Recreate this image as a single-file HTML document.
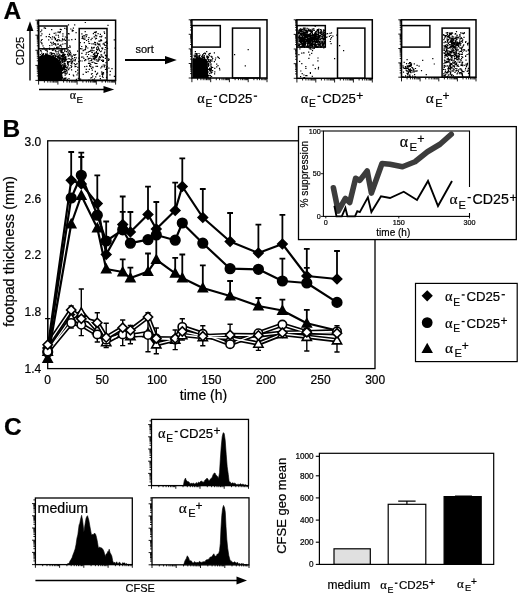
<!DOCTYPE html>
<html><head><meta charset="utf-8"><style>
html,body{margin:0;padding:0;background:#fff;width:520px;height:595px;overflow:hidden}
svg{display:block;filter:blur(0.35px);font-family:"Liberation Sans",sans-serif}
text{stroke:#000;stroke-width:0.2px}
</style></head><body>
<svg width="520" height="595" viewBox="0 0 520 595" font-family="Liberation Sans">
<rect width="520" height="595" fill="#fff"/>
<text x="3.6" y="18.7" font-size="24.5" text-anchor="start" font-weight="bold" >A</text>
<path d="M39 80.4 L39 56.5 C42 55 47 54.6 52 55.4 C56.5 56.5 59.6 60 61 65 C62 69 62.5 75 62.5 80.4 Z" fill="#000"/>
<path d="M52.2 70.3h1.2v1.2h-1.2zM52.4 65.0h1.2v1.2h-1.2zM47.5 65.6h1.2v1.2h-1.2zM61.8 69.8h1.2v1.2h-1.2zM61.3 68.6h1.2v1.2h-1.2zM56.8 68.2h1.2v1.2h-1.2zM42.3 72.6h1.2v1.2h-1.2zM57.5 70.2h1.2v1.2h-1.2zM42.2 55.7h1.2v1.2h-1.2zM47.8 64.0h1.2v1.2h-1.2zM56.1 66.7h1.2v1.2h-1.2zM57.6 62.8h1.2v1.2h-1.2zM56.2 69.6h1.2v1.2h-1.2zM49.4 78.2h1.2v1.2h-1.2zM57.9 74.8h1.2v1.2h-1.2zM49.7 62.2h1.2v1.2h-1.2zM51.6 66.3h1.2v1.2h-1.2zM58.4 68.6h1.2v1.2h-1.2zM50.9 60.8h1.2v1.2h-1.2zM50.4 74.9h1.2v1.2h-1.2zM48.3 68.6h1.2v1.2h-1.2zM57.0 57.3h1.2v1.2h-1.2zM54.3 75.5h1.2v1.2h-1.2zM39.9 64.9h1.2v1.2h-1.2zM53.3 61.7h1.2v1.2h-1.2zM57.5 66.6h1.2v1.2h-1.2zM43.7 72.4h1.2v1.2h-1.2zM58.7 73.1h1.2v1.2h-1.2zM64.1 69.4h1.2v1.2h-1.2zM54.8 58.6h1.2v1.2h-1.2zM58.3 63.0h1.2v1.2h-1.2zM50.8 58.8h1.2v1.2h-1.2zM47.2 63.5h1.2v1.2h-1.2zM63.0 53.8h1.2v1.2h-1.2zM43.8 68.6h1.2v1.2h-1.2zM64.1 70.8h1.2v1.2h-1.2zM40.7 50.6h1.2v1.2h-1.2zM56.5 62.2h1.2v1.2h-1.2zM46.2 73.4h1.2v1.2h-1.2zM61.7 68.0h1.2v1.2h-1.2zM55.7 69.8h1.2v1.2h-1.2zM65.2 71.0h1.2v1.2h-1.2zM57.6 70.6h1.2v1.2h-1.2zM43.0 75.3h1.2v1.2h-1.2zM60.7 70.4h1.2v1.2h-1.2zM40.2 62.9h1.2v1.2h-1.2zM59.9 55.2h1.2v1.2h-1.2zM52.7 73.6h1.2v1.2h-1.2zM44.8 77.5h1.2v1.2h-1.2zM57.9 66.0h1.2v1.2h-1.2zM56.3 71.2h1.2v1.2h-1.2zM54.8 74.4h1.2v1.2h-1.2zM49.4 64.3h1.2v1.2h-1.2zM61.3 67.2h1.2v1.2h-1.2zM47.8 73.2h1.2v1.2h-1.2zM64.3 64.1h1.2v1.2h-1.2zM44.3 66.1h1.2v1.2h-1.2zM53.0 65.1h1.2v1.2h-1.2zM63.8 60.3h1.2v1.2h-1.2zM62.8 58.8h1.2v1.2h-1.2zM48.5 71.1h1.2v1.2h-1.2zM61.9 72.6h1.2v1.2h-1.2zM56.4 67.9h1.2v1.2h-1.2zM55.1 70.7h1.2v1.2h-1.2zM52.8 68.8h1.2v1.2h-1.2zM58.0 67.0h1.2v1.2h-1.2zM59.3 70.7h1.2v1.2h-1.2zM68.1 69.1h1.2v1.2h-1.2zM51.0 64.6h1.2v1.2h-1.2zM53.9 73.0h1.2v1.2h-1.2zM51.6 69.5h1.2v1.2h-1.2zM66.9 50.3h1.2v1.2h-1.2zM46.1 68.6h1.2v1.2h-1.2zM56.8 68.6h1.2v1.2h-1.2zM51.0 71.3h1.2v1.2h-1.2zM56.0 63.6h1.2v1.2h-1.2zM71.0 69.3h1.2v1.2h-1.2zM50.1 66.4h1.2v1.2h-1.2zM52.4 66.6h1.2v1.2h-1.2zM61.1 59.4h1.2v1.2h-1.2zM53.5 73.2h1.2v1.2h-1.2zM60.0 76.7h1.2v1.2h-1.2zM42.1 64.7h1.2v1.2h-1.2zM51.6 71.1h1.2v1.2h-1.2zM61.6 49.6h1.2v1.2h-1.2zM61.6 57.6h1.2v1.2h-1.2zM58.8 57.3h1.2v1.2h-1.2zM55.2 74.8h1.2v1.2h-1.2zM53.0 68.2h1.2v1.2h-1.2zM59.6 67.9h1.2v1.2h-1.2zM53.4 77.0h1.2v1.2h-1.2zM61.3 65.1h1.2v1.2h-1.2zM73.2 59.5h1.2v1.2h-1.2zM60.4 65.3h1.2v1.2h-1.2zM54.9 71.6h1.2v1.2h-1.2zM55.6 71.2h1.2v1.2h-1.2zM43.3 57.2h1.2v1.2h-1.2zM58.3 60.7h1.2v1.2h-1.2zM46.8 57.4h1.2v1.2h-1.2zM62.9 71.9h1.2v1.2h-1.2zM64.3 60.9h1.2v1.2h-1.2zM54.0 59.6h1.2v1.2h-1.2zM59.4 77.3h1.2v1.2h-1.2zM47.8 77.1h1.2v1.2h-1.2zM60.9 65.8h1.2v1.2h-1.2zM40.2 76.1h1.2v1.2h-1.2zM53.3 63.1h1.2v1.2h-1.2zM56.8 69.7h1.2v1.2h-1.2zM64.5 60.4h1.2v1.2h-1.2zM62.0 76.7h1.2v1.2h-1.2zM64.2 65.8h1.2v1.2h-1.2zM48.8 73.6h1.2v1.2h-1.2zM54.8 67.8h1.2v1.2h-1.2zM64.0 65.3h1.2v1.2h-1.2zM41.0 72.3h1.2v1.2h-1.2zM56.2 63.0h1.2v1.2h-1.2zM53.9 72.4h1.2v1.2h-1.2zM54.6 75.6h1.2v1.2h-1.2zM53.6 73.8h1.2v1.2h-1.2zM64.4 77.5h1.2v1.2h-1.2zM49.3 72.7h1.2v1.2h-1.2zM40.9 60.0h1.2v1.2h-1.2zM40.3 73.9h1.2v1.2h-1.2zM45.4 66.9h1.2v1.2h-1.2zM52.7 66.8h1.2v1.2h-1.2zM49.9 68.5h1.2v1.2h-1.2zM66.5 67.3h1.2v1.2h-1.2zM57.7 73.5h1.2v1.2h-1.2zM52.6 58.8h1.2v1.2h-1.2zM50.1 74.0h1.2v1.2h-1.2zM42.5 63.1h1.2v1.2h-1.2zM61.1 72.2h1.2v1.2h-1.2zM54.1 72.2h1.2v1.2h-1.2zM55.2 59.3h1.2v1.2h-1.2zM43.1 62.8h1.2v1.2h-1.2zM60.5 63.3h1.2v1.2h-1.2zM47.7 62.0h1.2v1.2h-1.2zM43.3 66.2h1.2v1.2h-1.2zM45.7 69.4h1.2v1.2h-1.2zM49.5 54.4h1.2v1.2h-1.2zM59.1 65.2h1.2v1.2h-1.2zM56.0 64.0h1.2v1.2h-1.2zM59.5 71.9h1.2v1.2h-1.2zM58.7 69.1h1.2v1.2h-1.2zM63.3 71.3h1.2v1.2h-1.2zM57.2 53.5h1.2v1.2h-1.2zM60.3 75.5h1.2v1.2h-1.2zM51.9 63.9h1.2v1.2h-1.2zM67.6 55.6h1.2v1.2h-1.2zM47.5 71.5h1.2v1.2h-1.2zM67.2 66.2h1.2v1.2h-1.2zM57.9 72.9h1.2v1.2h-1.2zM47.7 66.4h1.2v1.2h-1.2zM56.0 72.4h1.2v1.2h-1.2zM53.8 65.7h1.2v1.2h-1.2zM46.9 64.7h1.2v1.2h-1.2zM60.2 67.7h1.2v1.2h-1.2zM48.0 61.5h1.2v1.2h-1.2zM72.7 74.4h1.2v1.2h-1.2zM58.5 50.1h1.2v1.2h-1.2zM58.4 70.1h1.2v1.2h-1.2zM65.8 69.8h1.2v1.2h-1.2zM53.5 70.4h1.2v1.2h-1.2zM40.4 73.7h1.2v1.2h-1.2zM56.3 62.4h1.2v1.2h-1.2zM63.3 78.8h1.2v1.2h-1.2zM44.2 62.7h1.2v1.2h-1.2zM56.0 68.2h1.2v1.2h-1.2zM51.2 60.7h1.2v1.2h-1.2zM68.8 73.7h1.2v1.2h-1.2zM45.6 58.3h1.2v1.2h-1.2zM65.9 73.4h1.2v1.2h-1.2zM66.7 72.3h1.2v1.2h-1.2zM47.9 68.7h1.2v1.2h-1.2zM53.6 70.4h1.2v1.2h-1.2zM48.9 66.2h1.2v1.2h-1.2zM57.2 69.4h1.2v1.2h-1.2zM58.5 68.4h1.2v1.2h-1.2zM51.7 72.1h1.2v1.2h-1.2zM54.3 61.6h1.2v1.2h-1.2zM49.6 67.0h1.2v1.2h-1.2zM53.2 68.0h1.2v1.2h-1.2zM54.0 68.1h1.2v1.2h-1.2zM53.1 58.8h1.2v1.2h-1.2zM56.9 73.8h1.2v1.2h-1.2zM57.0 65.8h1.2v1.2h-1.2zM57.1 60.7h1.2v1.2h-1.2zM40.7 67.4h1.2v1.2h-1.2zM47.5 71.8h1.2v1.2h-1.2zM46.4 49.9h1.2v1.2h-1.2zM46.7 77.3h1.2v1.2h-1.2zM51.3 58.1h1.2v1.2h-1.2zM48.7 70.4h1.2v1.2h-1.2zM57.5 68.1h1.2v1.2h-1.2zM64.4 71.6h1.2v1.2h-1.2zM53.9 70.9h1.2v1.2h-1.2zM65.6 73.3h1.2v1.2h-1.2zM61.2 60.0h1.2v1.2h-1.2zM53.0 71.7h1.2v1.2h-1.2zM51.9 73.9h1.2v1.2h-1.2zM58.2 72.9h1.2v1.2h-1.2zM62.7 65.6h1.2v1.2h-1.2zM51.6 72.7h1.2v1.2h-1.2zM60.9 67.0h1.2v1.2h-1.2zM45.8 68.2h1.2v1.2h-1.2zM56.5 74.3h1.2v1.2h-1.2zM59.5 67.2h1.2v1.2h-1.2zM60.0 70.5h1.2v1.2h-1.2zM55.4 67.4h1.2v1.2h-1.2zM52.3 71.5h1.2v1.2h-1.2zM46.6 62.9h1.2v1.2h-1.2zM54.0 57.5h1.2v1.2h-1.2zM50.9 53.9h1.2v1.2h-1.2zM49.2 70.7h1.2v1.2h-1.2zM58.0 66.6h1.2v1.2h-1.2zM52.4 57.8h1.2v1.2h-1.2zM66.8 70.4h1.2v1.2h-1.2zM61.7 61.3h1.2v1.2h-1.2zM52.7 55.2h1.2v1.2h-1.2zM59.5 73.1h1.2v1.2h-1.2zM40.7 66.7h1.2v1.2h-1.2zM58.4 55.5h1.2v1.2h-1.2zM41.2 60.1h1.2v1.2h-1.2zM49.6 57.9h1.2v1.2h-1.2zM54.2 68.6h1.2v1.2h-1.2zM58.4 71.6h1.2v1.2h-1.2zM64.5 74.6h1.2v1.2h-1.2zM44.8 63.7h1.2v1.2h-1.2zM46.6 60.0h1.2v1.2h-1.2zM53.4 67.0h1.2v1.2h-1.2zM57.4 56.7h1.2v1.2h-1.2zM45.3 66.8h1.2v1.2h-1.2zM52.6 65.0h1.2v1.2h-1.2zM53.6 62.1h1.2v1.2h-1.2zM58.9 69.3h1.2v1.2h-1.2zM53.4 62.6h1.2v1.2h-1.2zM52.8 49.3h1.2v1.2h-1.2zM47.1 67.2h1.2v1.2h-1.2zM43.5 68.3h1.2v1.2h-1.2zM55.0 58.0h1.2v1.2h-1.2zM52.2 65.0h1.2v1.2h-1.2zM57.2 71.0h1.2v1.2h-1.2zM53.7 61.5h1.2v1.2h-1.2zM53.0 66.6h1.2v1.2h-1.2zM59.1 68.9h1.2v1.2h-1.2zM48.9 58.2h1.2v1.2h-1.2zM51.4 62.2h1.2v1.2h-1.2zM46.2 66.2h1.2v1.2h-1.2zM50.6 67.7h1.2v1.2h-1.2zM57.7 64.3h1.2v1.2h-1.2zM70.3 64.9h1.2v1.2h-1.2zM61.7 67.8h1.2v1.2h-1.2zM61.8 51.6h1.2v1.2h-1.2zM48.7 68.6h1.2v1.2h-1.2zM56.3 75.3h1.2v1.2h-1.2zM59.4 73.2h1.2v1.2h-1.2zM57.6 66.0h1.2v1.2h-1.2zM57.6 60.0h1.2v1.2h-1.2zM62.3 60.4h1.2v1.2h-1.2zM52.4 67.1h1.2v1.2h-1.2zM62.1 67.2h1.2v1.2h-1.2zM48.3 68.7h1.2v1.2h-1.2zM58.1 71.6h1.2v1.2h-1.2zM48.6 78.4h1.2v1.2h-1.2zM65.7 67.1h1.2v1.2h-1.2zM55.9 64.2h1.2v1.2h-1.2zM63.9 62.4h1.2v1.2h-1.2zM58.7 63.9h1.2v1.2h-1.2zM49.1 71.7h1.2v1.2h-1.2zM63.3 66.9h1.2v1.2h-1.2zM49.3 72.3h1.2v1.2h-1.2zM53.7 69.0h1.2v1.2h-1.2zM64.7 74.4h1.2v1.2h-1.2zM54.0 72.1h1.2v1.2h-1.2zM49.5 66.7h1.2v1.2h-1.2zM41.8 78.6h1.2v1.2h-1.2zM63.6 59.1h1.2v1.2h-1.2zM43.5 56.5h1.2v1.2h-1.2zM62.2 64.0h1.2v1.2h-1.2zM53.6 65.0h1.2v1.2h-1.2zM53.2 59.9h1.2v1.2h-1.2zM54.2 57.7h1.2v1.2h-1.2zM53.5 69.0h1.2v1.2h-1.2zM57.3 65.5h1.2v1.2h-1.2zM47.7 68.0h1.2v1.2h-1.2zM50.6 77.2h1.2v1.2h-1.2zM59.4 66.3h1.2v1.2h-1.2zM50.7 62.4h1.2v1.2h-1.2zM47.4 64.7h1.2v1.2h-1.2zM56.1 70.4h1.2v1.2h-1.2zM49.1 67.1h1.2v1.2h-1.2zM73.6 54.9h1.2v1.2h-1.2zM50.3 68.1h1.2v1.2h-1.2zM55.1 69.7h1.2v1.2h-1.2zM52.3 69.4h1.2v1.2h-1.2zM54.4 72.0h1.2v1.2h-1.2zM40.8 61.2h1.2v1.2h-1.2zM54.0 60.3h1.2v1.2h-1.2zM46.7 71.1h1.2v1.2h-1.2zM49.5 71.1h1.2v1.2h-1.2zM59.2 69.0h1.2v1.2h-1.2zM57.6 66.3h1.2v1.2h-1.2zM44.1 66.8h1.2v1.2h-1.2zM57.2 63.6h1.2v1.2h-1.2zM53.3 71.9h1.2v1.2h-1.2zM47.9 71.2h1.2v1.2h-1.2zM67.0 63.4h1.2v1.2h-1.2zM55.0 66.0h1.2v1.2h-1.2zM64.8 69.1h1.2v1.2h-1.2zM60.3 62.5h1.2v1.2h-1.2zM53.9 66.9h1.2v1.2h-1.2zM41.6 76.4h1.2v1.2h-1.2zM60.3 55.6h1.2v1.2h-1.2zM59.2 66.1h1.2v1.2h-1.2zM57.1 69.4h1.2v1.2h-1.2zM43.5 65.6h1.2v1.2h-1.2zM64.4 63.3h1.2v1.2h-1.2zM46.8 58.2h1.2v1.2h-1.2zM45.5 69.2h1.2v1.2h-1.2zM65.8 69.8h1.2v1.2h-1.2zM50.4 62.6h1.2v1.2h-1.2zM57.7 70.6h1.2v1.2h-1.2zM46.9 59.4h1.2v1.2h-1.2zM56.0 68.6h1.2v1.2h-1.2zM44.9 65.7h1.2v1.2h-1.2zM50.2 70.0h1.2v1.2h-1.2zM53.2 66.4h1.2v1.2h-1.2zM51.5 73.8h1.2v1.2h-1.2zM63.7 64.6h1.2v1.2h-1.2zM59.9 62.1h1.2v1.2h-1.2zM54.5 71.9h1.2v1.2h-1.2zM64.6 64.5h1.2v1.2h-1.2zM53.5 68.3h1.2v1.2h-1.2zM43.5 67.1h1.2v1.2h-1.2zM49.3 69.4h1.2v1.2h-1.2zM46.1 54.2h1.2v1.2h-1.2zM54.3 68.7h1.2v1.2h-1.2zM50.2 72.8h1.2v1.2h-1.2zM52.1 63.1h1.2v1.2h-1.2zM57.3 56.8h1.2v1.2h-1.2zM49.3 66.9h1.2v1.2h-1.2zM59.9 65.9h1.2v1.2h-1.2zM56.2 62.7h1.2v1.2h-1.2zM56.1 77.8h1.2v1.2h-1.2zM49.5 67.1h1.2v1.2h-1.2zM55.2 73.7h1.2v1.2h-1.2zM45.3 53.3h1.2v1.2h-1.2zM58.2 72.2h1.2v1.2h-1.2zM55.4 68.7h1.2v1.2h-1.2zM60.5 69.4h1.2v1.2h-1.2zM65.6 59.0h1.2v1.2h-1.2zM51.4 44.6h1.2v1.2h-1.2zM59.7 64.6h1.2v1.2h-1.2zM54.0 65.3h1.2v1.2h-1.2zM50.5 61.6h1.2v1.2h-1.2zM49.6 71.2h1.2v1.2h-1.2zM54.3 67.4h1.2v1.2h-1.2zM52.8 72.9h1.2v1.2h-1.2zM57.5 66.1h1.2v1.2h-1.2zM58.7 66.0h1.2v1.2h-1.2zM45.9 76.5h1.2v1.2h-1.2zM57.3 60.8h1.2v1.2h-1.2zM61.6 69.2h1.2v1.2h-1.2zM43.0 77.5h1.2v1.2h-1.2zM56.3 72.8h1.2v1.2h-1.2zM55.4 66.0h1.2v1.2h-1.2zM43.2 73.3h1.2v1.2h-1.2zM54.2 65.1h1.2v1.2h-1.2zM56.5 67.5h1.2v1.2h-1.2zM58.7 64.6h1.2v1.2h-1.2zM53.7 53.1h1.2v1.2h-1.2zM51.0 71.4h1.2v1.2h-1.2zM63.4 64.6h1.2v1.2h-1.2zM53.2 77.3h1.2v1.2h-1.2zM51.7 71.8h1.2v1.2h-1.2zM65.7 67.3h1.2v1.2h-1.2zM62.6 62.4h1.2v1.2h-1.2zM55.5 66.5h1.2v1.2h-1.2zM54.8 74.3h1.2v1.2h-1.2zM70.7 62.7h1.2v1.2h-1.2zM50.0 70.2h1.2v1.2h-1.2zM46.6 70.2h1.2v1.2h-1.2zM58.0 65.2h1.2v1.2h-1.2zM57.7 56.9h1.2v1.2h-1.2zM59.3 57.0h1.2v1.2h-1.2zM49.1 63.4h1.2v1.2h-1.2zM51.2 72.6h1.2v1.2h-1.2zM54.6 64.4h1.2v1.2h-1.2zM57.8 77.3h1.2v1.2h-1.2zM54.0 69.4h1.2v1.2h-1.2zM62.7 68.7h1.2v1.2h-1.2zM69.5 54.1h1.2v1.2h-1.2zM53.7 69.7h1.2v1.2h-1.2zM60.8 71.3h1.2v1.2h-1.2zM52.1 60.2h1.2v1.2h-1.2zM54.7 73.7h1.2v1.2h-1.2zM46.4 60.3h1.2v1.2h-1.2zM53.8 54.4h1.2v1.2h-1.2zM52.2 64.2h1.2v1.2h-1.2zM57.2 62.4h1.2v1.2h-1.2zM47.8 64.4h1.2v1.2h-1.2zM53.7 62.7h1.2v1.2h-1.2zM54.1 71.9h1.2v1.2h-1.2zM62.3 78.1h1.2v1.2h-1.2zM48.5 64.3h1.2v1.2h-1.2zM48.9 66.8h1.2v1.2h-1.2zM57.7 58.2h1.2v1.2h-1.2zM57.2 66.8h1.2v1.2h-1.2zM41.2 68.9h1.2v1.2h-1.2zM62.4 54.9h1.2v1.2h-1.2zM59.7 68.4h1.2v1.2h-1.2zM57.3 69.9h1.2v1.2h-1.2zM63.1 65.5h1.2v1.2h-1.2zM60.1 64.3h1.2v1.2h-1.2zM59.1 61.7h1.2v1.2h-1.2zM53.2 78.3h1.2v1.2h-1.2zM57.1 66.0h1.2v1.2h-1.2zM46.0 61.9h1.2v1.2h-1.2zM55.4 73.1h1.2v1.2h-1.2zM57.0 70.4h1.2v1.2h-1.2zM53.7 75.8h1.2v1.2h-1.2zM51.3 63.4h1.2v1.2h-1.2zM60.2 67.4h1.2v1.2h-1.2zM52.1 63.3h1.2v1.2h-1.2zM52.2 71.1h1.2v1.2h-1.2zM56.5 59.1h1.2v1.2h-1.2zM57.0 68.2h1.2v1.2h-1.2zM47.0 72.0h1.2v1.2h-1.2zM52.0 64.8h1.2v1.2h-1.2zM59.6 75.6h1.2v1.2h-1.2zM49.2 69.8h1.2v1.2h-1.2zM50.5 74.8h1.2v1.2h-1.2zM49.5 72.3h1.2v1.2h-1.2zM69.5 50.5h1.2v1.2h-1.2zM51.0 70.3h1.2v1.2h-1.2zM53.3 62.7h1.2v1.2h-1.2zM69.1 67.5h1.2v1.2h-1.2zM42.5 72.6h1.2v1.2h-1.2zM41.9 74.5h1.2v1.2h-1.2zM50.0 67.9h1.2v1.2h-1.2zM62.8 67.8h1.2v1.2h-1.2zM44.3 56.0h1.2v1.2h-1.2zM62.3 71.8h1.2v1.2h-1.2zM48.3 72.6h1.2v1.2h-1.2zM57.5 71.2h1.2v1.2h-1.2zM60.3 71.8h1.2v1.2h-1.2zM60.2 51.0h1.2v1.2h-1.2zM55.2 70.2h1.2v1.2h-1.2zM71.9 60.8h1.2v1.2h-1.2zM51.7 67.2h1.2v1.2h-1.2zM60.2 64.1h1.2v1.2h-1.2zM62.0 61.9h1.2v1.2h-1.2zM55.9 63.6h1.2v1.2h-1.2zM55.1 62.5h1.2v1.2h-1.2zM42.8 74.1h1.2v1.2h-1.2zM56.1 63.4h1.2v1.2h-1.2zM55.4 73.4h1.2v1.2h-1.2zM47.2 66.3h1.2v1.2h-1.2zM57.8 70.4h1.2v1.2h-1.2zM51.7 53.3h1.2v1.2h-1.2zM62.7 69.1h1.2v1.2h-1.2zM54.1 65.2h1.2v1.2h-1.2zM55.8 64.2h1.2v1.2h-1.2zM46.8 62.2h1.2v1.2h-1.2zM49.8 63.0h1.2v1.2h-1.2zM45.9 71.1h1.2v1.2h-1.2zM44.8 71.3h1.2v1.2h-1.2zM46.9 69.3h1.2v1.2h-1.2zM63.6 68.3h1.2v1.2h-1.2zM48.9 67.3h1.2v1.2h-1.2zM55.0 55.7h1.2v1.2h-1.2zM49.7 68.1h1.2v1.2h-1.2zM50.7 67.5h1.2v1.2h-1.2zM59.1 72.0h1.2v1.2h-1.2zM60.3 70.8h1.2v1.2h-1.2zM52.0 66.9h1.2v1.2h-1.2zM52.1 65.0h1.2v1.2h-1.2zM52.7 55.8h1.2v1.2h-1.2zM51.7 66.8h1.2v1.2h-1.2zM47.2 66.8h1.2v1.2h-1.2zM57.6 65.9h1.2v1.2h-1.2zM68.5 50.1h1.2v1.2h-1.2zM52.6 55.1h1.2v1.2h-1.2zM57.6 65.0h1.2v1.2h-1.2zM57.9 52.4h1.2v1.2h-1.2zM60.0 69.4h1.2v1.2h-1.2zM54.2 63.2h1.2v1.2h-1.2zM58.5 63.8h1.2v1.2h-1.2zM55.6 63.7h1.2v1.2h-1.2zM55.4 71.9h1.2v1.2h-1.2zM47.9 66.8h1.2v1.2h-1.2zM58.3 67.9h1.2v1.2h-1.2zM47.6 54.5h1.2v1.2h-1.2zM60.0 76.9h1.2v1.2h-1.2zM60.5 72.3h1.2v1.2h-1.2zM49.7 62.4h1.2v1.2h-1.2zM60.2 61.1h1.2v1.2h-1.2zM41.3 60.5h1.2v1.2h-1.2zM49.2 62.3h1.2v1.2h-1.2zM55.6 62.1h1.2v1.2h-1.2zM63.2 66.5h1.2v1.2h-1.2zM46.4 75.5h1.2v1.2h-1.2zM49.9 68.4h1.2v1.2h-1.2zM53.9 65.0h1.2v1.2h-1.2zM56.3 62.5h1.2v1.2h-1.2zM41.1 52.6h1.2v1.2h-1.2zM45.1 62.1h1.2v1.2h-1.2zM53.8 67.4h1.2v1.2h-1.2zM57.9 67.8h1.2v1.2h-1.2zM48.4 62.4h1.2v1.2h-1.2zM57.4 70.4h1.2v1.2h-1.2zM53.2 65.9h1.2v1.2h-1.2zM60.6 67.1h1.2v1.2h-1.2zM59.2 70.8h1.2v1.2h-1.2zM55.5 75.5h1.2v1.2h-1.2zM50.0 64.7h1.2v1.2h-1.2zM48.3 61.8h1.2v1.2h-1.2zM64.9 78.4h1.2v1.2h-1.2zM54.2 70.7h1.2v1.2h-1.2zM62.2 72.2h1.2v1.2h-1.2zM62.4 58.8h1.2v1.2h-1.2zM49.5 69.9h1.2v1.2h-1.2zM64.0 67.7h1.2v1.2h-1.2zM48.0 64.7h1.2v1.2h-1.2zM49.4 61.4h1.2v1.2h-1.2zM64.5 62.9h1.2v1.2h-1.2zM62.3 69.2h1.2v1.2h-1.2zM49.7 69.7h1.2v1.2h-1.2zM65.4 71.0h1.2v1.2h-1.2zM62.8 67.6h1.2v1.2h-1.2zM57.6 65.7h1.2v1.2h-1.2zM57.0 75.5h1.2v1.2h-1.2zM44.0 66.6h1.2v1.2h-1.2zM60.1 57.7h1.2v1.2h-1.2zM47.0 61.1h1.2v1.2h-1.2zM40.3 77.0h1.2v1.2h-1.2zM59.4 72.3h1.2v1.2h-1.2zM58.4 65.6h1.2v1.2h-1.2zM58.3 65.2h1.2v1.2h-1.2zM44.9 55.8h1.2v1.2h-1.2zM45.0 54.0h1.2v1.2h-1.2zM47.7 73.2h1.2v1.2h-1.2zM57.1 75.8h1.2v1.2h-1.2zM57.5 60.2h1.2v1.2h-1.2zM53.4 64.8h1.2v1.2h-1.2zM59.5 67.1h1.2v1.2h-1.2zM45.9 70.3h1.2v1.2h-1.2zM64.1 58.9h1.2v1.2h-1.2zM61.9 53.4h1.2v1.2h-1.2zM45.8 59.4h1.2v1.2h-1.2zM58.3 78.5h1.2v1.2h-1.2zM58.4 61.8h1.2v1.2h-1.2zM61.9 61.9h1.2v1.2h-1.2zM45.2 77.5h1.2v1.2h-1.2zM55.4 71.7h1.2v1.2h-1.2zM51.2 75.7h1.2v1.2h-1.2zM57.1 76.2h1.2v1.2h-1.2zM50.4 72.6h1.2v1.2h-1.2zM53.8 61.3h1.2v1.2h-1.2zM44.5 69.8h1.2v1.2h-1.2zM41.0 77.6h1.2v1.2h-1.2zM42.8 53.7h1.2v1.2h-1.2zM41.8 78.1h1.2v1.2h-1.2zM48.0 56.8h1.2v1.2h-1.2zM39.7 54.1h1.2v1.2h-1.2zM57.0 70.1h1.2v1.2h-1.2zM57.1 72.9h1.2v1.2h-1.2zM40.7 68.9h1.2v1.2h-1.2zM48.4 75.1h1.2v1.2h-1.2zM60.3 77.1h1.2v1.2h-1.2zM40.7 76.4h1.2v1.2h-1.2zM62.8 78.5h1.2v1.2h-1.2zM41.8 58.6h1.2v1.2h-1.2zM41.9 53.9h1.2v1.2h-1.2zM61.0 74.9h1.2v1.2h-1.2zM55.5 75.3h1.2v1.2h-1.2zM55.4 60.8h1.2v1.2h-1.2zM41.6 55.6h1.2v1.2h-1.2zM58.7 58.5h1.2v1.2h-1.2zM47.3 64.4h1.2v1.2h-1.2zM39.5 59.9h1.2v1.2h-1.2zM46.3 72.3h1.2v1.2h-1.2zM48.6 61.7h1.2v1.2h-1.2zM64.1 66.6h1.2v1.2h-1.2zM61.1 69.7h1.2v1.2h-1.2zM39.8 64.1h1.2v1.2h-1.2zM50.3 73.9h1.2v1.2h-1.2zM48.0 72.0h1.2v1.2h-1.2zM53.0 58.8h1.2v1.2h-1.2zM61.4 55.5h1.2v1.2h-1.2zM60.3 57.6h1.2v1.2h-1.2zM51.8 74.5h1.2v1.2h-1.2zM43.8 66.4h1.2v1.2h-1.2zM48.0 75.5h1.2v1.2h-1.2zM45.8 78.5h1.2v1.2h-1.2zM46.4 58.8h1.2v1.2h-1.2zM57.2 66.5h1.2v1.2h-1.2zM41.9 70.2h1.2v1.2h-1.2zM41.1 74.3h1.2v1.2h-1.2zM57.1 74.2h1.2v1.2h-1.2zM55.3 62.6h1.2v1.2h-1.2zM49.4 63.7h1.2v1.2h-1.2zM62.2 55.3h1.2v1.2h-1.2zM62.1 53.7h1.2v1.2h-1.2zM44.4 60.1h1.2v1.2h-1.2zM62.4 66.5h1.2v1.2h-1.2zM48.9 76.9h1.2v1.2h-1.2zM45.1 65.4h1.2v1.2h-1.2zM52.8 73.4h1.2v1.2h-1.2zM58.6 70.5h1.2v1.2h-1.2zM48.1 61.8h1.2v1.2h-1.2zM43.0 75.8h1.2v1.2h-1.2zM56.2 73.0h1.2v1.2h-1.2zM43.4 64.8h1.2v1.2h-1.2zM59.1 68.6h1.2v1.2h-1.2zM42.3 65.5h1.2v1.2h-1.2zM62.0 59.4h1.2v1.2h-1.2zM44.0 61.1h1.2v1.2h-1.2zM57.3 75.8h1.2v1.2h-1.2zM43.0 57.2h1.2v1.2h-1.2zM45.4 61.8h1.2v1.2h-1.2zM52.6 57.3h1.2v1.2h-1.2zM47.5 58.1h1.2v1.2h-1.2zM64.4 72.7h1.2v1.2h-1.2zM41.6 79.0h1.2v1.2h-1.2zM41.6 63.4h1.2v1.2h-1.2zM64.6 74.5h1.2v1.2h-1.2zM58.1 64.7h1.2v1.2h-1.2zM68.4 61.0h1.2v1.2h-1.2zM68.7 58.3h1.2v1.2h-1.2zM65.0 57.5h1.2v1.2h-1.2zM58.9 60.1h1.2v1.2h-1.2zM64.0 53.7h1.2v1.2h-1.2zM62.2 54.5h1.2v1.2h-1.2zM70.3 60.2h1.2v1.2h-1.2zM59.2 59.8h1.2v1.2h-1.2zM70.4 55.3h1.2v1.2h-1.2zM58.6 54.8h1.2v1.2h-1.2zM62.8 58.0h1.2v1.2h-1.2zM64.2 50.9h1.2v1.2h-1.2zM67.2 52.4h1.2v1.2h-1.2zM70.5 53.4h1.2v1.2h-1.2zM62.5 54.4h1.2v1.2h-1.2zM63.3 60.9h1.2v1.2h-1.2zM70.3 58.8h1.2v1.2h-1.2zM67.6 52.4h1.2v1.2h-1.2zM63.4 55.3h1.2v1.2h-1.2zM61.1 58.5h1.2v1.2h-1.2zM62.3 54.9h1.2v1.2h-1.2zM60.8 50.8h1.2v1.2h-1.2zM69.0 61.0h1.2v1.2h-1.2zM66.9 54.1h1.2v1.2h-1.2zM52.5 57.5h1.2v1.2h-1.2zM72.1 57.9h1.2v1.2h-1.2zM70.6 61.4h1.2v1.2h-1.2zM71.6 55.7h1.2v1.2h-1.2zM71.3 59.3h1.2v1.2h-1.2zM58.3 55.8h1.2v1.2h-1.2zM58.9 56.7h1.2v1.2h-1.2zM68.9 53.8h1.2v1.2h-1.2zM55.7 60.9h1.2v1.2h-1.2zM67.9 61.4h1.2v1.2h-1.2zM59.4 60.2h1.2v1.2h-1.2zM76.4 63.0h1.2v1.2h-1.2zM64.9 57.8h1.2v1.2h-1.2zM65.2 60.0h1.2v1.2h-1.2zM71.2 57.3h1.2v1.2h-1.2zM59.2 59.2h1.2v1.2h-1.2zM63.7 58.9h1.2v1.2h-1.2zM67.3 61.9h1.2v1.2h-1.2zM71.7 55.6h1.2v1.2h-1.2zM67.7 62.3h1.2v1.2h-1.2zM63.3 58.3h1.2v1.2h-1.2zM72.0 60.8h1.2v1.2h-1.2zM68.6 53.0h1.2v1.2h-1.2zM59.7 57.7h1.2v1.2h-1.2zM67.9 64.6h1.2v1.2h-1.2zM61.7 60.4h1.2v1.2h-1.2zM69.9 52.0h1.2v1.2h-1.2zM61.9 57.5h1.2v1.2h-1.2zM63.5 56.5h1.2v1.2h-1.2zM68.4 54.6h1.2v1.2h-1.2zM68.3 55.1h1.2v1.2h-1.2zM63.3 58.6h1.2v1.2h-1.2zM63.1 57.9h1.2v1.2h-1.2zM74.0 57.1h1.2v1.2h-1.2zM65.3 59.2h1.2v1.2h-1.2zM64.2 60.2h1.2v1.2h-1.2zM59.6 58.9h1.2v1.2h-1.2zM63.4 54.6h1.2v1.2h-1.2zM74.8 54.4h1.2v1.2h-1.2zM74.8 59.0h1.2v1.2h-1.2zM73.3 54.1h1.2v1.2h-1.2zM72.0 61.4h1.2v1.2h-1.2zM65.4 56.6h1.2v1.2h-1.2zM78.3 57.5h1.2v1.2h-1.2zM63.9 55.1h1.2v1.2h-1.2zM68.2 58.0h1.2v1.2h-1.2zM66.9 62.2h1.2v1.2h-1.2zM64.4 58.4h1.2v1.2h-1.2zM73.3 54.0h1.2v1.2h-1.2zM71.2 62.5h1.2v1.2h-1.2zM59.2 53.7h1.2v1.2h-1.2zM60.8 51.5h1.2v1.2h-1.2zM68.3 51.4h1.2v1.2h-1.2zM68.5 61.4h1.2v1.2h-1.2zM57.9 56.1h1.2v1.2h-1.2zM56.4 59.3h1.2v1.2h-1.2zM62.3 56.2h1.2v1.2h-1.2zM66.3 58.6h1.2v1.2h-1.2zM64.3 57.0h1.2v1.2h-1.2zM63.3 57.3h1.2v1.2h-1.2zM60.1 57.2h1.2v1.2h-1.2zM56.3 55.5h1.2v1.2h-1.2zM75.6 57.2h1.2v1.2h-1.2zM59.7 57.8h1.2v1.2h-1.2zM61.1 52.0h1.2v1.2h-1.2zM62.3 59.2h1.2v1.2h-1.2zM65.9 28.6h1.2v1.2h-1.2zM57.2 40.4h1.2v1.2h-1.2zM40.8 39.8h1.2v1.2h-1.2zM58.4 46.6h1.2v1.2h-1.2zM48.9 47.6h1.2v1.2h-1.2zM53.8 37.2h1.2v1.2h-1.2zM64.2 27.7h1.2v1.2h-1.2zM59.4 40.1h1.2v1.2h-1.2zM49.1 45.1h1.2v1.2h-1.2zM49.9 37.0h1.2v1.2h-1.2zM54.2 43.2h1.2v1.2h-1.2zM45.7 36.1h1.2v1.2h-1.2zM51.4 38.6h1.2v1.2h-1.2zM62.3 33.2h1.2v1.2h-1.2zM62.3 35.5h1.2v1.2h-1.2zM53.6 32.7h1.2v1.2h-1.2zM53.7 47.5h1.2v1.2h-1.2zM57.7 43.6h1.2v1.2h-1.2zM48.9 33.7h1.2v1.2h-1.2zM48.1 39.3h1.2v1.2h-1.2zM57.1 43.5h1.2v1.2h-1.2zM41.1 42.2h1.2v1.2h-1.2zM63.9 38.5h1.2v1.2h-1.2zM41.3 33.3h1.2v1.2h-1.2zM40.2 31.0h1.2v1.2h-1.2zM64.9 39.8h1.2v1.2h-1.2zM57.8 43.6h1.2v1.2h-1.2zM64.6 39.8h1.2v1.2h-1.2zM56.7 40.2h1.2v1.2h-1.2zM58.8 39.5h1.2v1.2h-1.2zM58.4 31.5h1.2v1.2h-1.2zM58.0 36.6h1.2v1.2h-1.2zM60.6 29.1h1.2v1.2h-1.2zM44.9 27.8h1.2v1.2h-1.2zM60.9 46.2h1.2v1.2h-1.2zM57.7 34.7h1.2v1.2h-1.2zM62.2 43.5h1.2v1.2h-1.2zM55.2 32.4h1.2v1.2h-1.2zM48.2 35.9h1.2v1.2h-1.2zM48.6 36.0h1.2v1.2h-1.2zM57.3 46.6h1.2v1.2h-1.2zM41.5 38.9h1.2v1.2h-1.2zM41.1 29.5h1.2v1.2h-1.2zM61.9 39.1h1.2v1.2h-1.2zM64.8 36.4h1.2v1.2h-1.2zM40.4 35.1h1.2v1.2h-1.2zM56.0 46.7h1.2v1.2h-1.2zM66.5 37.0h1.2v1.2h-1.2zM51.1 29.1h1.2v1.2h-1.2zM57.4 31.5h1.2v1.2h-1.2zM44.1 27.3h1.2v1.2h-1.2zM40.1 41.4h1.2v1.2h-1.2zM43.3 47.3h1.2v1.2h-1.2zM42.4 45.3h1.2v1.2h-1.2zM43.5 27.4h1.2v1.2h-1.2zM59.4 32.1h1.2v1.2h-1.2zM59.8 30.9h1.2v1.2h-1.2zM41.4 43.3h1.2v1.2h-1.2zM59.3 45.0h1.2v1.2h-1.2zM59.7 28.8h1.2v1.2h-1.2zM53.7 36.6h1.2v1.2h-1.2zM50.2 41.7h1.2v1.2h-1.2zM56.8 47.7h1.2v1.2h-1.2zM56.9 39.6h1.2v1.2h-1.2zM61.3 40.4h1.2v1.2h-1.2zM57.5 38.9h1.2v1.2h-1.2zM55.2 44.5h1.2v1.2h-1.2zM60.0 45.1h1.2v1.2h-1.2zM56.0 40.1h1.2v1.2h-1.2zM54.4 42.9h1.2v1.2h-1.2zM52.8 41.7h1.2v1.2h-1.2zM60.3 44.2h1.2v1.2h-1.2zM54.2 43.3h1.2v1.2h-1.2zM54.9 37.7h1.2v1.2h-1.2zM53.0 43.5h1.2v1.2h-1.2zM61.9 38.2h1.2v1.2h-1.2zM54.7 39.0h1.2v1.2h-1.2zM64.5 43.0h1.2v1.2h-1.2zM55.4 34.6h1.2v1.2h-1.2zM55.0 43.6h1.2v1.2h-1.2zM62.6 39.2h1.2v1.2h-1.2zM54.9 38.5h1.2v1.2h-1.2zM51.3 42.7h1.2v1.2h-1.2zM53.7 43.2h1.2v1.2h-1.2zM51.9 36.2h1.2v1.2h-1.2zM61.0 50.3h1.2v1.2h-1.2zM40.0 50.1h1.2v1.2h-1.2zM51.0 52.7h1.2v1.2h-1.2zM61.2 55.1h1.2v1.2h-1.2zM41.1 54.7h1.2v1.2h-1.2zM61.1 54.9h1.2v1.2h-1.2zM54.9 50.2h1.2v1.2h-1.2zM62.1 54.5h1.2v1.2h-1.2zM57.8 55.3h1.2v1.2h-1.2zM49.0 48.7h1.2v1.2h-1.2zM54.4 54.4h1.2v1.2h-1.2zM45.2 54.0h1.2v1.2h-1.2zM64.2 49.9h1.2v1.2h-1.2zM55.8 53.4h1.2v1.2h-1.2zM52.1 49.7h1.2v1.2h-1.2zM46.6 54.0h1.2v1.2h-1.2zM60.6 51.7h1.2v1.2h-1.2zM42.3 54.5h1.2v1.2h-1.2zM60.1 49.9h1.2v1.2h-1.2zM55.1 55.2h1.2v1.2h-1.2zM63.0 52.2h1.2v1.2h-1.2zM52.4 52.7h1.2v1.2h-1.2zM44.9 49.5h1.2v1.2h-1.2zM44.7 53.6h1.2v1.2h-1.2zM49.4 52.5h1.2v1.2h-1.2zM50.5 52.1h1.2v1.2h-1.2zM43.9 48.4h1.2v1.2h-1.2zM65.9 51.0h1.2v1.2h-1.2zM42.8 53.1h1.2v1.2h-1.2zM60.5 49.2h1.2v1.2h-1.2zM55.5 50.8h1.2v1.2h-1.2zM53.5 48.2h1.2v1.2h-1.2zM40.9 55.9h1.2v1.2h-1.2zM62.5 51.9h1.2v1.2h-1.2zM54.7 50.1h1.2v1.2h-1.2zM60.3 51.4h1.2v1.2h-1.2zM64.6 54.1h1.2v1.2h-1.2zM61.3 55.7h1.2v1.2h-1.2zM46.6 48.3h1.2v1.2h-1.2zM45.2 49.4h1.2v1.2h-1.2zM42.2 48.4h1.2v1.2h-1.2zM54.5 55.0h1.2v1.2h-1.2zM51.9 55.6h1.2v1.2h-1.2zM63.7 48.5h1.2v1.2h-1.2zM55.5 51.2h1.2v1.2h-1.2zM43.1 55.7h1.2v1.2h-1.2zM46.7 52.5h1.2v1.2h-1.2zM56.7 55.7h1.2v1.2h-1.2zM57.4 51.1h1.2v1.2h-1.2zM51.7 49.3h1.2v1.2h-1.2zM65.1 55.9h1.2v1.2h-1.2zM45.8 48.3h1.2v1.2h-1.2zM46.7 50.8h1.2v1.2h-1.2zM63.5 55.2h1.2v1.2h-1.2zM61.8 48.4h1.2v1.2h-1.2zM76.4 74.2h1.2v1.2h-1.2zM63.9 62.9h1.2v1.2h-1.2zM75.8 78.8h1.2v1.2h-1.2zM74.5 66.0h1.2v1.2h-1.2zM73.1 75.2h1.2v1.2h-1.2zM64.8 66.5h1.2v1.2h-1.2zM67.4 62.5h1.2v1.2h-1.2zM71.2 63.4h1.2v1.2h-1.2zM67.1 62.9h1.2v1.2h-1.2zM74.5 60.3h1.2v1.2h-1.2zM75.2 63.9h1.2v1.2h-1.2zM63.6 78.6h1.2v1.2h-1.2zM66.7 78.7h1.2v1.2h-1.2zM77.7 77.8h1.2v1.2h-1.2zM65.4 68.9h1.2v1.2h-1.2zM64.6 78.6h1.2v1.2h-1.2zM77.3 72.6h1.2v1.2h-1.2zM70.7 66.8h1.2v1.2h-1.2zM77.0 69.6h1.2v1.2h-1.2zM73.7 62.9h1.2v1.2h-1.2zM66.8 61.1h1.2v1.2h-1.2zM75.1 71.1h1.2v1.2h-1.2zM65.5 77.4h1.2v1.2h-1.2zM67.5 68.2h1.2v1.2h-1.2zM65.6 65.4h1.2v1.2h-1.2zM77.3 66.7h1.2v1.2h-1.2zM65.9 69.8h1.2v1.2h-1.2zM68.4 78.1h1.2v1.2h-1.2zM64.0 77.9h1.2v1.2h-1.2zM74.4 64.2h1.2v1.2h-1.2zM71.1 65.7h1.2v1.2h-1.2zM67.4 64.0h1.2v1.2h-1.2zM80.0 78.5h1.2v1.2h-1.2zM64.7 65.8h1.2v1.2h-1.2zM78.2 61.1h1.2v1.2h-1.2zM75.4 65.9h1.2v1.2h-1.2zM79.6 60.3h1.2v1.2h-1.2zM102.0 47.7h1.2v1.2h-1.2zM84.6 31.1h1.2v1.2h-1.2zM102.6 56.8h1.2v1.2h-1.2zM85.8 52.3h1.2v1.2h-1.2zM104.7 41.7h1.2v1.2h-1.2zM95.9 37.8h1.2v1.2h-1.2zM85.7 68.8h1.2v1.2h-1.2zM99.5 40.6h1.2v1.2h-1.2zM83.1 35.3h1.2v1.2h-1.2zM96.8 55.3h1.2v1.2h-1.2zM88.1 41.1h1.2v1.2h-1.2zM96.9 65.7h1.2v1.2h-1.2zM102.1 59.6h1.2v1.2h-1.2zM86.3 34.2h1.2v1.2h-1.2zM100.1 51.0h1.2v1.2h-1.2zM99.8 33.7h1.2v1.2h-1.2zM102.1 47.4h1.2v1.2h-1.2zM102.9 73.4h1.2v1.2h-1.2zM93.8 31.8h1.2v1.2h-1.2zM104.7 54.4h1.2v1.2h-1.2zM103.7 44.0h1.2v1.2h-1.2zM85.8 71.7h1.2v1.2h-1.2zM90.5 39.0h1.2v1.2h-1.2zM90.7 60.1h1.2v1.2h-1.2zM81.1 56.5h1.2v1.2h-1.2zM92.6 56.3h1.2v1.2h-1.2zM84.1 66.0h1.2v1.2h-1.2zM102.2 73.4h1.2v1.2h-1.2zM89.3 65.8h1.2v1.2h-1.2zM90.9 67.8h1.2v1.2h-1.2zM82.6 73.8h1.2v1.2h-1.2zM105.8 55.2h1.2v1.2h-1.2zM94.3 57.0h1.2v1.2h-1.2zM95.0 32.0h1.2v1.2h-1.2zM106.2 42.0h1.2v1.2h-1.2zM85.7 36.0h1.2v1.2h-1.2zM87.5 71.0h1.2v1.2h-1.2zM81.8 35.7h1.2v1.2h-1.2zM99.2 40.6h1.2v1.2h-1.2zM81.5 60.4h1.2v1.2h-1.2zM96.0 56.6h1.2v1.2h-1.2zM99.3 36.0h1.2v1.2h-1.2zM103.6 66.1h1.2v1.2h-1.2zM82.2 37.0h1.2v1.2h-1.2zM93.8 55.5h1.2v1.2h-1.2zM88.3 37.0h1.2v1.2h-1.2zM91.5 37.7h1.2v1.2h-1.2zM96.4 73.2h1.2v1.2h-1.2zM84.8 59.1h1.2v1.2h-1.2zM100.4 39.1h1.2v1.2h-1.2zM102.5 76.9h1.2v1.2h-1.2zM91.1 51.6h1.2v1.2h-1.2zM102.8 56.8h1.2v1.2h-1.2zM91.3 77.1h1.2v1.2h-1.2zM101.2 47.6h1.2v1.2h-1.2zM87.2 47.4h1.2v1.2h-1.2zM92.3 79.1h1.2v1.2h-1.2zM101.9 75.7h1.2v1.2h-1.2zM102.2 72.5h1.2v1.2h-1.2zM82.4 56.4h1.2v1.2h-1.2zM105.9 76.8h1.2v1.2h-1.2zM87.5 51.7h1.2v1.2h-1.2zM97.4 48.9h1.2v1.2h-1.2zM94.8 34.4h1.2v1.2h-1.2zM92.3 55.7h1.2v1.2h-1.2zM81.5 37.8h1.2v1.2h-1.2zM106.2 69.1h1.2v1.2h-1.2zM105.4 62.0h1.2v1.2h-1.2zM102.0 74.3h1.2v1.2h-1.2zM104.0 32.7h1.2v1.2h-1.2zM97.7 44.0h1.2v1.2h-1.2zM98.6 44.4h1.2v1.2h-1.2zM95.1 76.3h1.2v1.2h-1.2zM97.2 43.3h1.2v1.2h-1.2zM94.5 52.3h1.2v1.2h-1.2zM105.7 45.1h1.2v1.2h-1.2zM88.9 62.7h1.2v1.2h-1.2zM84.1 60.1h1.2v1.2h-1.2zM105.9 56.2h1.2v1.2h-1.2zM88.0 53.9h1.2v1.2h-1.2zM94.9 38.3h1.2v1.2h-1.2zM84.2 37.4h1.2v1.2h-1.2zM88.6 50.9h1.2v1.2h-1.2zM88.5 42.9h1.2v1.2h-1.2zM83.3 57.8h1.2v1.2h-1.2zM102.8 60.9h1.2v1.2h-1.2zM95.8 62.9h1.2v1.2h-1.2zM86.2 65.8h1.2v1.2h-1.2zM93.0 57.9h1.2v1.2h-1.2zM96.9 54.0h1.2v1.2h-1.2zM89.1 42.9h1.2v1.2h-1.2zM86.8 56.1h1.2v1.2h-1.2zM91.0 59.7h1.2v1.2h-1.2zM81.3 48.3h1.2v1.2h-1.2zM103.4 42.7h1.2v1.2h-1.2zM95.5 55.1h1.2v1.2h-1.2zM88.4 79.4h1.2v1.2h-1.2zM88.7 68.8h1.2v1.2h-1.2zM85.1 34.3h1.2v1.2h-1.2zM103.7 52.6h1.2v1.2h-1.2zM82.6 50.0h1.2v1.2h-1.2zM92.4 67.0h1.2v1.2h-1.2zM83.8 42.0h1.2v1.2h-1.2zM105.9 67.2h1.2v1.2h-1.2zM85.0 47.5h1.2v1.2h-1.2zM90.2 64.1h1.2v1.2h-1.2zM97.0 72.6h1.2v1.2h-1.2zM102.4 56.4h1.2v1.2h-1.2zM100.2 67.4h1.2v1.2h-1.2zM100.8 54.3h1.2v1.2h-1.2zM101.4 65.7h1.2v1.2h-1.2zM104.8 37.2h1.2v1.2h-1.2zM103.6 31.2h1.2v1.2h-1.2zM100.9 59.7h1.2v1.2h-1.2zM93.9 78.2h1.2v1.2h-1.2zM95.9 51.5h1.2v1.2h-1.2zM101.4 73.8h1.2v1.2h-1.2zM96.8 49.6h1.2v1.2h-1.2zM92.8 53.4h1.2v1.2h-1.2zM99.8 45.4h1.2v1.2h-1.2zM91.2 58.2h1.2v1.2h-1.2zM91.0 46.8h1.2v1.2h-1.2zM101.5 72.6h1.2v1.2h-1.2zM94.0 52.8h1.2v1.2h-1.2zM85.8 45.9h1.2v1.2h-1.2zM84.8 59.2h1.2v1.2h-1.2zM96.1 35.3h1.2v1.2h-1.2zM104.9 46.9h1.2v1.2h-1.2zM102.9 72.1h1.2v1.2h-1.2zM105.9 41.0h1.2v1.2h-1.2zM92.1 75.6h1.2v1.2h-1.2zM81.3 33.3h1.2v1.2h-1.2zM95.7 55.4h1.2v1.2h-1.2zM104.9 68.9h1.2v1.2h-1.2zM94.5 56.3h1.2v1.2h-1.2zM98.8 50.1h1.2v1.2h-1.2zM90.3 60.1h1.2v1.2h-1.2zM90.1 77.4h1.2v1.2h-1.2zM98.6 56.7h1.2v1.2h-1.2zM83.6 49.3h1.2v1.2h-1.2zM91.4 58.5h1.2v1.2h-1.2zM95.9 74.1h1.2v1.2h-1.2zM106.1 54.8h1.2v1.2h-1.2zM92.4 61.6h1.2v1.2h-1.2zM106.9 47.8h1.2v1.2h-1.2zM94.8 71.0h1.2v1.2h-1.2zM85.4 46.6h1.2v1.2h-1.2zM106.4 71.5h1.2v1.2h-1.2zM94.3 36.4h1.2v1.2h-1.2zM104.3 64.8h1.2v1.2h-1.2zM104.1 51.6h1.2v1.2h-1.2zM85.1 45.2h1.2v1.2h-1.2zM94.3 55.7h1.2v1.2h-1.2zM85.9 39.9h1.2v1.2h-1.2zM97.4 60.6h1.2v1.2h-1.2zM97.5 33.1h1.2v1.2h-1.2zM91.7 69.6h1.2v1.2h-1.2zM89.0 64.8h1.2v1.2h-1.2zM81.1 45.9h1.2v1.2h-1.2zM102.9 59.7h1.2v1.2h-1.2zM98.4 40.6h1.2v1.2h-1.2zM93.9 58.1h1.2v1.2h-1.2zM87.9 62.7h1.2v1.2h-1.2zM95.9 51.1h1.2v1.2h-1.2zM84.2 38.7h1.2v1.2h-1.2zM100.7 36.2h1.2v1.2h-1.2zM99.0 56.0h1.2v1.2h-1.2zM84.9 49.1h1.2v1.2h-1.2zM87.8 39.0h1.2v1.2h-1.2zM96.9 52.7h1.2v1.2h-1.2zM96.7 42.4h1.2v1.2h-1.2zM94.8 42.0h1.2v1.2h-1.2zM98.3 59.6h1.2v1.2h-1.2zM106.5 65.9h1.2v1.2h-1.2zM91.2 47.0h1.2v1.2h-1.2zM90.4 55.4h1.2v1.2h-1.2zM107.9 59.8h1.2v1.2h-1.2zM82.8 38.2h1.2v1.2h-1.2zM88.2 57.7h1.2v1.2h-1.2zM96.0 55.3h1.2v1.2h-1.2zM106.7 42.9h1.2v1.2h-1.2zM90.9 73.6h1.2v1.2h-1.2zM98.1 43.4h1.2v1.2h-1.2zM83.8 35.2h1.2v1.2h-1.2zM81.3 52.8h1.2v1.2h-1.2zM96.3 62.9h1.2v1.2h-1.2zM95.2 44.4h1.2v1.2h-1.2zM91.6 72.9h1.2v1.2h-1.2zM85.4 53.9h1.2v1.2h-1.2zM96.2 58.8h1.2v1.2h-1.2zM93.6 57.5h1.2v1.2h-1.2zM100.9 50.4h1.2v1.2h-1.2zM93.3 50.0h1.2v1.2h-1.2zM90.2 49.7h1.2v1.2h-1.2zM94.2 54.3h1.2v1.2h-1.2zM104.0 66.4h1.2v1.2h-1.2zM93.3 58.6h1.2v1.2h-1.2zM97.8 60.4h1.2v1.2h-1.2zM96.1 54.9h1.2v1.2h-1.2zM93.2 43.4h1.2v1.2h-1.2zM101.2 66.3h1.2v1.2h-1.2zM100.0 56.8h1.2v1.2h-1.2zM97.6 47.0h1.2v1.2h-1.2zM85.3 59.3h1.2v1.2h-1.2zM97.2 45.9h1.2v1.2h-1.2zM90.2 66.1h1.2v1.2h-1.2zM85.2 71.4h1.2v1.2h-1.2zM99.8 78.1h1.2v1.2h-1.2zM91.7 51.8h1.2v1.2h-1.2zM93.0 53.7h1.2v1.2h-1.2zM94.7 43.8h1.2v1.2h-1.2zM102.4 43.4h1.2v1.2h-1.2zM93.0 58.1h1.2v1.2h-1.2zM92.8 47.2h1.2v1.2h-1.2zM98.1 48.0h1.2v1.2h-1.2zM88.5 50.9h1.2v1.2h-1.2zM94.7 70.8h1.2v1.2h-1.2zM89.4 62.7h1.2v1.2h-1.2zM91.3 48.1h1.2v1.2h-1.2zM94.0 55.0h1.2v1.2h-1.2zM101.2 71.2h1.2v1.2h-1.2zM92.2 66.6h1.2v1.2h-1.2zM102.0 60.9h1.2v1.2h-1.2zM91.4 61.9h1.2v1.2h-1.2zM95.4 55.9h1.2v1.2h-1.2zM94.4 59.3h1.2v1.2h-1.2zM102.7 64.4h1.2v1.2h-1.2zM94.8 62.9h1.2v1.2h-1.2zM104.7 41.7h1.2v1.2h-1.2zM104.8 37.3h1.2v1.2h-1.2zM99.3 58.5h1.2v1.2h-1.2zM104.9 55.1h1.2v1.2h-1.2zM93.1 43.2h1.2v1.2h-1.2zM88.5 60.4h1.2v1.2h-1.2zM94.6 44.1h1.2v1.2h-1.2zM99.2 43.6h1.2v1.2h-1.2zM93.4 47.0h1.2v1.2h-1.2zM105.9 68.1h1.2v1.2h-1.2zM95.1 34.7h1.2v1.2h-1.2zM97.7 52.8h1.2v1.2h-1.2zM98.1 58.2h1.2v1.2h-1.2zM94.1 62.2h1.2v1.2h-1.2zM101.0 54.3h1.2v1.2h-1.2zM93.6 46.7h1.2v1.2h-1.2zM100.2 39.9h1.2v1.2h-1.2zM95.0 43.8h1.2v1.2h-1.2zM87.6 58.6h1.2v1.2h-1.2zM95.8 52.4h1.2v1.2h-1.2zM101.2 35.6h1.2v1.2h-1.2zM95.6 55.2h1.2v1.2h-1.2zM101.0 40.1h1.2v1.2h-1.2zM100.3 54.4h1.2v1.2h-1.2zM104.1 64.5h1.2v1.2h-1.2zM99.3 75.6h1.2v1.2h-1.2zM96.0 47.3h1.2v1.2h-1.2zM94.0 41.7h1.2v1.2h-1.2zM95.8 31.3h1.2v1.2h-1.2zM95.5 56.7h1.2v1.2h-1.2zM101.9 48.2h1.2v1.2h-1.2zM104.3 44.8h1.2v1.2h-1.2zM95.2 31.3h1.2v1.2h-1.2zM91.4 43.3h1.2v1.2h-1.2zM104.8 57.7h1.2v1.2h-1.2zM89.5 57.7h1.2v1.2h-1.2zM98.8 49.5h1.2v1.2h-1.2zM96.1 48.7h1.2v1.2h-1.2zM92.8 33.0h1.2v1.2h-1.2zM95.5 65.8h1.2v1.2h-1.2zM104.4 49.0h1.2v1.2h-1.2zM91.6 49.7h1.2v1.2h-1.2zM101.3 55.8h1.2v1.2h-1.2zM92.6 55.9h1.2v1.2h-1.2zM94.8 57.5h1.2v1.2h-1.2zM93.6 36.2h1.2v1.2h-1.2zM96.3 60.2h1.2v1.2h-1.2zM89.5 50.8h1.2v1.2h-1.2zM114.5 47.6h1.2v1.2h-1.2zM109.4 74.2h1.2v1.2h-1.2zM108.1 58.2h1.2v1.2h-1.2zM109.7 70.8h1.2v1.2h-1.2zM111.4 68.0h1.2v1.2h-1.2zM69.2 45.3h1.2v1.2h-1.2zM74.8 38.8h1.2v1.2h-1.2zM77.0 50.6h1.2v1.2h-1.2zM68.5 33.3h1.2v1.2h-1.2zM71.7 30.6h1.2v1.2h-1.2zM67.8 33.0h1.2v1.2h-1.2zM69.6 46.5h1.2v1.2h-1.2zM72.8 27.6h1.2v1.2h-1.2zM71.2 39.0h1.2v1.2h-1.2zM71.7 29.4h1.2v1.2h-1.2zM67.9 24.3h1.2v1.2h-1.2zM79.9 48.0h1.2v1.2h-1.2zM68.1 46.9h1.2v1.2h-1.2zM79.7 42.0h1.2v1.2h-1.2zM68.4 39.6h1.2v1.2h-1.2zM72.6 30.1h1.2v1.2h-1.2zM74.1 24.3h1.2v1.2h-1.2zM79.0 44.6h1.2v1.2h-1.2zM75.2 53.9h1.2v1.2h-1.2zM75.5 32.0h1.2v1.2h-1.2zM70.2 28.4h1.2v1.2h-1.2zM67.4 48.8h1.2v1.2h-1.2zM113.7 39.2h1.2v1.2h-1.2zM108.5 59.0h1.2v1.2h-1.2zM113.8 75.7h1.2v1.2h-1.2zM108.3 67.5h1.2v1.2h-1.2zM107.4 24.7h1.2v1.2h-1.2zM84.7 21.9h1.2v1.2h-1.2z" fill="#000"/>
<path d="M35.4 80.4H38.6M38.6 80.4V84.6M36.8 75.9H38.6M44.4 80.4V82.6M36.8 73.2H38.6M47.8 80.4V82.6M36.8 71.3H38.6M50.2 80.4V82.6M36.8 69.9H38.6M52.1 80.4V82.6M36.8 68.7H38.6M53.6 80.4V82.6M36.8 67.7H38.6M54.9 80.4V82.6M36.8 66.8H38.6M56.0 80.4V82.6M36.8 66.0H38.6M57.0 80.4V82.6M35.4 65.4H38.6M57.9 80.4V84.6M36.8 60.8H38.6M63.6 80.4V82.6M36.8 58.2H38.6M67.0 80.4V82.6M36.8 56.3H38.6M69.4 80.4V82.6M36.8 54.8H38.6M71.3 80.4V82.6M36.8 53.6H38.6M72.8 80.4V82.6M36.8 52.6H38.6M74.1 80.4V82.6M36.8 51.8H38.6M75.2 80.4V82.6M36.8 51.0H38.6M76.2 80.4V82.6M35.4 50.3H38.6M77.1 80.4V84.6M36.8 45.8H38.6M82.9 80.4V82.6M36.8 43.1H38.6M86.3 80.4V82.6M36.8 41.2H38.6M88.7 80.4V82.6M36.8 39.8H38.6M90.6 80.4V82.6M36.8 38.6H38.6M92.1 80.4V82.6M36.8 37.6H38.6M93.4 80.4V82.6M36.8 36.7H38.6M94.5 80.4V82.6M36.8 35.9H38.6M95.5 80.4V82.6M35.4 35.2H38.6M96.3 80.4V84.6M36.8 30.7H38.6M102.1 80.4V82.6M36.8 28.1H38.6M105.5 80.4V82.6M36.8 26.2H38.6M107.9 80.4V82.6M36.8 24.7H38.6M109.8 80.4V82.6M36.8 23.5H38.6M111.3 80.4V82.6M36.8 22.5H38.6M112.6 80.4V82.6M36.8 21.7H38.6M113.7 80.4V82.6M36.8 20.9H38.6M114.7 80.4V82.6M35.4 20.2H38.6M115.6 80.4V84.6" stroke="#000" stroke-width="0.9" fill="none"/>
<rect x="38.6" y="20.2" width="77.0" height="60.2" fill="none" stroke="#000" stroke-width="1.5"/>
<rect x="38.6" y="26.0" width="28.4" height="22.8" fill="none" stroke="#000" stroke-width="1.5"/>
<rect x="79.2" y="28.5" width="27.8" height="51.9" fill="none" stroke="#000" stroke-width="1.5"/>
<line x1="30.0" y1="80.5" x2="30.0" y2="30.0" stroke="#000" stroke-width="1.4"/>
<polygon points="26.6,31 33.4,31 30,21.3" fill="#000"/>
<line x1="39.0" y1="89.6" x2="104.5" y2="89.6" stroke="#000" stroke-width="1.5"/>
<polygon points="103.5,86.1 103.5,93.1 114.2,89.6" fill="#000"/>
<text transform="translate(23.8,51) rotate(-90)" font-size="11.2" text-anchor="middle">CD25</text>
<text x="69.7" y="98.6" font-size="12" font-family="Liberation Serif">α</text><text x="76.6" y="102.8" font-size="9.6">E</text>
<text x="135.4" y="52.9" font-size="11" text-anchor="start" font-weight="normal" >sort</text>
<line x1="125.0" y1="60.1" x2="166.0" y2="60.1" stroke="#000" stroke-width="2"/>
<polygon points="165,56 165,64.2 176.8,60.1" fill="#000"/>
<path d="M192.5 78 L192.5 59 C196 57.8 202 57.8 206 59 C207.8 62 208.3 70 208.3 78 Z" fill="#000"/>
<path d="M208.2 62.7h1.2v1.2h-1.2zM199.5 67.9h1.2v1.2h-1.2zM199.5 74.2h1.2v1.2h-1.2zM197.0 56.4h1.2v1.2h-1.2zM203.3 69.6h1.2v1.2h-1.2zM208.1 71.4h1.2v1.2h-1.2zM209.7 76.8h1.2v1.2h-1.2zM201.9 66.7h1.2v1.2h-1.2zM195.5 62.2h1.2v1.2h-1.2zM203.5 57.3h1.2v1.2h-1.2zM205.6 59.2h1.2v1.2h-1.2zM194.2 56.4h1.2v1.2h-1.2zM200.9 59.8h1.2v1.2h-1.2zM206.2 55.6h1.2v1.2h-1.2zM208.5 74.7h1.2v1.2h-1.2zM207.5 65.1h1.2v1.2h-1.2zM197.9 70.4h1.2v1.2h-1.2zM202.3 65.0h1.2v1.2h-1.2zM198.9 65.4h1.2v1.2h-1.2zM205.2 74.1h1.2v1.2h-1.2zM209.7 59.2h1.2v1.2h-1.2zM198.1 65.5h1.2v1.2h-1.2zM203.2 63.3h1.2v1.2h-1.2zM196.2 57.4h1.2v1.2h-1.2zM198.7 65.9h1.2v1.2h-1.2zM211.0 75.9h1.2v1.2h-1.2zM210.8 69.4h1.2v1.2h-1.2zM207.9 56.9h1.2v1.2h-1.2zM205.4 69.2h1.2v1.2h-1.2zM198.1 68.4h1.2v1.2h-1.2zM210.6 66.3h1.2v1.2h-1.2zM204.8 62.2h1.2v1.2h-1.2zM199.0 75.4h1.2v1.2h-1.2zM193.0 59.7h1.2v1.2h-1.2zM205.4 65.6h1.2v1.2h-1.2zM194.1 70.4h1.2v1.2h-1.2zM199.6 68.6h1.2v1.2h-1.2zM200.4 67.4h1.2v1.2h-1.2zM203.2 64.4h1.2v1.2h-1.2zM194.7 59.6h1.2v1.2h-1.2zM209.4 67.8h1.2v1.2h-1.2zM194.6 74.9h1.2v1.2h-1.2zM197.3 57.6h1.2v1.2h-1.2zM202.6 61.2h1.2v1.2h-1.2zM201.8 68.0h1.2v1.2h-1.2zM196.8 68.4h1.2v1.2h-1.2zM194.6 67.0h1.2v1.2h-1.2zM203.7 57.3h1.2v1.2h-1.2zM200.3 57.2h1.2v1.2h-1.2zM200.9 74.9h1.2v1.2h-1.2zM203.0 71.6h1.2v1.2h-1.2zM206.9 58.1h1.2v1.2h-1.2zM211.3 71.7h1.2v1.2h-1.2zM194.4 74.2h1.2v1.2h-1.2zM199.9 59.4h1.2v1.2h-1.2zM210.7 68.2h1.2v1.2h-1.2zM207.2 58.6h1.2v1.2h-1.2zM207.2 56.8h1.2v1.2h-1.2zM197.0 63.9h1.2v1.2h-1.2zM192.8 68.9h1.2v1.2h-1.2zM196.5 62.2h1.2v1.2h-1.2zM205.9 65.1h1.2v1.2h-1.2zM209.4 69.5h1.2v1.2h-1.2zM209.1 68.2h1.2v1.2h-1.2zM209.9 75.1h1.2v1.2h-1.2zM195.7 72.3h1.2v1.2h-1.2zM199.0 72.7h1.2v1.2h-1.2zM205.4 74.1h1.2v1.2h-1.2zM194.8 63.9h1.2v1.2h-1.2zM206.5 76.8h1.2v1.2h-1.2zM206.2 56.5h1.2v1.2h-1.2zM204.0 57.7h1.2v1.2h-1.2zM202.9 73.6h1.2v1.2h-1.2zM194.6 76.3h1.2v1.2h-1.2zM205.3 61.2h1.2v1.2h-1.2zM196.2 65.6h1.2v1.2h-1.2zM208.4 68.6h1.2v1.2h-1.2zM194.7 56.0h1.2v1.2h-1.2zM194.6 73.5h1.2v1.2h-1.2zM196.0 68.0h1.2v1.2h-1.2zM198.0 71.0h1.2v1.2h-1.2zM199.7 58.7h1.2v1.2h-1.2zM209.1 67.6h1.2v1.2h-1.2zM205.6 73.7h1.2v1.2h-1.2zM210.5 55.8h1.2v1.2h-1.2zM199.0 58.9h1.2v1.2h-1.2zM202.0 75.1h1.2v1.2h-1.2zM207.7 56.3h1.2v1.2h-1.2zM196.0 73.9h1.2v1.2h-1.2zM205.4 64.3h1.2v1.2h-1.2zM201.5 59.1h1.2v1.2h-1.2zM208.6 64.4h1.2v1.2h-1.2zM209.1 69.2h1.2v1.2h-1.2zM193.9 62.9h1.2v1.2h-1.2zM196.6 75.6h1.2v1.2h-1.2zM203.7 56.5h1.2v1.2h-1.2zM195.7 63.6h1.2v1.2h-1.2zM201.4 68.5h1.2v1.2h-1.2zM199.9 63.5h1.2v1.2h-1.2zM198.8 56.0h1.2v1.2h-1.2zM193.4 58.8h1.2v1.2h-1.2zM205.2 61.6h1.2v1.2h-1.2zM197.7 66.8h1.2v1.2h-1.2zM197.5 68.3h1.2v1.2h-1.2zM211.4 56.3h1.2v1.2h-1.2zM203.2 72.8h1.2v1.2h-1.2zM209.1 72.9h1.2v1.2h-1.2zM204.5 69.8h1.2v1.2h-1.2zM199.4 61.8h1.2v1.2h-1.2zM207.6 75.1h1.2v1.2h-1.2zM210.3 70.8h1.2v1.2h-1.2zM198.3 72.7h1.2v1.2h-1.2zM206.6 67.0h1.2v1.2h-1.2zM204.6 63.4h1.2v1.2h-1.2zM203.0 64.6h1.2v1.2h-1.2zM193.6 63.1h1.2v1.2h-1.2zM201.6 63.8h1.2v1.2h-1.2zM197.1 60.8h1.2v1.2h-1.2zM199.1 58.6h1.2v1.2h-1.2zM201.1 65.5h1.2v1.2h-1.2zM203.3 62.3h1.2v1.2h-1.2zM195.7 57.0h1.2v1.2h-1.2zM198.2 62.4h1.2v1.2h-1.2zM206.3 67.9h1.2v1.2h-1.2zM210.3 63.2h1.2v1.2h-1.2zM210.0 68.6h1.2v1.2h-1.2zM194.0 59.5h1.2v1.2h-1.2zM199.3 72.9h1.2v1.2h-1.2zM200.6 75.0h1.2v1.2h-1.2zM193.8 66.4h1.2v1.2h-1.2zM209.6 61.7h1.2v1.2h-1.2zM197.4 56.0h1.2v1.2h-1.2zM195.6 61.5h1.2v1.2h-1.2zM205.9 60.4h1.2v1.2h-1.2zM200.1 60.0h1.2v1.2h-1.2zM204.0 74.9h1.2v1.2h-1.2zM204.8 59.9h1.2v1.2h-1.2zM203.9 57.3h1.2v1.2h-1.2zM207.9 75.2h1.2v1.2h-1.2zM199.0 58.6h1.2v1.2h-1.2zM196.1 67.6h1.2v1.2h-1.2zM209.1 69.9h1.2v1.2h-1.2zM210.0 60.3h1.2v1.2h-1.2zM198.7 72.4h1.2v1.2h-1.2zM204.8 64.6h1.2v1.2h-1.2zM205.4 63.1h1.2v1.2h-1.2zM193.6 64.8h1.2v1.2h-1.2zM193.4 69.6h1.2v1.2h-1.2zM198.9 66.6h1.2v1.2h-1.2zM203.9 61.3h1.2v1.2h-1.2zM201.3 55.8h1.2v1.2h-1.2zM210.1 68.2h1.2v1.2h-1.2zM211.3 56.8h1.2v1.2h-1.2zM204.2 71.8h1.2v1.2h-1.2zM198.8 57.6h1.2v1.2h-1.2zM195.5 58.7h1.2v1.2h-1.2zM207.1 57.5h1.2v1.2h-1.2zM208.0 65.0h1.2v1.2h-1.2zM202.7 68.7h1.2v1.2h-1.2zM203.0 70.3h1.2v1.2h-1.2zM203.9 62.9h1.2v1.2h-1.2zM206.6 61.3h1.2v1.2h-1.2zM206.0 72.7h1.2v1.2h-1.2zM207.2 62.5h1.2v1.2h-1.2zM201.1 61.8h1.2v1.2h-1.2zM202.4 76.7h1.2v1.2h-1.2zM195.0 55.7h1.2v1.2h-1.2zM201.5 70.2h1.2v1.2h-1.2zM207.2 63.7h1.2v1.2h-1.2zM211.3 60.6h1.2v1.2h-1.2zM206.9 57.5h1.2v1.2h-1.2zM193.0 58.5h1.2v1.2h-1.2zM193.6 66.8h1.2v1.2h-1.2zM203.0 59.6h1.2v1.2h-1.2zM210.4 63.7h1.2v1.2h-1.2zM195.3 59.5h1.2v1.2h-1.2zM206.5 76.2h1.2v1.2h-1.2zM195.6 56.2h1.2v1.2h-1.2zM207.3 61.0h1.2v1.2h-1.2zM211.2 66.7h1.2v1.2h-1.2zM204.6 63.2h1.2v1.2h-1.2zM207.7 65.9h1.2v1.2h-1.2zM198.7 75.8h1.2v1.2h-1.2zM194.5 72.0h1.2v1.2h-1.2zM193.7 70.0h1.2v1.2h-1.2zM200.1 74.9h1.2v1.2h-1.2zM193.6 68.2h1.2v1.2h-1.2zM200.3 76.2h1.2v1.2h-1.2zM210.5 69.6h1.2v1.2h-1.2zM196.8 61.2h1.2v1.2h-1.2zM200.5 73.4h1.2v1.2h-1.2zM201.5 71.0h1.2v1.2h-1.2zM201.5 58.4h1.2v1.2h-1.2zM202.6 74.6h1.2v1.2h-1.2zM207.6 77.0h1.2v1.2h-1.2zM204.2 63.5h1.2v1.2h-1.2zM201.1 55.8h1.2v1.2h-1.2zM199.9 72.3h1.2v1.2h-1.2zM205.8 74.7h1.2v1.2h-1.2zM195.6 63.2h1.2v1.2h-1.2zM194.3 75.0h1.2v1.2h-1.2zM203.5 64.1h1.2v1.2h-1.2zM213.8 52.3h1.2v1.2h-1.2zM200.6 68.3h1.2v1.2h-1.2zM214.2 67.8h1.2v1.2h-1.2zM206.7 75.0h1.2v1.2h-1.2zM204.0 69.1h1.2v1.2h-1.2zM199.9 64.6h1.2v1.2h-1.2zM198.4 54.9h1.2v1.2h-1.2zM202.5 66.8h1.2v1.2h-1.2zM200.4 65.5h1.2v1.2h-1.2zM196.6 66.9h1.2v1.2h-1.2zM198.4 68.2h1.2v1.2h-1.2zM219.2 69.3h1.2v1.2h-1.2zM206.0 71.8h1.2v1.2h-1.2zM205.2 71.8h1.2v1.2h-1.2zM204.9 75.2h1.2v1.2h-1.2zM206.9 74.9h1.2v1.2h-1.2zM198.1 67.0h1.2v1.2h-1.2zM196.7 72.6h1.2v1.2h-1.2zM205.9 64.3h1.2v1.2h-1.2zM208.2 60.5h1.2v1.2h-1.2zM200.5 70.7h1.2v1.2h-1.2zM200.8 69.3h1.2v1.2h-1.2zM207.9 68.9h1.2v1.2h-1.2zM194.6 71.2h1.2v1.2h-1.2zM200.4 67.7h1.2v1.2h-1.2zM197.7 58.9h1.2v1.2h-1.2zM193.7 64.9h1.2v1.2h-1.2zM194.8 51.1h1.2v1.2h-1.2zM207.7 60.2h1.2v1.2h-1.2zM196.8 70.1h1.2v1.2h-1.2zM196.5 70.9h1.2v1.2h-1.2zM198.2 68.8h1.2v1.2h-1.2zM201.6 67.0h1.2v1.2h-1.2zM200.8 75.2h1.2v1.2h-1.2zM197.8 70.1h1.2v1.2h-1.2zM201.9 69.8h1.2v1.2h-1.2zM206.8 58.2h1.2v1.2h-1.2zM202.6 66.0h1.2v1.2h-1.2zM199.2 62.0h1.2v1.2h-1.2zM196.4 61.0h1.2v1.2h-1.2zM210.9 67.1h1.2v1.2h-1.2zM205.3 61.3h1.2v1.2h-1.2zM201.8 75.4h1.2v1.2h-1.2zM200.8 61.1h1.2v1.2h-1.2zM199.6 61.2h1.2v1.2h-1.2zM192.8 65.6h1.2v1.2h-1.2zM198.7 62.3h1.2v1.2h-1.2zM195.8 61.6h1.2v1.2h-1.2zM202.4 75.1h1.2v1.2h-1.2zM194.2 66.1h1.2v1.2h-1.2zM201.6 70.3h1.2v1.2h-1.2zM207.6 63.8h1.2v1.2h-1.2zM193.7 65.9h1.2v1.2h-1.2zM202.7 62.9h1.2v1.2h-1.2zM206.2 76.8h1.2v1.2h-1.2zM206.9 55.8h1.2v1.2h-1.2zM202.2 65.7h1.2v1.2h-1.2zM202.3 64.2h1.2v1.2h-1.2zM203.6 70.8h1.2v1.2h-1.2zM205.5 70.4h1.2v1.2h-1.2zM203.4 60.1h1.2v1.2h-1.2zM198.5 67.8h1.2v1.2h-1.2zM198.8 60.8h1.2v1.2h-1.2zM201.2 63.6h1.2v1.2h-1.2zM198.6 61.8h1.2v1.2h-1.2zM196.6 66.4h1.2v1.2h-1.2zM197.2 71.0h1.2v1.2h-1.2zM200.2 67.8h1.2v1.2h-1.2zM203.4 74.4h1.2v1.2h-1.2zM204.5 68.3h1.2v1.2h-1.2zM200.0 62.3h1.2v1.2h-1.2zM199.0 71.0h1.2v1.2h-1.2zM202.3 64.7h1.2v1.2h-1.2zM193.2 58.0h1.2v1.2h-1.2zM202.9 73.0h1.2v1.2h-1.2zM203.2 59.0h1.2v1.2h-1.2zM199.8 68.3h1.2v1.2h-1.2zM195.6 69.0h1.2v1.2h-1.2zM199.8 62.1h1.2v1.2h-1.2zM193.7 71.7h1.2v1.2h-1.2zM203.1 61.8h1.2v1.2h-1.2zM195.1 72.2h1.2v1.2h-1.2zM204.5 65.2h1.2v1.2h-1.2zM210.3 65.3h1.2v1.2h-1.2zM194.8 73.4h1.2v1.2h-1.2zM199.9 69.0h1.2v1.2h-1.2zM201.2 61.1h1.2v1.2h-1.2zM194.1 65.9h1.2v1.2h-1.2zM209.2 61.1h1.2v1.2h-1.2zM208.9 68.3h1.2v1.2h-1.2zM194.5 68.6h1.2v1.2h-1.2zM204.3 61.7h1.2v1.2h-1.2zM194.5 69.6h1.2v1.2h-1.2zM196.3 58.4h1.2v1.2h-1.2zM199.6 68.0h1.2v1.2h-1.2zM197.7 60.1h1.2v1.2h-1.2zM202.2 56.8h1.2v1.2h-1.2zM204.1 69.9h1.2v1.2h-1.2zM210.8 72.2h1.2v1.2h-1.2zM203.1 68.5h1.2v1.2h-1.2zM201.2 59.3h1.2v1.2h-1.2zM209.5 70.1h1.2v1.2h-1.2zM199.3 60.3h1.2v1.2h-1.2zM209.7 70.1h1.2v1.2h-1.2zM194.1 70.9h1.2v1.2h-1.2zM212.1 66.9h1.2v1.2h-1.2zM203.3 64.6h1.2v1.2h-1.2zM197.3 73.3h1.2v1.2h-1.2zM218.9 67.7h1.2v1.2h-1.2zM200.3 71.6h1.2v1.2h-1.2zM199.2 71.2h1.2v1.2h-1.2zM205.8 61.1h1.2v1.2h-1.2zM194.8 66.6h1.2v1.2h-1.2zM205.9 68.6h1.2v1.2h-1.2zM208.2 59.0h1.2v1.2h-1.2zM203.9 63.4h1.2v1.2h-1.2zM201.6 68.9h1.2v1.2h-1.2zM195.3 65.7h1.2v1.2h-1.2zM194.2 68.5h1.2v1.2h-1.2zM196.0 64.1h1.2v1.2h-1.2zM202.3 63.2h1.2v1.2h-1.2zM207.7 63.3h1.2v1.2h-1.2zM205.9 68.6h1.2v1.2h-1.2zM195.0 65.7h1.2v1.2h-1.2zM196.1 64.9h1.2v1.2h-1.2zM198.6 76.1h1.2v1.2h-1.2zM203.6 59.4h1.2v1.2h-1.2zM207.0 69.3h1.2v1.2h-1.2zM199.8 65.5h1.2v1.2h-1.2zM202.5 65.2h1.2v1.2h-1.2zM197.9 64.8h1.2v1.2h-1.2zM207.8 63.4h1.2v1.2h-1.2zM203.2 60.3h1.2v1.2h-1.2zM196.9 59.0h1.2v1.2h-1.2zM199.9 71.0h1.2v1.2h-1.2zM202.8 64.1h1.2v1.2h-1.2zM204.6 65.0h1.2v1.2h-1.2zM203.2 68.6h1.2v1.2h-1.2zM204.1 52.6h1.2v1.2h-1.2zM193.4 71.5h1.2v1.2h-1.2zM199.6 63.8h1.2v1.2h-1.2zM209.7 70.2h1.2v1.2h-1.2zM212.0 70.0h1.2v1.2h-1.2zM199.8 71.2h1.2v1.2h-1.2zM196.4 64.4h1.2v1.2h-1.2zM197.8 65.7h1.2v1.2h-1.2zM205.5 64.2h1.2v1.2h-1.2zM202.9 64.1h1.2v1.2h-1.2zM206.1 51.0h1.2v1.2h-1.2zM199.8 68.0h1.2v1.2h-1.2zM194.7 72.9h1.2v1.2h-1.2zM202.3 74.4h1.2v1.2h-1.2zM206.6 70.7h1.2v1.2h-1.2zM200.1 60.7h1.2v1.2h-1.2zM199.7 64.3h1.2v1.2h-1.2zM202.4 64.3h1.2v1.2h-1.2zM218.7 57.7h1.2v1.2h-1.2zM207.8 64.3h1.2v1.2h-1.2zM199.6 72.4h1.2v1.2h-1.2zM201.0 60.0h1.2v1.2h-1.2zM203.4 65.9h1.2v1.2h-1.2zM194.9 62.7h1.2v1.2h-1.2zM194.6 53.3h1.2v1.2h-1.2zM197.9 57.4h1.2v1.2h-1.2zM208.2 53.7h1.2v1.2h-1.2zM209.6 52.7h1.2v1.2h-1.2zM203.8 57.8h1.2v1.2h-1.2zM199.2 57.7h1.2v1.2h-1.2zM204.8 52.8h1.2v1.2h-1.2zM199.0 55.0h1.2v1.2h-1.2zM197.5 56.6h1.2v1.2h-1.2zM196.2 56.8h1.2v1.2h-1.2zM198.4 52.9h1.2v1.2h-1.2zM203.1 53.0h1.2v1.2h-1.2zM202.9 56.8h1.2v1.2h-1.2zM203.7 55.0h1.2v1.2h-1.2zM193.6 55.3h1.2v1.2h-1.2zM194.8 56.1h1.2v1.2h-1.2zM195.4 55.7h1.2v1.2h-1.2zM199.4 54.6h1.2v1.2h-1.2zM204.9 53.4h1.2v1.2h-1.2zM196.1 57.7h1.2v1.2h-1.2zM199.0 57.1h1.2v1.2h-1.2zM208.7 55.1h1.2v1.2h-1.2zM195.7 53.0h1.2v1.2h-1.2zM208.8 53.1h1.2v1.2h-1.2zM201.9 55.4h1.2v1.2h-1.2zM195.1 55.1h1.2v1.2h-1.2zM196.0 55.4h1.2v1.2h-1.2zM202.1 54.5h1.2v1.2h-1.2zM196.6 54.7h1.2v1.2h-1.2zM196.7 53.2h1.2v1.2h-1.2zM197.3 57.3h1.2v1.2h-1.2zM202.0 57.4h1.2v1.2h-1.2zM193.3 57.7h1.2v1.2h-1.2zM201.8 56.9h1.2v1.2h-1.2zM203.3 56.3h1.2v1.2h-1.2zM197.1 56.6h1.2v1.2h-1.2zM195.8 54.0h1.2v1.2h-1.2zM193.6 54.7h1.2v1.2h-1.2zM202.3 54.1h1.2v1.2h-1.2zM209.0 53.0h1.2v1.2h-1.2zM213.8 61.1h1.2v1.2h-1.2zM214.0 73.2h1.2v1.2h-1.2zM215.1 57.4h1.2v1.2h-1.2zM210.5 69.2h1.2v1.2h-1.2zM217.8 56.9h1.2v1.2h-1.2zM214.2 71.2h1.2v1.2h-1.2zM216.1 63.5h1.2v1.2h-1.2zM216.1 66.2h1.2v1.2h-1.2zM217.2 56.2h1.2v1.2h-1.2zM217.4 65.1h1.2v1.2h-1.2zM212.1 57.9h1.2v1.2h-1.2zM210.4 72.1h1.2v1.2h-1.2zM214.8 59.3h1.2v1.2h-1.2zM211.4 59.1h1.2v1.2h-1.2zM234.0 54.0h1.2v1.2h-1.2zM247.6 49.0h1.2v1.2h-1.2zM244.7 65.2h1.2v1.2h-1.2z" fill="#000"/>
<path d="M188.7 78.0H191.9M191.9 78.0V82.2M190.1 73.6H191.9M197.6 78.0V80.2M190.1 71.1H191.9M200.9 78.0V80.2M190.1 69.2H191.9M203.2 78.0V80.2M190.1 67.8H191.9M205.0 78.0V80.2M190.1 66.7H191.9M206.5 78.0V80.2M190.1 65.7H191.9M207.8 78.0V80.2M190.1 64.9H191.9M208.9 78.0V80.2M190.1 64.1H191.9M209.8 78.0V80.2M188.7 63.5H191.9M210.7 78.0V82.2M190.1 59.1H191.9M216.3 78.0V80.2M190.1 56.5H191.9M219.6 78.0V80.2M190.1 54.7H191.9M222.0 78.0V80.2M190.1 53.3H191.9M223.8 78.0V80.2M190.1 52.1H191.9M225.3 78.0V80.2M190.1 51.2H191.9M226.5 78.0V80.2M190.1 50.3H191.9M227.6 78.0V80.2M190.1 49.6H191.9M228.6 78.0V80.2M188.7 48.9H191.9M229.4 78.0V82.2M190.1 44.5H191.9M235.1 78.0V80.2M190.1 42.0H191.9M238.4 78.0V80.2M190.1 40.1H191.9M240.8 78.0V80.2M190.1 38.7H191.9M242.6 78.0V80.2M190.1 37.6H191.9M244.1 78.0V80.2M190.1 36.6H191.9M245.3 78.0V80.2M190.1 35.8H191.9M246.4 78.0V80.2M190.1 35.0H191.9M247.4 78.0V80.2M188.7 34.3H191.9M248.2 78.0V82.2M190.1 30.0H191.9M253.9 78.0V80.2M190.1 27.4H191.9M257.2 78.0V80.2M190.1 25.6H191.9M259.5 78.0V80.2M190.1 24.2H191.9M261.3 78.0V80.2M190.1 23.0H191.9M262.8 78.0V80.2M190.1 22.1H191.9M264.1 78.0V80.2M190.1 21.2H191.9M265.2 78.0V80.2M190.1 20.5H191.9M266.1 78.0V80.2M188.7 19.8H191.9M267.0 78.0V82.2" stroke="#000" stroke-width="0.9" fill="none"/>
<rect x="191.9" y="19.8" width="75.1" height="58.2" fill="none" stroke="#000" stroke-width="1.5"/>
<rect x="191.9" y="25.6" width="28.4" height="21.5" fill="none" stroke="#000" stroke-width="1.5"/>
<rect x="232.5" y="28.1" width="27.4" height="49.9" fill="none" stroke="#000" stroke-width="1.5"/>
<path d="M302.9 32.6h1.2v1.2h-1.2zM306.4 46.6h1.2v1.2h-1.2zM324.4 43.1h1.2v1.2h-1.2zM310.5 37.7h1.2v1.2h-1.2zM318.5 45.3h1.2v1.2h-1.2zM317.8 40.3h1.2v1.2h-1.2zM302.9 40.1h1.2v1.2h-1.2zM320.3 43.1h1.2v1.2h-1.2zM300.0 41.8h1.2v1.2h-1.2zM306.9 31.5h1.2v1.2h-1.2zM323.6 40.9h1.2v1.2h-1.2zM317.6 31.0h1.2v1.2h-1.2zM319.9 45.8h1.2v1.2h-1.2zM321.9 42.3h1.2v1.2h-1.2zM320.0 43.3h1.2v1.2h-1.2zM313.4 36.6h1.2v1.2h-1.2zM319.8 43.0h1.2v1.2h-1.2zM321.0 34.0h1.2v1.2h-1.2zM323.4 38.3h1.2v1.2h-1.2zM323.0 30.6h1.2v1.2h-1.2zM323.6 43.1h1.2v1.2h-1.2zM304.3 44.0h1.2v1.2h-1.2zM303.8 32.2h1.2v1.2h-1.2zM309.9 32.9h1.2v1.2h-1.2zM310.8 45.3h1.2v1.2h-1.2zM316.0 41.6h1.2v1.2h-1.2zM308.1 43.0h1.2v1.2h-1.2zM318.9 41.1h1.2v1.2h-1.2zM322.9 43.8h1.2v1.2h-1.2zM308.5 30.1h1.2v1.2h-1.2zM315.1 44.0h1.2v1.2h-1.2zM306.7 39.5h1.2v1.2h-1.2zM320.1 43.2h1.2v1.2h-1.2zM297.9 30.5h1.2v1.2h-1.2zM319.4 36.2h1.2v1.2h-1.2zM313.8 37.0h1.2v1.2h-1.2zM306.6 32.5h1.2v1.2h-1.2zM307.1 44.1h1.2v1.2h-1.2zM314.2 33.9h1.2v1.2h-1.2zM299.9 33.5h1.2v1.2h-1.2zM316.4 36.7h1.2v1.2h-1.2zM315.3 43.4h1.2v1.2h-1.2zM300.8 41.1h1.2v1.2h-1.2zM298.6 43.7h1.2v1.2h-1.2zM302.5 33.5h1.2v1.2h-1.2zM323.4 35.2h1.2v1.2h-1.2zM303.6 45.0h1.2v1.2h-1.2zM314.0 45.0h1.2v1.2h-1.2zM308.1 37.7h1.2v1.2h-1.2zM323.3 37.9h1.2v1.2h-1.2zM324.2 32.0h1.2v1.2h-1.2zM319.9 31.5h1.2v1.2h-1.2zM311.7 28.5h1.2v1.2h-1.2zM302.2 46.0h1.2v1.2h-1.2zM309.8 43.5h1.2v1.2h-1.2zM304.3 35.0h1.2v1.2h-1.2zM300.2 38.7h1.2v1.2h-1.2zM320.8 38.0h1.2v1.2h-1.2zM307.7 45.7h1.2v1.2h-1.2zM321.6 40.8h1.2v1.2h-1.2zM299.5 40.0h1.2v1.2h-1.2zM309.5 46.2h1.2v1.2h-1.2zM307.3 40.7h1.2v1.2h-1.2zM314.6 35.5h1.2v1.2h-1.2zM311.6 41.0h1.2v1.2h-1.2zM322.0 37.7h1.2v1.2h-1.2zM307.3 46.6h1.2v1.2h-1.2zM299.0 43.9h1.2v1.2h-1.2zM316.0 38.8h1.2v1.2h-1.2zM309.6 42.4h1.2v1.2h-1.2zM321.6 42.0h1.2v1.2h-1.2zM317.7 29.1h1.2v1.2h-1.2zM306.3 31.0h1.2v1.2h-1.2zM323.2 45.0h1.2v1.2h-1.2zM301.4 39.4h1.2v1.2h-1.2zM313.1 29.4h1.2v1.2h-1.2zM308.1 42.3h1.2v1.2h-1.2zM314.8 33.7h1.2v1.2h-1.2zM318.1 33.9h1.2v1.2h-1.2zM312.2 36.3h1.2v1.2h-1.2zM323.9 40.5h1.2v1.2h-1.2zM319.2 41.0h1.2v1.2h-1.2zM307.8 46.3h1.2v1.2h-1.2zM316.7 41.3h1.2v1.2h-1.2zM305.0 31.5h1.2v1.2h-1.2zM313.0 43.8h1.2v1.2h-1.2zM318.9 34.9h1.2v1.2h-1.2zM301.3 38.0h1.2v1.2h-1.2zM321.2 31.5h1.2v1.2h-1.2zM317.4 31.7h1.2v1.2h-1.2zM305.9 29.5h1.2v1.2h-1.2zM305.5 35.6h1.2v1.2h-1.2zM323.6 46.3h1.2v1.2h-1.2zM302.6 34.2h1.2v1.2h-1.2zM323.0 32.2h1.2v1.2h-1.2zM306.2 36.6h1.2v1.2h-1.2zM300.4 33.3h1.2v1.2h-1.2zM308.1 35.6h1.2v1.2h-1.2zM323.5 33.4h1.2v1.2h-1.2zM303.0 45.3h1.2v1.2h-1.2zM309.7 44.0h1.2v1.2h-1.2zM314.7 42.9h1.2v1.2h-1.2zM306.0 31.3h1.2v1.2h-1.2zM317.9 37.2h1.2v1.2h-1.2zM312.6 40.9h1.2v1.2h-1.2zM317.8 33.6h1.2v1.2h-1.2zM307.3 45.5h1.2v1.2h-1.2zM311.8 33.8h1.2v1.2h-1.2zM314.5 33.3h1.2v1.2h-1.2zM318.3 29.3h1.2v1.2h-1.2zM319.8 39.0h1.2v1.2h-1.2zM307.0 45.9h1.2v1.2h-1.2zM304.7 33.0h1.2v1.2h-1.2zM299.4 38.6h1.2v1.2h-1.2zM317.9 41.0h1.2v1.2h-1.2zM308.6 43.4h1.2v1.2h-1.2zM300.5 34.2h1.2v1.2h-1.2zM314.9 46.4h1.2v1.2h-1.2zM314.6 41.3h1.2v1.2h-1.2zM318.4 35.8h1.2v1.2h-1.2zM322.9 42.2h1.2v1.2h-1.2zM306.7 35.8h1.2v1.2h-1.2zM319.3 35.0h1.2v1.2h-1.2zM302.5 44.6h1.2v1.2h-1.2zM311.9 38.1h1.2v1.2h-1.2zM315.6 45.2h1.2v1.2h-1.2zM301.1 34.8h1.2v1.2h-1.2zM299.3 36.1h1.2v1.2h-1.2zM311.1 44.3h1.2v1.2h-1.2zM315.5 39.2h1.2v1.2h-1.2zM308.4 39.1h1.2v1.2h-1.2zM304.9 44.1h1.2v1.2h-1.2zM318.8 44.0h1.2v1.2h-1.2zM301.6 40.9h1.2v1.2h-1.2zM317.9 37.8h1.2v1.2h-1.2zM321.8 45.1h1.2v1.2h-1.2zM317.6 43.7h1.2v1.2h-1.2zM315.0 44.8h1.2v1.2h-1.2zM301.0 41.5h1.2v1.2h-1.2zM316.5 39.8h1.2v1.2h-1.2zM304.9 29.7h1.2v1.2h-1.2zM313.8 43.7h1.2v1.2h-1.2zM304.9 32.4h1.2v1.2h-1.2zM303.5 30.2h1.2v1.2h-1.2zM315.8 46.5h1.2v1.2h-1.2zM319.2 35.2h1.2v1.2h-1.2zM316.4 29.8h1.2v1.2h-1.2zM320.1 34.5h1.2v1.2h-1.2zM301.2 33.6h1.2v1.2h-1.2zM299.1 36.7h1.2v1.2h-1.2zM312.5 43.4h1.2v1.2h-1.2zM298.6 43.8h1.2v1.2h-1.2zM300.5 32.7h1.2v1.2h-1.2zM314.5 34.8h1.2v1.2h-1.2zM306.4 39.0h1.2v1.2h-1.2zM303.4 43.2h1.2v1.2h-1.2zM303.1 44.0h1.2v1.2h-1.2zM319.3 38.4h1.2v1.2h-1.2zM298.3 42.9h1.2v1.2h-1.2zM298.3 37.8h1.2v1.2h-1.2zM308.9 29.7h1.2v1.2h-1.2zM314.5 41.9h1.2v1.2h-1.2zM313.3 35.9h1.2v1.2h-1.2zM311.3 39.4h1.2v1.2h-1.2zM303.6 44.6h1.2v1.2h-1.2zM324.4 43.4h1.2v1.2h-1.2zM323.5 34.6h1.2v1.2h-1.2zM324.1 29.8h1.2v1.2h-1.2zM310.4 31.0h1.2v1.2h-1.2zM309.8 41.1h1.2v1.2h-1.2zM316.6 36.9h1.2v1.2h-1.2zM306.7 32.0h1.2v1.2h-1.2zM308.4 33.7h1.2v1.2h-1.2zM302.7 42.1h1.2v1.2h-1.2zM311.4 36.6h1.2v1.2h-1.2zM302.8 41.5h1.2v1.2h-1.2zM302.8 33.4h1.2v1.2h-1.2zM312.6 41.5h1.2v1.2h-1.2zM323.8 42.3h1.2v1.2h-1.2zM323.1 45.5h1.2v1.2h-1.2zM317.0 41.8h1.2v1.2h-1.2zM299.2 32.3h1.2v1.2h-1.2zM297.9 44.5h1.2v1.2h-1.2zM317.0 40.2h1.2v1.2h-1.2zM304.6 35.1h1.2v1.2h-1.2zM301.9 40.2h1.2v1.2h-1.2zM324.3 34.2h1.2v1.2h-1.2zM298.7 31.7h1.2v1.2h-1.2zM307.1 45.1h1.2v1.2h-1.2zM319.2 36.9h1.2v1.2h-1.2zM300.3 30.5h1.2v1.2h-1.2zM301.7 42.9h1.2v1.2h-1.2zM310.2 46.8h1.2v1.2h-1.2zM322.1 43.2h1.2v1.2h-1.2zM310.4 43.7h1.2v1.2h-1.2zM301.0 30.5h1.2v1.2h-1.2zM312.7 37.9h1.2v1.2h-1.2zM303.2 33.2h1.2v1.2h-1.2zM298.1 45.3h1.2v1.2h-1.2zM316.7 46.0h1.2v1.2h-1.2zM324.0 36.6h1.2v1.2h-1.2zM317.3 35.6h1.2v1.2h-1.2zM319.4 44.1h1.2v1.2h-1.2zM301.1 28.7h1.2v1.2h-1.2zM303.3 39.3h1.2v1.2h-1.2zM307.7 28.7h1.2v1.2h-1.2zM319.9 43.0h1.2v1.2h-1.2zM310.0 29.3h1.2v1.2h-1.2zM321.5 38.4h1.2v1.2h-1.2zM299.4 34.5h1.2v1.2h-1.2zM314.4 44.9h1.2v1.2h-1.2zM310.6 40.3h1.2v1.2h-1.2zM303.1 33.0h1.2v1.2h-1.2zM322.0 35.6h1.2v1.2h-1.2zM300.3 39.4h1.2v1.2h-1.2zM300.9 32.2h1.2v1.2h-1.2zM309.8 39.3h1.2v1.2h-1.2zM314.7 41.6h1.2v1.2h-1.2zM309.4 29.7h1.2v1.2h-1.2zM317.1 29.5h1.2v1.2h-1.2zM310.2 35.9h1.2v1.2h-1.2zM315.7 41.7h1.2v1.2h-1.2zM304.0 40.5h1.2v1.2h-1.2zM316.2 37.2h1.2v1.2h-1.2zM301.3 45.3h1.2v1.2h-1.2zM313.7 29.7h1.2v1.2h-1.2zM303.9 46.8h1.2v1.2h-1.2zM303.7 35.8h1.2v1.2h-1.2zM318.8 43.7h1.2v1.2h-1.2zM314.6 42.2h1.2v1.2h-1.2zM298.5 30.2h1.2v1.2h-1.2zM323.9 43.4h1.2v1.2h-1.2zM298.5 29.4h1.2v1.2h-1.2zM304.0 45.7h1.2v1.2h-1.2zM303.4 40.9h1.2v1.2h-1.2zM322.6 40.3h1.2v1.2h-1.2zM322.3 33.4h1.2v1.2h-1.2zM301.6 28.8h1.2v1.2h-1.2zM317.9 30.4h1.2v1.2h-1.2zM323.8 41.6h1.2v1.2h-1.2zM302.5 43.4h1.2v1.2h-1.2zM301.9 38.0h1.2v1.2h-1.2zM300.4 43.1h1.2v1.2h-1.2zM321.5 45.5h1.2v1.2h-1.2zM312.5 43.7h1.2v1.2h-1.2zM311.1 40.0h1.2v1.2h-1.2zM313.6 43.3h1.2v1.2h-1.2zM299.6 29.5h1.2v1.2h-1.2zM312.2 33.9h1.2v1.2h-1.2zM308.2 28.6h1.2v1.2h-1.2zM317.6 28.9h1.2v1.2h-1.2zM319.9 43.5h1.2v1.2h-1.2zM309.9 30.8h1.2v1.2h-1.2zM315.1 32.3h1.2v1.2h-1.2zM309.1 30.5h1.2v1.2h-1.2zM323.9 38.6h1.2v1.2h-1.2zM307.0 30.2h1.2v1.2h-1.2zM317.2 44.2h1.2v1.2h-1.2zM320.4 30.4h1.2v1.2h-1.2zM307.4 34.1h1.2v1.2h-1.2zM318.1 31.2h1.2v1.2h-1.2zM313.9 46.6h1.2v1.2h-1.2zM318.3 28.6h1.2v1.2h-1.2zM299.5 30.6h1.2v1.2h-1.2zM316.2 39.6h1.2v1.2h-1.2zM311.5 36.9h1.2v1.2h-1.2zM308.5 39.8h1.2v1.2h-1.2zM315.0 45.5h1.2v1.2h-1.2zM317.3 43.2h1.2v1.2h-1.2zM322.1 44.0h1.2v1.2h-1.2zM316.9 29.1h1.2v1.2h-1.2zM315.9 44.2h1.2v1.2h-1.2zM309.1 44.7h1.2v1.2h-1.2zM302.4 45.9h1.2v1.2h-1.2zM309.4 41.6h1.2v1.2h-1.2zM304.3 34.1h1.2v1.2h-1.2zM306.9 34.5h1.2v1.2h-1.2zM300.1 36.7h1.2v1.2h-1.2zM324.0 40.6h1.2v1.2h-1.2zM322.7 42.6h1.2v1.2h-1.2zM320.1 46.9h1.2v1.2h-1.2zM317.8 33.6h1.2v1.2h-1.2zM304.2 36.1h1.2v1.2h-1.2zM298.1 32.8h1.2v1.2h-1.2zM321.4 45.5h1.2v1.2h-1.2zM306.4 42.8h1.2v1.2h-1.2zM318.4 45.0h1.2v1.2h-1.2zM319.0 38.3h1.2v1.2h-1.2zM300.3 43.8h1.2v1.2h-1.2zM306.0 40.1h1.2v1.2h-1.2zM307.4 38.4h1.2v1.2h-1.2zM323.6 31.5h1.2v1.2h-1.2zM311.8 40.5h1.2v1.2h-1.2zM312.0 45.9h1.2v1.2h-1.2zM308.5 45.4h1.2v1.2h-1.2zM316.1 46.4h1.2v1.2h-1.2zM299.9 32.4h1.2v1.2h-1.2zM305.3 45.3h1.2v1.2h-1.2zM297.9 33.3h1.2v1.2h-1.2zM316.8 46.8h1.2v1.2h-1.2zM302.3 36.6h1.2v1.2h-1.2zM316.0 41.3h1.2v1.2h-1.2zM317.6 42.4h1.2v1.2h-1.2zM304.2 33.3h1.2v1.2h-1.2zM298.2 41.3h1.2v1.2h-1.2zM303.1 33.3h1.2v1.2h-1.2zM323.5 40.4h1.2v1.2h-1.2zM313.5 40.6h1.2v1.2h-1.2zM313.6 41.4h1.2v1.2h-1.2zM305.7 29.7h1.2v1.2h-1.2zM299.3 28.8h1.2v1.2h-1.2zM307.3 31.1h1.2v1.2h-1.2zM300.5 37.6h1.2v1.2h-1.2zM323.7 41.2h1.2v1.2h-1.2zM304.9 42.7h1.2v1.2h-1.2zM302.3 30.4h1.2v1.2h-1.2zM305.7 36.1h1.2v1.2h-1.2zM316.1 36.7h1.2v1.2h-1.2zM317.2 30.3h1.2v1.2h-1.2zM322.7 34.8h1.2v1.2h-1.2zM320.0 29.1h1.2v1.2h-1.2zM319.9 32.7h1.2v1.2h-1.2zM320.6 43.4h1.2v1.2h-1.2zM315.6 33.6h1.2v1.2h-1.2zM297.8 32.0h1.2v1.2h-1.2zM321.9 31.4h1.2v1.2h-1.2zM315.3 39.4h1.2v1.2h-1.2zM315.4 31.8h1.2v1.2h-1.2zM301.4 30.3h1.2v1.2h-1.2zM324.0 35.6h1.2v1.2h-1.2zM315.1 39.0h1.2v1.2h-1.2zM303.5 29.7h1.2v1.2h-1.2zM297.9 44.3h1.2v1.2h-1.2zM301.0 46.3h1.2v1.2h-1.2zM307.3 41.9h1.2v1.2h-1.2zM301.2 43.1h1.2v1.2h-1.2zM304.3 35.3h1.2v1.2h-1.2zM311.6 30.6h1.2v1.2h-1.2zM304.2 43.2h1.2v1.2h-1.2zM305.2 35.5h1.2v1.2h-1.2zM318.1 32.6h1.2v1.2h-1.2zM302.7 32.6h1.2v1.2h-1.2zM307.9 35.3h1.2v1.2h-1.2zM314.8 37.2h1.2v1.2h-1.2zM321.0 29.4h1.2v1.2h-1.2zM315.4 44.0h1.2v1.2h-1.2zM303.8 29.0h1.2v1.2h-1.2zM309.3 30.6h1.2v1.2h-1.2zM309.9 41.7h1.2v1.2h-1.2zM300.0 30.7h1.2v1.2h-1.2zM310.4 31.7h1.2v1.2h-1.2zM303.7 36.6h1.2v1.2h-1.2zM300.7 29.8h1.2v1.2h-1.2zM307.3 37.2h1.2v1.2h-1.2zM322.8 38.8h1.2v1.2h-1.2zM299.4 32.6h1.2v1.2h-1.2zM317.6 38.9h1.2v1.2h-1.2zM321.0 46.3h1.2v1.2h-1.2zM320.7 30.5h1.2v1.2h-1.2zM323.0 38.2h1.2v1.2h-1.2zM304.0 31.7h1.2v1.2h-1.2zM320.8 32.4h1.2v1.2h-1.2zM299.7 33.4h1.2v1.2h-1.2zM322.5 37.0h1.2v1.2h-1.2zM317.2 29.9h1.2v1.2h-1.2zM309.7 34.4h1.2v1.2h-1.2zM303.0 40.8h1.2v1.2h-1.2zM307.3 30.7h1.2v1.2h-1.2zM324.1 37.4h1.2v1.2h-1.2zM302.4 28.7h1.2v1.2h-1.2zM315.1 38.0h1.2v1.2h-1.2zM298.2 37.2h1.2v1.2h-1.2zM317.5 38.4h1.2v1.2h-1.2zM303.8 37.7h1.2v1.2h-1.2zM313.8 40.5h1.2v1.2h-1.2zM301.4 43.4h1.2v1.2h-1.2zM323.0 42.2h1.2v1.2h-1.2zM311.9 34.9h1.2v1.2h-1.2zM311.4 36.5h1.2v1.2h-1.2zM309.3 43.6h1.2v1.2h-1.2zM310.2 37.0h1.2v1.2h-1.2zM308.4 39.1h1.2v1.2h-1.2zM304.7 38.9h1.2v1.2h-1.2zM311.9 44.5h1.2v1.2h-1.2zM300.0 41.7h1.2v1.2h-1.2zM323.8 38.8h1.2v1.2h-1.2zM308.8 42.8h1.2v1.2h-1.2zM304.7 36.0h1.2v1.2h-1.2zM310.2 35.6h1.2v1.2h-1.2zM315.2 38.0h1.2v1.2h-1.2zM310.5 48.6h1.2v1.2h-1.2zM305.1 41.9h1.2v1.2h-1.2zM302.7 43.2h1.2v1.2h-1.2zM314.2 38.6h1.2v1.2h-1.2zM314.4 44.7h1.2v1.2h-1.2zM316.9 38.0h1.2v1.2h-1.2zM307.6 42.6h1.2v1.2h-1.2zM298.5 35.5h1.2v1.2h-1.2zM311.1 40.4h1.2v1.2h-1.2zM320.0 45.3h1.2v1.2h-1.2zM310.1 39.8h1.2v1.2h-1.2zM299.5 37.2h1.2v1.2h-1.2zM309.7 37.1h1.2v1.2h-1.2zM308.4 40.5h1.2v1.2h-1.2zM301.9 35.6h1.2v1.2h-1.2zM301.2 30.9h1.2v1.2h-1.2zM313.0 37.1h1.2v1.2h-1.2zM314.2 36.5h1.2v1.2h-1.2zM321.7 41.0h1.2v1.2h-1.2zM309.0 38.5h1.2v1.2h-1.2zM306.7 41.4h1.2v1.2h-1.2zM320.9 36.2h1.2v1.2h-1.2zM301.0 40.5h1.2v1.2h-1.2zM314.9 31.8h1.2v1.2h-1.2zM303.6 33.9h1.2v1.2h-1.2zM311.6 40.1h1.2v1.2h-1.2zM303.3 33.3h1.2v1.2h-1.2zM312.4 29.5h1.2v1.2h-1.2zM312.1 37.4h1.2v1.2h-1.2zM320.3 42.1h1.2v1.2h-1.2zM304.3 36.9h1.2v1.2h-1.2zM306.2 35.0h1.2v1.2h-1.2zM308.5 42.0h1.2v1.2h-1.2zM298.3 37.1h1.2v1.2h-1.2zM317.6 41.1h1.2v1.2h-1.2zM302.8 34.7h1.2v1.2h-1.2zM302.5 31.4h1.2v1.2h-1.2zM315.4 38.3h1.2v1.2h-1.2zM303.5 32.1h1.2v1.2h-1.2zM305.5 35.9h1.2v1.2h-1.2zM319.0 36.1h1.2v1.2h-1.2zM308.7 42.4h1.2v1.2h-1.2zM312.3 37.3h1.2v1.2h-1.2zM311.8 36.2h1.2v1.2h-1.2zM307.4 34.1h1.2v1.2h-1.2zM302.3 31.9h1.2v1.2h-1.2zM311.2 40.1h1.2v1.2h-1.2zM309.1 41.2h1.2v1.2h-1.2zM311.4 38.5h1.2v1.2h-1.2zM302.4 40.4h1.2v1.2h-1.2zM315.6 40.6h1.2v1.2h-1.2zM316.0 36.0h1.2v1.2h-1.2zM301.7 43.2h1.2v1.2h-1.2zM304.3 39.0h1.2v1.2h-1.2zM306.8 38.1h1.2v1.2h-1.2zM306.3 35.8h1.2v1.2h-1.2zM309.3 30.1h1.2v1.2h-1.2zM302.2 33.4h1.2v1.2h-1.2zM303.3 27.5h1.2v1.2h-1.2zM311.7 44.8h1.2v1.2h-1.2zM306.4 41.1h1.2v1.2h-1.2zM311.8 32.9h1.2v1.2h-1.2zM315.8 31.1h1.2v1.2h-1.2zM304.3 36.5h1.2v1.2h-1.2zM316.0 38.5h1.2v1.2h-1.2zM307.2 34.7h1.2v1.2h-1.2zM308.6 38.2h1.2v1.2h-1.2zM312.7 43.7h1.2v1.2h-1.2zM312.7 38.1h1.2v1.2h-1.2zM307.0 44.6h1.2v1.2h-1.2zM309.3 37.9h1.2v1.2h-1.2zM319.4 44.5h1.2v1.2h-1.2zM311.6 37.6h1.2v1.2h-1.2zM304.0 42.4h1.2v1.2h-1.2zM305.1 41.9h1.2v1.2h-1.2zM303.0 38.4h1.2v1.2h-1.2zM310.6 38.6h1.2v1.2h-1.2zM309.5 39.6h1.2v1.2h-1.2zM300.9 33.4h1.2v1.2h-1.2zM307.1 45.4h1.2v1.2h-1.2zM307.2 34.2h1.2v1.2h-1.2zM303.8 38.1h1.2v1.2h-1.2zM315.5 35.7h1.2v1.2h-1.2zM311.6 38.8h1.2v1.2h-1.2zM305.7 34.1h1.2v1.2h-1.2zM307.0 35.0h1.2v1.2h-1.2zM311.4 30.8h1.2v1.2h-1.2zM315.2 41.1h1.2v1.2h-1.2zM311.7 44.1h1.2v1.2h-1.2zM311.8 31.0h1.2v1.2h-1.2zM308.3 39.8h1.2v1.2h-1.2zM303.7 33.4h1.2v1.2h-1.2zM310.7 40.1h1.2v1.2h-1.2zM305.3 37.0h1.2v1.2h-1.2zM304.8 35.7h1.2v1.2h-1.2zM307.6 42.4h1.2v1.2h-1.2zM297.8 36.6h1.2v1.2h-1.2zM318.2 39.3h1.2v1.2h-1.2zM309.0 41.4h1.2v1.2h-1.2zM301.6 33.0h1.2v1.2h-1.2zM309.6 41.5h1.2v1.2h-1.2zM305.4 35.2h1.2v1.2h-1.2zM310.6 40.5h1.2v1.2h-1.2zM309.6 30.2h1.2v1.2h-1.2zM304.5 27.6h1.2v1.2h-1.2zM309.5 34.5h1.2v1.2h-1.2zM303.8 44.2h1.2v1.2h-1.2zM316.4 40.0h1.2v1.2h-1.2zM309.7 38.7h1.2v1.2h-1.2zM304.3 37.8h1.2v1.2h-1.2zM320.1 34.4h1.2v1.2h-1.2zM303.8 38.7h1.2v1.2h-1.2zM313.6 41.4h1.2v1.2h-1.2zM301.9 37.5h1.2v1.2h-1.2zM306.3 33.0h1.2v1.2h-1.2zM308.5 36.0h1.2v1.2h-1.2zM313.8 39.8h1.2v1.2h-1.2zM303.1 38.3h1.2v1.2h-1.2zM305.7 35.4h1.2v1.2h-1.2zM304.9 42.3h1.2v1.2h-1.2zM305.4 31.0h1.2v1.2h-1.2zM303.1 41.3h1.2v1.2h-1.2zM321.6 33.7h1.2v1.2h-1.2zM305.8 36.7h1.2v1.2h-1.2zM299.1 39.6h1.2v1.2h-1.2zM307.7 39.1h1.2v1.2h-1.2zM322.2 36.9h1.2v1.2h-1.2zM313.0 41.4h1.2v1.2h-1.2zM304.0 35.6h1.2v1.2h-1.2zM317.8 40.9h1.2v1.2h-1.2zM308.9 33.5h1.2v1.2h-1.2zM313.6 40.2h1.2v1.2h-1.2zM321.9 44.0h1.2v1.2h-1.2zM313.1 39.1h1.2v1.2h-1.2zM308.4 35.8h1.2v1.2h-1.2zM310.0 39.0h1.2v1.2h-1.2zM312.1 42.4h1.2v1.2h-1.2zM310.0 35.8h1.2v1.2h-1.2zM313.1 44.3h1.2v1.2h-1.2zM302.7 39.7h1.2v1.2h-1.2zM311.5 40.2h1.2v1.2h-1.2zM311.2 37.6h1.2v1.2h-1.2zM307.4 44.9h1.2v1.2h-1.2zM318.9 32.3h1.2v1.2h-1.2zM303.7 35.9h1.2v1.2h-1.2zM297.9 39.4h1.2v1.2h-1.2zM307.7 35.8h1.2v1.2h-1.2zM313.7 47.9h1.2v1.2h-1.2zM317.3 42.8h1.2v1.2h-1.2zM305.4 40.7h1.2v1.2h-1.2zM307.8 42.7h1.2v1.2h-1.2zM311.7 37.9h1.2v1.2h-1.2zM311.5 35.1h1.2v1.2h-1.2zM313.0 44.1h1.2v1.2h-1.2zM305.7 40.3h1.2v1.2h-1.2zM313.5 33.8h1.2v1.2h-1.2zM319.0 38.5h1.2v1.2h-1.2zM313.5 36.9h1.2v1.2h-1.2zM315.0 31.7h1.2v1.2h-1.2zM307.4 42.0h1.2v1.2h-1.2zM303.7 40.8h1.2v1.2h-1.2zM305.7 39.4h1.2v1.2h-1.2zM310.0 47.1h1.2v1.2h-1.2zM300.2 41.2h1.2v1.2h-1.2zM316.3 33.4h1.2v1.2h-1.2zM308.5 47.4h1.2v1.2h-1.2zM314.6 25.9h1.2v1.2h-1.2zM306.5 31.0h1.2v1.2h-1.2zM309.9 35.0h1.2v1.2h-1.2zM304.5 34.6h1.2v1.2h-1.2zM309.9 36.1h1.2v1.2h-1.2zM302.3 37.1h1.2v1.2h-1.2zM310.6 34.5h1.2v1.2h-1.2zM315.0 31.2h1.2v1.2h-1.2zM310.6 36.4h1.2v1.2h-1.2zM317.9 35.4h1.2v1.2h-1.2zM303.8 32.5h1.2v1.2h-1.2zM320.5 40.5h1.2v1.2h-1.2zM301.2 36.6h1.2v1.2h-1.2zM302.0 44.2h1.2v1.2h-1.2zM310.6 29.7h1.2v1.2h-1.2zM309.3 41.7h1.2v1.2h-1.2zM308.0 39.9h1.2v1.2h-1.2zM307.3 38.9h1.2v1.2h-1.2zM309.3 35.1h1.2v1.2h-1.2zM310.2 38.7h1.2v1.2h-1.2zM307.8 35.2h1.2v1.2h-1.2zM301.6 39.0h1.2v1.2h-1.2zM313.2 28.1h1.2v1.2h-1.2zM304.6 43.5h1.2v1.2h-1.2zM313.8 35.1h1.2v1.2h-1.2zM316.5 34.0h1.2v1.2h-1.2zM303.0 45.9h1.2v1.2h-1.2zM305.2 37.1h1.2v1.2h-1.2zM300.6 37.4h1.2v1.2h-1.2zM305.8 35.5h1.2v1.2h-1.2zM304.0 41.0h1.2v1.2h-1.2zM317.7 36.3h1.2v1.2h-1.2zM318.2 44.6h1.2v1.2h-1.2zM316.5 39.2h1.2v1.2h-1.2zM298.6 40.8h1.2v1.2h-1.2zM305.4 38.8h1.2v1.2h-1.2zM309.5 34.2h1.2v1.2h-1.2zM309.9 44.8h1.2v1.2h-1.2zM309.5 35.2h1.2v1.2h-1.2zM323.1 29.2h1.2v1.2h-1.2zM302.2 39.7h1.2v1.2h-1.2zM304.3 28.6h1.2v1.2h-1.2zM309.6 41.4h1.2v1.2h-1.2zM303.0 44.0h1.2v1.2h-1.2zM311.2 42.9h1.2v1.2h-1.2zM298.3 38.0h1.2v1.2h-1.2zM318.1 46.2h1.2v1.2h-1.2zM316.3 38.0h1.2v1.2h-1.2zM309.2 35.4h1.2v1.2h-1.2zM315.0 35.2h1.2v1.2h-1.2zM308.8 29.6h1.2v1.2h-1.2zM298.5 45.3h1.2v1.2h-1.2zM308.4 38.9h1.2v1.2h-1.2zM321.1 31.9h1.2v1.2h-1.2zM304.6 37.1h1.2v1.2h-1.2zM300.0 32.4h1.2v1.2h-1.2zM300.2 40.6h1.2v1.2h-1.2zM307.7 41.4h1.2v1.2h-1.2zM301.2 40.4h1.2v1.2h-1.2zM305.2 38.4h1.2v1.2h-1.2zM313.9 38.1h1.2v1.2h-1.2zM305.8 31.2h1.2v1.2h-1.2zM308.4 41.2h1.2v1.2h-1.2zM304.0 37.7h1.2v1.2h-1.2zM310.6 43.3h1.2v1.2h-1.2zM306.0 31.1h1.2v1.2h-1.2zM305.6 31.6h1.2v1.2h-1.2zM306.2 45.9h1.2v1.2h-1.2zM309.9 37.4h1.2v1.2h-1.2zM314.6 36.4h1.2v1.2h-1.2zM310.1 38.8h1.2v1.2h-1.2zM310.8 32.0h1.2v1.2h-1.2zM312.5 41.6h1.2v1.2h-1.2zM302.3 44.1h1.2v1.2h-1.2zM308.1 40.8h1.2v1.2h-1.2zM311.5 41.7h1.2v1.2h-1.2zM303.9 35.6h1.2v1.2h-1.2zM310.4 40.5h1.2v1.2h-1.2zM311.7 39.4h1.2v1.2h-1.2zM304.9 42.6h1.2v1.2h-1.2zM311.0 42.4h1.2v1.2h-1.2zM303.8 38.5h1.2v1.2h-1.2zM305.0 36.7h1.2v1.2h-1.2zM309.2 39.4h1.2v1.2h-1.2zM302.9 27.5h1.2v1.2h-1.2zM303.0 40.2h1.2v1.2h-1.2zM302.6 39.8h1.2v1.2h-1.2zM305.6 34.1h1.2v1.2h-1.2zM315.5 44.9h1.2v1.2h-1.2zM307.3 37.8h1.2v1.2h-1.2zM314.1 32.5h1.2v1.2h-1.2zM302.4 42.7h1.2v1.2h-1.2zM313.8 36.0h1.2v1.2h-1.2zM303.0 39.5h1.2v1.2h-1.2zM299.0 35.9h1.2v1.2h-1.2zM306.5 27.8h1.2v1.2h-1.2zM311.8 41.2h1.2v1.2h-1.2zM314.9 32.0h1.2v1.2h-1.2zM299.7 34.6h1.2v1.2h-1.2zM299.6 46.5h1.2v1.2h-1.2zM301.7 36.7h1.2v1.2h-1.2zM309.3 39.9h1.2v1.2h-1.2zM317.3 33.5h1.2v1.2h-1.2zM313.7 38.6h1.2v1.2h-1.2zM300.5 38.6h1.2v1.2h-1.2zM299.0 44.7h1.2v1.2h-1.2zM303.3 42.2h1.2v1.2h-1.2zM316.4 35.4h1.2v1.2h-1.2zM302.2 38.5h1.2v1.2h-1.2zM301.2 41.7h1.2v1.2h-1.2zM309.1 34.8h1.2v1.2h-1.2zM303.6 41.0h1.2v1.2h-1.2zM298.6 45.0h1.2v1.2h-1.2zM302.9 37.2h1.2v1.2h-1.2zM302.0 44.8h1.2v1.2h-1.2zM313.3 43.4h1.2v1.2h-1.2zM312.2 38.4h1.2v1.2h-1.2zM319.0 40.8h1.2v1.2h-1.2zM310.8 40.4h1.2v1.2h-1.2zM312.8 39.2h1.2v1.2h-1.2zM306.9 31.3h1.2v1.2h-1.2zM321.3 32.6h1.2v1.2h-1.2zM320.5 43.1h1.2v1.2h-1.2zM304.1 39.1h1.2v1.2h-1.2zM307.8 29.7h1.2v1.2h-1.2zM305.8 39.2h1.2v1.2h-1.2zM315.6 33.0h1.2v1.2h-1.2zM310.1 38.3h1.2v1.2h-1.2zM309.0 38.6h1.2v1.2h-1.2zM305.6 32.3h1.2v1.2h-1.2zM310.9 39.6h1.2v1.2h-1.2zM311.7 43.2h1.2v1.2h-1.2zM300.0 28.2h1.2v1.2h-1.2zM302.1 39.7h1.2v1.2h-1.2zM307.9 41.1h1.2v1.2h-1.2zM328.8 35.8h1.2v1.2h-1.2zM306.9 35.5h1.2v1.2h-1.2zM309.6 40.2h1.2v1.2h-1.2zM301.7 43.5h1.2v1.2h-1.2zM315.4 39.9h1.2v1.2h-1.2zM307.3 37.0h1.2v1.2h-1.2zM301.7 35.9h1.2v1.2h-1.2zM314.5 34.1h1.2v1.2h-1.2zM304.6 41.6h1.2v1.2h-1.2zM320.1 35.1h1.2v1.2h-1.2zM315.2 35.3h1.2v1.2h-1.2zM310.5 40.0h1.2v1.2h-1.2zM300.6 42.3h1.2v1.2h-1.2zM319.7 38.2h1.2v1.2h-1.2zM309.8 33.1h1.2v1.2h-1.2zM319.6 38.3h1.2v1.2h-1.2zM299.7 41.2h1.2v1.2h-1.2zM298.5 35.1h1.2v1.2h-1.2zM322.4 35.3h1.2v1.2h-1.2zM303.8 35.6h1.2v1.2h-1.2zM304.3 40.3h1.2v1.2h-1.2zM317.5 33.8h1.2v1.2h-1.2zM310.9 30.4h1.2v1.2h-1.2zM317.9 37.6h1.2v1.2h-1.2zM303.4 44.4h1.2v1.2h-1.2zM307.3 43.8h1.2v1.2h-1.2zM315.0 45.0h1.2v1.2h-1.2zM302.8 38.2h1.2v1.2h-1.2zM310.4 37.2h1.2v1.2h-1.2zM317.9 35.0h1.2v1.2h-1.2zM314.5 43.7h1.2v1.2h-1.2zM302.1 35.7h1.2v1.2h-1.2zM310.5 37.3h1.2v1.2h-1.2zM308.5 36.1h1.2v1.2h-1.2zM307.5 40.0h1.2v1.2h-1.2zM312.8 34.7h1.2v1.2h-1.2zM307.3 34.8h1.2v1.2h-1.2zM306.8 32.0h1.2v1.2h-1.2zM314.2 40.8h1.2v1.2h-1.2zM307.2 35.1h1.2v1.2h-1.2zM305.0 35.2h1.2v1.2h-1.2zM298.0 44.9h1.2v1.2h-1.2zM329.4 32.8h1.2v1.2h-1.2zM300.4 40.4h1.2v1.2h-1.2zM311.9 31.4h1.2v1.2h-1.2zM304.8 38.4h1.2v1.2h-1.2zM308.0 35.7h1.2v1.2h-1.2zM307.1 36.7h1.2v1.2h-1.2zM316.1 37.6h1.2v1.2h-1.2zM307.8 35.8h1.2v1.2h-1.2zM303.9 34.9h1.2v1.2h-1.2zM308.1 45.7h1.2v1.2h-1.2zM315.2 39.0h1.2v1.2h-1.2zM318.8 42.3h1.2v1.2h-1.2zM309.3 37.3h1.2v1.2h-1.2zM300.9 39.0h1.2v1.2h-1.2zM305.9 31.3h1.2v1.2h-1.2zM299.6 46.1h1.2v1.2h-1.2zM309.4 40.1h1.2v1.2h-1.2zM309.3 36.0h1.2v1.2h-1.2zM311.0 42.6h1.2v1.2h-1.2zM306.0 40.2h1.2v1.2h-1.2zM314.7 36.0h1.2v1.2h-1.2zM309.1 34.9h1.2v1.2h-1.2zM311.9 36.5h1.2v1.2h-1.2zM315.5 34.8h1.2v1.2h-1.2zM319.0 36.7h1.2v1.2h-1.2zM302.5 34.2h1.2v1.2h-1.2zM312.3 34.4h1.2v1.2h-1.2zM319.7 43.4h1.2v1.2h-1.2zM311.4 32.0h1.2v1.2h-1.2zM307.8 34.9h1.2v1.2h-1.2zM322.3 35.7h1.2v1.2h-1.2zM313.3 43.4h1.2v1.2h-1.2zM301.8 36.6h1.2v1.2h-1.2zM309.7 40.0h1.2v1.2h-1.2zM300.6 38.9h1.2v1.2h-1.2zM307.3 42.0h1.2v1.2h-1.2zM323.2 35.2h1.2v1.2h-1.2zM326.5 36.4h1.2v1.2h-1.2zM330.2 34.9h1.2v1.2h-1.2zM336.2 34.5h1.2v1.2h-1.2zM330.5 43.1h1.2v1.2h-1.2zM330.9 37.0h1.2v1.2h-1.2zM325.5 36.7h1.2v1.2h-1.2zM330.0 38.6h1.2v1.2h-1.2zM329.7 40.9h1.2v1.2h-1.2zM325.3 33.3h1.2v1.2h-1.2zM332.3 35.6h1.2v1.2h-1.2zM323.2 47.3h1.2v1.2h-1.2zM325.5 33.3h1.2v1.2h-1.2zM330.9 32.3h1.2v1.2h-1.2zM305.2 66.1h1.2v1.2h-1.2zM304.0 77.1h1.2v1.2h-1.2zM302.9 77.2h1.2v1.2h-1.2zM299.3 48.3h1.2v1.2h-1.2zM309.1 54.2h1.2v1.2h-1.2zM308.1 51.5h1.2v1.2h-1.2zM314.7 68.1h1.2v1.2h-1.2zM311.7 75.8h1.2v1.2h-1.2zM317.8 68.3h1.2v1.2h-1.2zM312.3 48.1h1.2v1.2h-1.2zM299.0 60.8h1.2v1.2h-1.2zM317.4 57.4h1.2v1.2h-1.2zM309.4 48.3h1.2v1.2h-1.2zM306.3 75.1h1.2v1.2h-1.2zM309.8 72.7h1.2v1.2h-1.2zM298.3 54.1h1.2v1.2h-1.2zM301.6 73.0h1.2v1.2h-1.2zM300.0 76.0h1.2v1.2h-1.2zM303.3 74.4h1.2v1.2h-1.2zM308.3 57.7h1.2v1.2h-1.2zM317.3 60.2h1.2v1.2h-1.2zM311.9 50.0h1.2v1.2h-1.2zM300.2 70.4h1.2v1.2h-1.2zM303.4 52.4h1.2v1.2h-1.2zM305.3 67.9h1.2v1.2h-1.2zM317.9 66.7h1.2v1.2h-1.2zM311.1 52.8h1.2v1.2h-1.2zM312.5 64.5h1.2v1.2h-1.2zM305.2 75.0h1.2v1.2h-1.2zM303.1 52.2h1.2v1.2h-1.2zM301.2 52.5h1.2v1.2h-1.2zM309.8 72.0h1.2v1.2h-1.2zM301.2 63.1h1.2v1.2h-1.2zM343.0 50.0h1.2v1.2h-1.2zM334.0 58.0h1.2v1.2h-1.2zM327.0 33.0h1.2v1.2h-1.2zM339.0 45.0h1.2v1.2h-1.2z" fill="#000"/>
<path d="M293.7 78.3H296.9M296.9 78.3V82.5M295.1 73.9H296.9M302.6 78.3V80.5M295.1 71.3H296.9M305.9 78.3V80.5M295.1 69.5H296.9M308.2 78.3V80.5M295.1 68.1H296.9M310.1 78.3V80.5M295.1 66.9H296.9M311.6 78.3V80.5M295.1 65.9H296.9M312.8 78.3V80.5M295.1 65.1H296.9M313.9 78.3V80.5M295.1 64.3H296.9M314.9 78.3V80.5M293.7 63.7H296.9M315.8 78.3V82.5M295.1 59.3H296.9M321.4 78.3V80.5M295.1 56.7H296.9M324.7 78.3V80.5M295.1 54.9H296.9M327.1 78.3V80.5M295.1 53.5H296.9M328.9 78.3V80.5M295.1 52.3H296.9M330.4 78.3V80.5M295.1 51.3H296.9M331.7 78.3V80.5M295.1 50.5H296.9M332.8 78.3V80.5M295.1 49.7H296.9M333.7 78.3V80.5M293.7 49.0H296.9M334.6 78.3V82.5M295.1 44.6H296.9M340.3 78.3V80.5M295.1 42.1H296.9M343.6 78.3V80.5M295.1 40.2H296.9M345.9 78.3V80.5M295.1 38.8H296.9M347.8 78.3V80.5M295.1 37.7H296.9M349.3 78.3V80.5M295.1 36.7H296.9M350.5 78.3V80.5M295.1 35.8H296.9M351.6 78.3V80.5M295.1 35.1H296.9M352.6 78.3V80.5M293.7 34.4H296.9M353.4 78.3V82.5M295.1 30.0H296.9M359.1 78.3V80.5M295.1 27.4H296.9M362.4 78.3V80.5M295.1 25.6H296.9M364.8 78.3V80.5M295.1 24.2H296.9M366.6 78.3V80.5M295.1 23.0H296.9M368.1 78.3V80.5M295.1 22.1H296.9M369.4 78.3V80.5M295.1 21.2H296.9M370.5 78.3V80.5M295.1 20.5H296.9M371.4 78.3V80.5M293.7 19.8H296.9M372.3 78.3V82.5" stroke="#000" stroke-width="0.9" fill="none"/>
<rect x="296.9" y="19.8" width="75.4" height="58.5" fill="none" stroke="#000" stroke-width="1.5"/>
<rect x="296.9" y="25.6" width="28.4" height="21.5" fill="none" stroke="#000" stroke-width="1.5"/>
<rect x="337.5" y="28.1" width="27.4" height="50.2" fill="none" stroke="#000" stroke-width="1.5"/>
<path d="M453.9 57.8h1.2v1.2h-1.2zM450.8 57.0h1.2v1.2h-1.2zM443.3 34.7h1.2v1.2h-1.2zM451.0 42.9h1.2v1.2h-1.2zM457.4 43.1h1.2v1.2h-1.2zM458.7 43.1h1.2v1.2h-1.2zM444.8 54.0h1.2v1.2h-1.2zM450.4 47.4h1.2v1.2h-1.2zM457.5 42.2h1.2v1.2h-1.2zM455.7 70.4h1.2v1.2h-1.2zM451.6 55.1h1.2v1.2h-1.2zM460.5 59.8h1.2v1.2h-1.2zM446.4 35.2h1.2v1.2h-1.2zM444.6 47.3h1.2v1.2h-1.2zM444.7 61.8h1.2v1.2h-1.2zM451.0 46.2h1.2v1.2h-1.2zM452.7 75.1h1.2v1.2h-1.2zM447.6 39.1h1.2v1.2h-1.2zM448.8 46.9h1.2v1.2h-1.2zM460.3 64.5h1.2v1.2h-1.2zM451.1 39.6h1.2v1.2h-1.2zM443.9 37.6h1.2v1.2h-1.2zM459.1 61.8h1.2v1.2h-1.2zM446.0 60.8h1.2v1.2h-1.2zM444.1 55.3h1.2v1.2h-1.2zM449.4 36.7h1.2v1.2h-1.2zM457.1 65.0h1.2v1.2h-1.2zM452.7 39.7h1.2v1.2h-1.2zM455.7 51.9h1.2v1.2h-1.2zM455.6 36.2h1.2v1.2h-1.2zM460.1 32.2h1.2v1.2h-1.2zM447.2 50.3h1.2v1.2h-1.2zM446.8 36.0h1.2v1.2h-1.2zM449.4 44.2h1.2v1.2h-1.2zM455.7 42.2h1.2v1.2h-1.2zM450.6 63.7h1.2v1.2h-1.2zM451.2 39.2h1.2v1.2h-1.2zM444.3 57.0h1.2v1.2h-1.2zM461.8 74.3h1.2v1.2h-1.2zM444.9 55.1h1.2v1.2h-1.2zM452.3 40.9h1.2v1.2h-1.2zM455.7 54.8h1.2v1.2h-1.2zM458.4 45.4h1.2v1.2h-1.2zM460.7 69.5h1.2v1.2h-1.2zM452.0 38.5h1.2v1.2h-1.2zM452.2 37.8h1.2v1.2h-1.2zM456.0 64.1h1.2v1.2h-1.2zM443.9 64.9h1.2v1.2h-1.2zM458.2 37.2h1.2v1.2h-1.2zM449.1 34.5h1.2v1.2h-1.2zM454.1 65.3h1.2v1.2h-1.2zM449.6 64.0h1.2v1.2h-1.2zM450.0 64.8h1.2v1.2h-1.2zM451.3 32.2h1.2v1.2h-1.2zM444.7 65.4h1.2v1.2h-1.2zM459.4 61.3h1.2v1.2h-1.2zM446.0 72.1h1.2v1.2h-1.2zM456.6 37.3h1.2v1.2h-1.2zM450.2 62.9h1.2v1.2h-1.2zM443.1 33.9h1.2v1.2h-1.2zM449.7 72.2h1.2v1.2h-1.2zM461.9 46.6h1.2v1.2h-1.2zM460.3 68.2h1.2v1.2h-1.2zM459.4 59.1h1.2v1.2h-1.2zM461.4 61.6h1.2v1.2h-1.2zM461.0 58.0h1.2v1.2h-1.2zM446.7 55.9h1.2v1.2h-1.2zM452.2 47.5h1.2v1.2h-1.2zM450.1 55.5h1.2v1.2h-1.2zM454.2 42.2h1.2v1.2h-1.2zM448.3 55.1h1.2v1.2h-1.2zM452.6 51.3h1.2v1.2h-1.2zM455.6 40.5h1.2v1.2h-1.2zM453.1 44.7h1.2v1.2h-1.2zM457.6 64.4h1.2v1.2h-1.2zM457.8 55.8h1.2v1.2h-1.2zM447.7 74.6h1.2v1.2h-1.2zM452.7 49.3h1.2v1.2h-1.2zM448.5 50.5h1.2v1.2h-1.2zM456.5 69.7h1.2v1.2h-1.2zM452.2 65.6h1.2v1.2h-1.2zM447.0 52.8h1.2v1.2h-1.2zM449.8 46.1h1.2v1.2h-1.2zM449.8 66.7h1.2v1.2h-1.2zM456.9 41.5h1.2v1.2h-1.2zM447.4 68.1h1.2v1.2h-1.2zM455.4 63.1h1.2v1.2h-1.2zM455.1 63.9h1.2v1.2h-1.2zM448.2 34.8h1.2v1.2h-1.2zM449.9 33.5h1.2v1.2h-1.2zM461.3 56.1h1.2v1.2h-1.2zM458.3 42.5h1.2v1.2h-1.2zM449.4 37.0h1.2v1.2h-1.2zM458.1 65.9h1.2v1.2h-1.2zM452.3 49.0h1.2v1.2h-1.2zM448.1 54.4h1.2v1.2h-1.2zM456.5 73.2h1.2v1.2h-1.2zM459.1 71.9h1.2v1.2h-1.2zM451.3 51.4h1.2v1.2h-1.2zM446.5 39.3h1.2v1.2h-1.2zM448.3 74.4h1.2v1.2h-1.2zM459.2 47.2h1.2v1.2h-1.2zM459.2 73.0h1.2v1.2h-1.2zM451.1 40.8h1.2v1.2h-1.2zM457.7 49.2h1.2v1.2h-1.2zM445.3 73.5h1.2v1.2h-1.2zM451.4 50.3h1.2v1.2h-1.2zM454.3 43.7h1.2v1.2h-1.2zM443.4 49.9h1.2v1.2h-1.2zM450.2 32.5h1.2v1.2h-1.2zM450.1 67.0h1.2v1.2h-1.2zM449.3 63.3h1.2v1.2h-1.2zM454.9 40.7h1.2v1.2h-1.2zM443.4 63.0h1.2v1.2h-1.2zM454.6 45.5h1.2v1.2h-1.2zM446.8 71.3h1.2v1.2h-1.2zM460.3 42.7h1.2v1.2h-1.2zM454.1 58.4h1.2v1.2h-1.2zM449.1 33.7h1.2v1.2h-1.2zM449.2 61.6h1.2v1.2h-1.2zM454.4 55.5h1.2v1.2h-1.2zM445.3 41.8h1.2v1.2h-1.2zM448.9 51.2h1.2v1.2h-1.2zM449.9 73.5h1.2v1.2h-1.2zM447.6 71.4h1.2v1.2h-1.2zM447.6 59.0h1.2v1.2h-1.2zM450.2 33.7h1.2v1.2h-1.2zM458.1 69.3h1.2v1.2h-1.2zM448.1 67.7h1.2v1.2h-1.2zM444.0 49.5h1.2v1.2h-1.2zM447.3 60.7h1.2v1.2h-1.2zM457.8 70.7h1.2v1.2h-1.2zM453.4 49.8h1.2v1.2h-1.2zM458.2 36.8h1.2v1.2h-1.2zM447.9 66.6h1.2v1.2h-1.2zM444.7 53.2h1.2v1.2h-1.2zM447.0 32.1h1.2v1.2h-1.2zM444.8 36.2h1.2v1.2h-1.2zM450.0 51.9h1.2v1.2h-1.2zM452.6 45.3h1.2v1.2h-1.2zM456.3 55.7h1.2v1.2h-1.2zM461.7 39.8h1.2v1.2h-1.2zM452.7 54.7h1.2v1.2h-1.2zM450.1 71.6h1.2v1.2h-1.2zM447.0 72.4h1.2v1.2h-1.2zM449.8 47.4h1.2v1.2h-1.2zM454.7 57.9h1.2v1.2h-1.2zM448.4 35.9h1.2v1.2h-1.2zM461.1 49.0h1.2v1.2h-1.2zM445.2 62.2h1.2v1.2h-1.2zM453.1 47.1h1.2v1.2h-1.2zM449.2 70.9h1.2v1.2h-1.2zM449.4 51.2h1.2v1.2h-1.2zM461.2 48.6h1.2v1.2h-1.2zM450.6 39.5h1.2v1.2h-1.2zM455.6 62.6h1.2v1.2h-1.2zM451.5 50.7h1.2v1.2h-1.2zM447.4 68.3h1.2v1.2h-1.2zM451.7 70.3h1.2v1.2h-1.2zM450.1 65.7h1.2v1.2h-1.2zM443.5 42.1h1.2v1.2h-1.2zM461.3 63.4h1.2v1.2h-1.2zM455.8 54.9h1.2v1.2h-1.2zM452.0 41.1h1.2v1.2h-1.2zM446.3 61.7h1.2v1.2h-1.2zM456.2 43.9h1.2v1.2h-1.2zM455.2 38.3h1.2v1.2h-1.2zM454.6 39.9h1.2v1.2h-1.2zM452.7 46.4h1.2v1.2h-1.2zM453.5 38.2h1.2v1.2h-1.2zM452.2 60.4h1.2v1.2h-1.2zM445.6 46.2h1.2v1.2h-1.2zM455.9 57.1h1.2v1.2h-1.2zM454.7 67.9h1.2v1.2h-1.2zM453.9 42.2h1.2v1.2h-1.2zM451.4 70.2h1.2v1.2h-1.2zM453.8 66.6h1.2v1.2h-1.2zM449.9 52.6h1.2v1.2h-1.2zM461.4 69.8h1.2v1.2h-1.2zM455.4 36.9h1.2v1.2h-1.2zM454.6 33.5h1.2v1.2h-1.2zM456.8 44.3h1.2v1.2h-1.2zM459.1 40.2h1.2v1.2h-1.2zM458.7 56.0h1.2v1.2h-1.2zM443.3 73.0h1.2v1.2h-1.2zM451.4 70.2h1.2v1.2h-1.2zM456.1 56.5h1.2v1.2h-1.2zM459.4 41.3h1.2v1.2h-1.2zM460.1 47.6h1.2v1.2h-1.2zM443.5 47.5h1.2v1.2h-1.2zM444.3 35.3h1.2v1.2h-1.2zM454.9 37.6h1.2v1.2h-1.2zM446.0 45.5h1.2v1.2h-1.2zM448.3 74.3h1.2v1.2h-1.2zM460.2 72.0h1.2v1.2h-1.2zM461.8 52.2h1.2v1.2h-1.2zM458.1 44.9h1.2v1.2h-1.2zM460.6 69.3h1.2v1.2h-1.2zM456.9 42.5h1.2v1.2h-1.2zM444.7 74.6h1.2v1.2h-1.2zM453.5 60.2h1.2v1.2h-1.2zM459.4 38.6h1.2v1.2h-1.2zM456.3 53.3h1.2v1.2h-1.2zM457.9 53.0h1.2v1.2h-1.2zM446.7 76.0h1.2v1.2h-1.2zM448.3 66.3h1.2v1.2h-1.2zM458.8 43.4h1.2v1.2h-1.2zM456.2 50.2h1.2v1.2h-1.2zM447.3 42.0h1.2v1.2h-1.2zM461.1 48.9h1.2v1.2h-1.2zM452.7 55.1h1.2v1.2h-1.2zM443.5 66.7h1.2v1.2h-1.2zM457.2 72.3h1.2v1.2h-1.2zM449.8 41.6h1.2v1.2h-1.2zM449.6 65.7h1.2v1.2h-1.2zM455.5 50.7h1.2v1.2h-1.2zM453.0 39.1h1.2v1.2h-1.2zM460.5 53.7h1.2v1.2h-1.2zM452.6 68.2h1.2v1.2h-1.2zM446.8 65.2h1.2v1.2h-1.2zM449.7 69.4h1.2v1.2h-1.2zM444.8 44.7h1.2v1.2h-1.2zM455.1 54.2h1.2v1.2h-1.2zM450.2 58.6h1.2v1.2h-1.2zM447.1 52.1h1.2v1.2h-1.2zM443.0 68.7h1.2v1.2h-1.2zM447.8 70.2h1.2v1.2h-1.2zM453.5 59.7h1.2v1.2h-1.2zM454.9 37.8h1.2v1.2h-1.2zM457.8 45.4h1.2v1.2h-1.2zM459.4 68.2h1.2v1.2h-1.2zM455.9 69.5h1.2v1.2h-1.2zM451.3 63.0h1.2v1.2h-1.2zM461.1 40.7h1.2v1.2h-1.2zM444.9 50.9h1.2v1.2h-1.2zM452.7 38.9h1.2v1.2h-1.2zM447.2 71.9h1.2v1.2h-1.2zM450.4 38.8h1.2v1.2h-1.2zM446.5 58.6h1.2v1.2h-1.2zM446.6 53.9h1.2v1.2h-1.2zM453.2 52.2h1.2v1.2h-1.2zM452.6 70.5h1.2v1.2h-1.2zM443.3 74.8h1.2v1.2h-1.2zM446.8 33.8h1.2v1.2h-1.2zM457.6 58.2h1.2v1.2h-1.2zM453.2 42.0h1.2v1.2h-1.2zM457.8 46.1h1.2v1.2h-1.2zM456.8 42.5h1.2v1.2h-1.2zM453.9 61.8h1.2v1.2h-1.2zM450.1 54.1h1.2v1.2h-1.2zM444.2 61.6h1.2v1.2h-1.2zM456.1 39.1h1.2v1.2h-1.2zM453.5 65.7h1.2v1.2h-1.2zM444.9 70.6h1.2v1.2h-1.2zM459.5 34.3h1.2v1.2h-1.2zM447.7 35.9h1.2v1.2h-1.2zM447.8 36.0h1.2v1.2h-1.2zM452.3 43.5h1.2v1.2h-1.2zM448.7 53.2h1.2v1.2h-1.2zM450.1 68.3h1.2v1.2h-1.2zM456.7 37.2h1.2v1.2h-1.2zM447.2 32.4h1.2v1.2h-1.2zM449.3 37.0h1.2v1.2h-1.2zM456.2 67.9h1.2v1.2h-1.2zM461.9 41.6h1.2v1.2h-1.2zM443.7 66.8h1.2v1.2h-1.2zM450.8 74.8h1.2v1.2h-1.2zM450.5 46.4h1.2v1.2h-1.2zM444.4 75.6h1.2v1.2h-1.2zM452.7 52.3h1.2v1.2h-1.2zM451.3 67.4h1.2v1.2h-1.2zM458.8 53.9h1.2v1.2h-1.2zM446.4 50.7h1.2v1.2h-1.2zM459.9 50.8h1.2v1.2h-1.2zM455.6 57.7h1.2v1.2h-1.2zM451.8 58.4h1.2v1.2h-1.2zM447.7 57.6h1.2v1.2h-1.2zM459.4 35.7h1.2v1.2h-1.2zM450.0 72.5h1.2v1.2h-1.2zM461.6 32.6h1.2v1.2h-1.2zM454.9 61.1h1.2v1.2h-1.2zM459.0 53.6h1.2v1.2h-1.2zM445.5 45.8h1.2v1.2h-1.2zM456.5 65.5h1.2v1.2h-1.2zM446.9 61.6h1.2v1.2h-1.2zM455.5 62.3h1.2v1.2h-1.2zM443.4 52.3h1.2v1.2h-1.2zM449.2 59.5h1.2v1.2h-1.2zM449.4 37.9h1.2v1.2h-1.2zM455.7 45.2h1.2v1.2h-1.2zM458.0 46.1h1.2v1.2h-1.2zM453.4 69.2h1.2v1.2h-1.2zM445.2 65.6h1.2v1.2h-1.2zM444.3 75.1h1.2v1.2h-1.2zM443.5 65.3h1.2v1.2h-1.2zM450.0 40.3h1.2v1.2h-1.2zM450.5 55.1h1.2v1.2h-1.2zM450.9 37.6h1.2v1.2h-1.2zM452.9 45.8h1.2v1.2h-1.2zM461.4 49.6h1.2v1.2h-1.2zM451.3 42.5h1.2v1.2h-1.2zM461.4 46.8h1.2v1.2h-1.2zM455.3 70.3h1.2v1.2h-1.2zM450.5 66.7h1.2v1.2h-1.2zM448.3 37.0h1.2v1.2h-1.2zM443.8 52.7h1.2v1.2h-1.2zM459.6 41.3h1.2v1.2h-1.2zM451.4 67.1h1.2v1.2h-1.2zM448.2 39.0h1.2v1.2h-1.2zM452.9 51.6h1.2v1.2h-1.2zM460.8 73.3h1.2v1.2h-1.2zM447.5 57.8h1.2v1.2h-1.2zM450.9 33.6h1.2v1.2h-1.2zM451.4 74.1h1.2v1.2h-1.2zM448.8 59.0h1.2v1.2h-1.2zM456.5 34.9h1.2v1.2h-1.2zM460.6 37.0h1.2v1.2h-1.2zM448.7 64.9h1.2v1.2h-1.2zM443.4 49.3h1.2v1.2h-1.2zM445.4 53.8h1.2v1.2h-1.2zM443.3 39.0h1.2v1.2h-1.2zM447.2 35.7h1.2v1.2h-1.2zM444.7 40.9h1.2v1.2h-1.2zM452.8 38.3h1.2v1.2h-1.2zM458.6 51.2h1.2v1.2h-1.2zM447.8 43.1h1.2v1.2h-1.2zM459.0 34.2h1.2v1.2h-1.2zM457.1 36.5h1.2v1.2h-1.2zM460.9 50.8h1.2v1.2h-1.2zM454.4 71.7h1.2v1.2h-1.2zM444.9 34.9h1.2v1.2h-1.2zM456.2 59.0h1.2v1.2h-1.2zM456.7 44.8h1.2v1.2h-1.2zM452.4 40.6h1.2v1.2h-1.2zM451.3 45.0h1.2v1.2h-1.2zM454.1 45.8h1.2v1.2h-1.2zM448.2 61.6h1.2v1.2h-1.2zM444.6 68.9h1.2v1.2h-1.2zM452.4 42.5h1.2v1.2h-1.2zM445.2 55.4h1.2v1.2h-1.2zM452.6 65.1h1.2v1.2h-1.2zM450.1 51.0h1.2v1.2h-1.2zM460.0 44.6h1.2v1.2h-1.2zM461.6 73.1h1.2v1.2h-1.2zM461.8 75.4h1.2v1.2h-1.2zM447.9 69.5h1.2v1.2h-1.2zM454.6 41.4h1.2v1.2h-1.2zM462.0 61.8h1.2v1.2h-1.2zM458.4 57.7h1.2v1.2h-1.2zM444.5 71.7h1.2v1.2h-1.2zM446.3 43.9h1.2v1.2h-1.2zM465.3 40.9h1.2v1.2h-1.2zM464.2 64.8h1.2v1.2h-1.2zM461.7 62.4h1.2v1.2h-1.2zM461.7 53.9h1.2v1.2h-1.2zM465.5 63.6h1.2v1.2h-1.2zM461.3 40.8h1.2v1.2h-1.2zM467.7 50.0h1.2v1.2h-1.2zM464.0 49.2h1.2v1.2h-1.2zM465.9 66.1h1.2v1.2h-1.2zM465.6 50.5h1.2v1.2h-1.2zM465.0 55.7h1.2v1.2h-1.2zM462.3 75.7h1.2v1.2h-1.2zM467.8 67.8h1.2v1.2h-1.2zM467.9 53.4h1.2v1.2h-1.2zM466.9 43.1h1.2v1.2h-1.2zM466.2 64.9h1.2v1.2h-1.2zM467.6 70.3h1.2v1.2h-1.2zM467.2 44.3h1.2v1.2h-1.2zM466.5 53.9h1.2v1.2h-1.2zM463.2 48.9h1.2v1.2h-1.2zM466.6 70.8h1.2v1.2h-1.2zM466.9 62.8h1.2v1.2h-1.2zM462.2 39.2h1.2v1.2h-1.2zM465.0 41.8h1.2v1.2h-1.2zM463.4 36.7h1.2v1.2h-1.2zM462.1 65.0h1.2v1.2h-1.2zM462.6 71.0h1.2v1.2h-1.2zM463.3 71.0h1.2v1.2h-1.2zM463.1 44.3h1.2v1.2h-1.2zM463.8 32.6h1.2v1.2h-1.2zM464.0 49.5h1.2v1.2h-1.2zM461.1 71.6h1.2v1.2h-1.2zM463.6 32.0h1.2v1.2h-1.2zM467.7 42.5h1.2v1.2h-1.2zM462.8 33.1h1.2v1.2h-1.2zM461.7 64.6h1.2v1.2h-1.2zM465.1 55.2h1.2v1.2h-1.2zM462.7 45.2h1.2v1.2h-1.2zM467.8 49.1h1.2v1.2h-1.2zM467.9 72.8h1.2v1.2h-1.2zM461.9 71.0h1.2v1.2h-1.2zM461.1 64.7h1.2v1.2h-1.2zM466.7 64.0h1.2v1.2h-1.2zM464.8 69.4h1.2v1.2h-1.2zM462.1 56.8h1.2v1.2h-1.2zM462.9 50.4h1.2v1.2h-1.2zM462.3 64.6h1.2v1.2h-1.2zM465.0 67.8h1.2v1.2h-1.2zM465.4 59.6h1.2v1.2h-1.2zM467.5 69.4h1.2v1.2h-1.2zM446.9 44.7h1.2v1.2h-1.2zM455.3 44.2h1.2v1.2h-1.2zM454.6 52.9h1.2v1.2h-1.2zM446.5 37.5h1.2v1.2h-1.2zM459.0 42.0h1.2v1.2h-1.2zM445.8 51.4h1.2v1.2h-1.2zM451.3 40.1h1.2v1.2h-1.2zM456.4 56.0h1.2v1.2h-1.2zM452.4 41.7h1.2v1.2h-1.2zM452.9 51.5h1.2v1.2h-1.2zM446.5 48.4h1.2v1.2h-1.2zM448.9 43.9h1.2v1.2h-1.2zM454.0 47.0h1.2v1.2h-1.2zM455.9 52.5h1.2v1.2h-1.2zM456.7 49.2h1.2v1.2h-1.2zM452.2 36.3h1.2v1.2h-1.2zM451.3 55.7h1.2v1.2h-1.2zM446.0 48.5h1.2v1.2h-1.2zM447.4 39.5h1.2v1.2h-1.2zM448.0 59.0h1.2v1.2h-1.2zM454.4 47.9h1.2v1.2h-1.2zM450.6 49.2h1.2v1.2h-1.2zM452.4 49.7h1.2v1.2h-1.2zM454.4 37.8h1.2v1.2h-1.2zM450.3 47.3h1.2v1.2h-1.2zM448.1 52.7h1.2v1.2h-1.2zM449.7 45.7h1.2v1.2h-1.2zM446.3 45.7h1.2v1.2h-1.2zM445.9 48.5h1.2v1.2h-1.2zM457.5 56.7h1.2v1.2h-1.2zM453.1 36.4h1.2v1.2h-1.2zM456.0 56.1h1.2v1.2h-1.2zM451.1 45.2h1.2v1.2h-1.2zM456.3 38.8h1.2v1.2h-1.2zM449.1 68.0h1.2v1.2h-1.2zM455.9 31.0h1.2v1.2h-1.2zM451.1 59.8h1.2v1.2h-1.2zM448.0 53.2h1.2v1.2h-1.2zM451.5 35.6h1.2v1.2h-1.2zM447.9 57.8h1.2v1.2h-1.2zM456.8 42.9h1.2v1.2h-1.2zM456.5 42.0h1.2v1.2h-1.2zM452.2 47.9h1.2v1.2h-1.2zM444.9 50.8h1.2v1.2h-1.2zM446.9 40.8h1.2v1.2h-1.2zM446.9 39.7h1.2v1.2h-1.2zM455.4 48.7h1.2v1.2h-1.2zM452.3 45.8h1.2v1.2h-1.2zM451.3 45.8h1.2v1.2h-1.2zM445.6 35.0h1.2v1.2h-1.2zM451.4 56.8h1.2v1.2h-1.2zM452.2 61.9h1.2v1.2h-1.2zM444.3 45.8h1.2v1.2h-1.2zM448.0 58.6h1.2v1.2h-1.2zM459.3 43.6h1.2v1.2h-1.2zM454.6 46.0h1.2v1.2h-1.2zM446.1 47.1h1.2v1.2h-1.2zM445.9 61.4h1.2v1.2h-1.2zM453.9 58.3h1.2v1.2h-1.2zM454.9 48.8h1.2v1.2h-1.2zM456.0 62.7h1.2v1.2h-1.2zM446.0 54.8h1.2v1.2h-1.2zM452.6 46.6h1.2v1.2h-1.2zM449.6 52.6h1.2v1.2h-1.2zM453.8 53.7h1.2v1.2h-1.2zM449.0 36.7h1.2v1.2h-1.2zM457.5 59.2h1.2v1.2h-1.2zM448.2 47.8h1.2v1.2h-1.2zM455.0 32.9h1.2v1.2h-1.2zM453.5 68.9h1.2v1.2h-1.2zM452.3 42.0h1.2v1.2h-1.2zM461.0 48.1h1.2v1.2h-1.2zM452.0 44.4h1.2v1.2h-1.2zM451.9 32.6h1.2v1.2h-1.2zM444.7 35.3h1.2v1.2h-1.2zM455.4 47.2h1.2v1.2h-1.2zM448.1 60.6h1.2v1.2h-1.2zM447.1 32.0h1.2v1.2h-1.2zM447.3 45.1h1.2v1.2h-1.2zM450.9 59.3h1.2v1.2h-1.2zM457.5 61.4h1.2v1.2h-1.2zM453.9 43.7h1.2v1.2h-1.2zM448.6 35.3h1.2v1.2h-1.2zM457.3 58.8h1.2v1.2h-1.2zM451.4 40.3h1.2v1.2h-1.2zM454.3 52.2h1.2v1.2h-1.2zM451.8 38.0h1.2v1.2h-1.2zM452.2 43.1h1.2v1.2h-1.2zM454.6 53.2h1.2v1.2h-1.2zM453.2 44.3h1.2v1.2h-1.2zM458.5 54.7h1.2v1.2h-1.2zM457.2 55.3h1.2v1.2h-1.2zM454.3 51.4h1.2v1.2h-1.2zM445.7 32.3h1.2v1.2h-1.2zM446.4 53.3h1.2v1.2h-1.2zM455.5 49.6h1.2v1.2h-1.2zM451.4 63.8h1.2v1.2h-1.2zM449.0 32.6h1.2v1.2h-1.2zM443.4 45.2h1.2v1.2h-1.2zM454.4 54.4h1.2v1.2h-1.2zM449.9 55.1h1.2v1.2h-1.2zM450.8 41.8h1.2v1.2h-1.2zM449.1 54.5h1.2v1.2h-1.2zM455.7 38.3h1.2v1.2h-1.2zM446.1 49.1h1.2v1.2h-1.2zM461.4 37.9h1.2v1.2h-1.2zM444.9 51.6h1.2v1.2h-1.2zM453.5 42.7h1.2v1.2h-1.2zM450.9 52.2h1.2v1.2h-1.2zM453.9 56.0h1.2v1.2h-1.2zM456.7 47.4h1.2v1.2h-1.2zM443.9 59.6h1.2v1.2h-1.2zM454.8 42.5h1.2v1.2h-1.2zM456.1 57.0h1.2v1.2h-1.2zM448.7 41.5h1.2v1.2h-1.2zM446.9 47.3h1.2v1.2h-1.2zM445.7 51.4h1.2v1.2h-1.2zM460.3 37.7h1.2v1.2h-1.2zM456.1 43.4h1.2v1.2h-1.2zM453.7 46.9h1.2v1.2h-1.2zM457.3 41.9h1.2v1.2h-1.2zM454.6 41.3h1.2v1.2h-1.2zM452.1 47.9h1.2v1.2h-1.2zM456.3 34.4h1.2v1.2h-1.2zM444.4 60.0h1.2v1.2h-1.2zM452.9 62.6h1.2v1.2h-1.2zM446.0 49.8h1.2v1.2h-1.2zM454.0 63.2h1.2v1.2h-1.2zM450.7 44.1h1.2v1.2h-1.2zM454.5 47.1h1.2v1.2h-1.2zM447.3 54.6h1.2v1.2h-1.2zM457.7 43.7h1.2v1.2h-1.2zM449.4 51.2h1.2v1.2h-1.2zM413.4 71.3h1.2v1.2h-1.2zM405.2 66.6h1.2v1.2h-1.2zM413.1 68.5h1.2v1.2h-1.2zM406.5 72.8h1.2v1.2h-1.2zM404.8 66.0h1.2v1.2h-1.2zM406.3 70.5h1.2v1.2h-1.2zM407.1 73.8h1.2v1.2h-1.2zM406.5 67.8h1.2v1.2h-1.2zM411.2 69.9h1.2v1.2h-1.2zM405.0 75.5h1.2v1.2h-1.2zM411.3 66.9h1.2v1.2h-1.2zM409.8 64.2h1.2v1.2h-1.2zM404.2 67.7h1.2v1.2h-1.2zM410.4 69.4h1.2v1.2h-1.2zM406.0 63.0h1.2v1.2h-1.2zM402.4 75.9h1.2v1.2h-1.2zM410.4 65.5h1.2v1.2h-1.2zM413.6 71.3h1.2v1.2h-1.2zM407.4 66.4h1.2v1.2h-1.2zM413.4 70.4h1.2v1.2h-1.2zM415.4 70.6h1.2v1.2h-1.2zM406.7 66.4h1.2v1.2h-1.2zM406.3 70.1h1.2v1.2h-1.2zM410.0 71.6h1.2v1.2h-1.2zM410.8 64.5h1.2v1.2h-1.2zM408.2 64.9h1.2v1.2h-1.2zM410.9 63.3h1.2v1.2h-1.2zM406.7 65.3h1.2v1.2h-1.2zM406.6 67.9h1.2v1.2h-1.2zM414.9 67.9h1.2v1.2h-1.2zM403.4 67.7h1.2v1.2h-1.2zM411.9 71.4h1.2v1.2h-1.2zM413.3 69.4h1.2v1.2h-1.2zM413.7 63.2h1.2v1.2h-1.2zM408.3 65.3h1.2v1.2h-1.2zM409.7 76.0h1.2v1.2h-1.2zM407.1 75.9h1.2v1.2h-1.2zM405.0 75.2h1.2v1.2h-1.2zM402.4 65.3h1.2v1.2h-1.2zM412.9 68.6h1.2v1.2h-1.2zM409.6 68.9h1.2v1.2h-1.2zM409.7 68.2h1.2v1.2h-1.2zM405.2 67.7h1.2v1.2h-1.2zM409.4 65.1h1.2v1.2h-1.2zM402.6 66.7h1.2v1.2h-1.2zM407.9 69.1h1.2v1.2h-1.2zM409.4 65.9h1.2v1.2h-1.2zM408.9 69.0h1.2v1.2h-1.2zM408.7 75.7h1.2v1.2h-1.2zM409.5 62.6h1.2v1.2h-1.2zM402.9 71.6h1.2v1.2h-1.2zM407.7 66.3h1.2v1.2h-1.2zM403.7 67.7h1.2v1.2h-1.2zM408.6 66.0h1.2v1.2h-1.2zM407.6 72.8h1.2v1.2h-1.2zM412.1 71.4h1.2v1.2h-1.2zM408.3 63.1h1.2v1.2h-1.2zM412.0 75.5h1.2v1.2h-1.2zM414.0 74.0h1.2v1.2h-1.2zM410.1 70.6h1.2v1.2h-1.2zM408.9 74.4h1.2v1.2h-1.2zM412.0 67.6h1.2v1.2h-1.2zM409.0 62.1h1.2v1.2h-1.2zM406.2 67.7h1.2v1.2h-1.2zM418.5 65.5h1.2v1.2h-1.2zM412.6 69.3h1.2v1.2h-1.2zM407.9 71.7h1.2v1.2h-1.2zM416.5 70.3h1.2v1.2h-1.2zM408.8 69.7h1.2v1.2h-1.2zM411.6 66.9h1.2v1.2h-1.2zM409.5 71.2h1.2v1.2h-1.2zM407.6 70.7h1.2v1.2h-1.2zM410.3 72.1h1.2v1.2h-1.2zM405.2 66.7h1.2v1.2h-1.2zM407.3 74.2h1.2v1.2h-1.2zM410.0 61.9h1.2v1.2h-1.2zM410.3 63.4h1.2v1.2h-1.2zM405.5 69.6h1.2v1.2h-1.2zM414.5 76.0h1.2v1.2h-1.2zM407.6 67.7h1.2v1.2h-1.2zM416.5 64.8h1.2v1.2h-1.2zM415.1 70.5h1.2v1.2h-1.2zM409.4 74.6h1.2v1.2h-1.2zM433.7 63.4h1.2v1.2h-1.2zM420.9 70.0h1.2v1.2h-1.2zM409.3 69.2h1.2v1.2h-1.2zM409.1 70.9h1.2v1.2h-1.2zM403.6 61.8h1.2v1.2h-1.2zM406.5 59.1h1.2v1.2h-1.2zM422.1 59.7h1.2v1.2h-1.2zM432.2 58.0h1.2v1.2h-1.2zM425.7 74.1h1.2v1.2h-1.2z" fill="#000"/>
<path d="M398.3 77.2H401.5M401.5 77.2V81.4M399.7 72.9H401.5M407.1 77.2V79.4M399.7 70.4H401.5M410.4 77.2V79.4M399.7 68.6H401.5M412.7 77.2V79.4M399.7 67.2H401.5M414.5 77.2V79.4M399.7 66.0H401.5M416.0 77.2V79.4M399.7 65.1H401.5M417.2 77.2V79.4M399.7 64.2H401.5M418.3 77.2V79.4M399.7 63.5H401.5M419.3 77.2V79.4M398.3 62.9H401.5M420.1 77.2V81.4M399.7 58.5H401.5M425.7 77.2V79.4M399.7 56.0H401.5M429.0 77.2V79.4M399.7 54.2H401.5M431.3 77.2V79.4M399.7 52.8H401.5M433.1 77.2V79.4M399.7 51.7H401.5M434.6 77.2V79.4M399.7 50.7H401.5M435.9 77.2V79.4M399.7 49.9H401.5M436.9 77.2V79.4M399.7 49.2H401.5M437.9 77.2V79.4M398.3 48.5H401.5M438.8 77.2V81.4M399.7 44.2H401.5M444.4 77.2V79.4M399.7 41.7H401.5M447.6 77.2V79.4M399.7 39.9H401.5M450.0 77.2V79.4M399.7 38.5H401.5M451.8 77.2V79.4M399.7 37.3H401.5M453.2 77.2V79.4M399.7 36.4H401.5M454.5 77.2V79.4M399.7 35.5H401.5M455.6 77.2V79.4M399.7 34.8H401.5M456.5 77.2V79.4M398.3 34.1H401.5M457.4 77.2V81.4M399.7 29.8H401.5M463.0 77.2V79.4M399.7 27.3H401.5M466.3 77.2V79.4M399.7 25.5H401.5M468.6 77.2V79.4M399.7 24.1H401.5M470.4 77.2V79.4M399.7 23.0H401.5M471.9 77.2V79.4M399.7 22.0H401.5M473.1 77.2V79.4M399.7 21.2H401.5M474.2 77.2V79.4M399.7 20.5H401.5M475.1 77.2V79.4M398.3 19.8H401.5M476.0 77.2V81.4" stroke="#000" stroke-width="0.9" fill="none"/>
<rect x="401.5" y="19.8" width="74.5" height="57.4" fill="none" stroke="#000" stroke-width="1.5"/>
<rect x="401.5" y="25.6" width="28.4" height="21.5" fill="none" stroke="#000" stroke-width="1.5"/>
<rect x="442.1" y="28.1" width="27.4" height="49.1" fill="none" stroke="#000" stroke-width="1.5"/>
<rect x="213.90" y="95.70" width="3.00" height="1.3" fill="#000"/>
<rect x="253.80" y="95.50" width="3.30" height="1.3" fill="#000"/>
<text x="197.2" y="102.6" font-size="14.3" font-family="Liberation Serif">α</text>
<text x="205.4" y="107.1" font-size="10.2">E</text>
<text x="218.6" y="102.6" font-size="13.2">CD25</text>
<rect x="317.50" y="95.70" width="3.00" height="1.3" fill="#000"/>
<text x="300.8" y="102.6" font-size="14.3" font-family="Liberation Serif">α</text>
<text x="309.0" y="107.1" font-size="10.2">E</text>
<text x="322.2" y="102.6" font-size="13.2">CD25</text>
<text x="356.3" y="99.9" font-size="12.0">+</text>
<text x="425.8" y="102.6" font-size="15.4" font-family="Liberation Serif">α</text>
<text x="435.2" y="106.8" font-size="11.0">E</text>
<text x="442.6" y="99.6" font-size="12.0">+</text>
<text x="2.6" y="137.0" font-size="24.5" text-anchor="start" font-weight="bold" >B</text>
<rect x="47.7" y="140.8" width="327.3" height="227.8" fill="none" stroke="#000" stroke-width="1.3"/>
<text x="41.2" y="146.1" font-size="12" text-anchor="end" font-weight="normal" >3.0</text>
<text x="41.2" y="202.7" font-size="12" text-anchor="end" font-weight="normal" >2.6</text>
<text x="41.2" y="259.3" font-size="12" text-anchor="end" font-weight="normal" >2.2</text>
<text x="41.2" y="315.9" font-size="12" text-anchor="end" font-weight="normal" >1.8</text>
<text x="41.2" y="372.5" font-size="12" text-anchor="end" font-weight="normal" >1.4</text>
<text x="47.7" y="383.6" font-size="12" text-anchor="middle" font-weight="normal" >0</text>
<text x="102.3" y="383.6" font-size="12" text-anchor="middle" font-weight="normal" >50</text>
<text x="156.9" y="383.6" font-size="12" text-anchor="middle" font-weight="normal" >100</text>
<text x="211.5" y="383.6" font-size="12" text-anchor="middle" font-weight="normal" >150</text>
<text x="266.0" y="383.6" font-size="12" text-anchor="middle" font-weight="normal" >200</text>
<text x="320.6" y="383.6" font-size="12" text-anchor="middle" font-weight="normal" >250</text>
<text x="375.2" y="383.6" font-size="12" text-anchor="middle" font-weight="normal" >300</text>
<text x="203.5" y="399.9" font-size="14" text-anchor="middle" font-weight="normal" >time (h)</text>
<text transform="translate(14.3,251.4) rotate(-90)" font-size="14.5" text-anchor="middle">footpad thickness (mm)</text>
<path d="M47.7 318.6V352.0M45.1 318.6h5.2M45.1 352.0h5.2" stroke="#000" stroke-width="1.4" fill="none"/>
<path d="M71.2 152.0V180.3M68.3 152.0h5.8" stroke="#000" stroke-width="1.8" fill="none"/>
<path d="M71.2 306.0V328.0M68.6 306.0h5.2M68.6 328.0h5.2" stroke="#000" stroke-width="1.4" fill="none"/>
<path d="M81.3 157.0V184.0M78.4 157.0h5.8" stroke="#000" stroke-width="1.8" fill="none"/>
<path d="M81.3 152.6V175.3M78.4 152.6h5.8" stroke="#000" stroke-width="1.8" fill="none"/>
<path d="M81.3 289.0V335.6M78.7 289.0h5.2M78.7 335.6h5.2" stroke="#000" stroke-width="1.4" fill="none"/>
<path d="M97.3 175.3V203.6M94.4 175.3h5.8" stroke="#000" stroke-width="1.8" fill="none"/>
<path d="M97.3 312.7V342.0M94.7 312.7h5.2M94.7 342.0h5.2" stroke="#000" stroke-width="1.4" fill="none"/>
<path d="M106.2 221.5V254.5M103.3 221.5h5.8" stroke="#000" stroke-width="1.8" fill="none"/>
<path d="M106.2 323.2V347.5M103.6 323.2h5.2M103.6 347.5h5.2" stroke="#000" stroke-width="1.4" fill="none"/>
<path d="M122.7 196.5V224.5M119.8 196.5h5.8" stroke="#000" stroke-width="1.8" fill="none"/>
<path d="M122.7 211.8V229.8M119.8 211.8h5.8" stroke="#000" stroke-width="1.8" fill="none"/>
<path d="M122.7 259.4V272.0M119.8 259.4h5.8" stroke="#000" stroke-width="1.8" fill="none"/>
<path d="M122.7 320.0V345.6M120.1 320.0h5.2M120.1 345.6h5.2" stroke="#000" stroke-width="1.4" fill="none"/>
<path d="M130.4 212.0V232.0M127.5 212.0h5.8" stroke="#000" stroke-width="1.8" fill="none"/>
<path d="M130.4 267.6V278.0M127.5 267.6h5.8" stroke="#000" stroke-width="1.8" fill="none"/>
<path d="M130.4 325.4V343.7M127.8 325.4h5.2M127.8 343.7h5.2" stroke="#000" stroke-width="1.4" fill="none"/>
<path d="M148.0 186.7V214.5M145.1 186.7h5.8" stroke="#000" stroke-width="1.8" fill="none"/>
<path d="M148.0 253.5V271.6M145.1 253.5h5.8" stroke="#000" stroke-width="1.8" fill="none"/>
<path d="M148.0 312.7V351.8M145.4 312.7h5.2M145.4 351.8h5.2" stroke="#000" stroke-width="1.4" fill="none"/>
<path d="M156.3 202.0V259.7M153.4 202.0h5.8" stroke="#000" stroke-width="1.8" fill="none"/>
<path d="M156.3 328.0V353.7M153.7 328.0h5.2M153.7 353.7h5.2" stroke="#000" stroke-width="1.4" fill="none"/>
<path d="M175.2 182.7V210.5M172.3 182.7h5.8" stroke="#000" stroke-width="1.8" fill="none"/>
<path d="M175.2 257.8V273.4M172.3 257.8h5.8" stroke="#000" stroke-width="1.8" fill="none"/>
<path d="M175.2 330.0V349.6M172.6 330.0h5.2M172.6 349.6h5.2" stroke="#000" stroke-width="1.4" fill="none"/>
<path d="M182.3 158.3V186.5M179.4 158.3h5.8" stroke="#000" stroke-width="1.8" fill="none"/>
<path d="M182.3 254.5V278.0M179.4 254.5h5.8" stroke="#000" stroke-width="1.8" fill="none"/>
<path d="M182.3 318.7V340.0M179.7 318.7h5.2M179.7 340.0h5.2" stroke="#000" stroke-width="1.4" fill="none"/>
<path d="M202.8 189.0V217.5M199.9 189.0h5.8" stroke="#000" stroke-width="1.8" fill="none"/>
<path d="M202.8 265.3V288.0M199.9 265.3h5.8" stroke="#000" stroke-width="1.8" fill="none"/>
<path d="M202.8 325.8V345.8M200.2 325.8h5.2M200.2 345.8h5.2" stroke="#000" stroke-width="1.4" fill="none"/>
<path d="M230.1 213.0V241.5M227.2 213.0h5.8" stroke="#000" stroke-width="1.8" fill="none"/>
<path d="M230.1 281.0V296.0M227.2 281.0h5.8" stroke="#000" stroke-width="1.8" fill="none"/>
<path d="M230.1 324.2V346.0M227.5 324.2h5.2M227.5 346.0h5.2" stroke="#000" stroke-width="1.4" fill="none"/>
<path d="M258.4 224.7V253.0M255.5 224.7h5.8" stroke="#000" stroke-width="1.8" fill="none"/>
<path d="M258.4 298.0V306.0M255.5 298.0h5.8" stroke="#000" stroke-width="1.8" fill="none"/>
<path d="M258.4 331.0V350.4M255.8 331.0h5.2M255.8 350.4h5.2" stroke="#000" stroke-width="1.4" fill="none"/>
<path d="M282.4 214.8V244.0M279.5 214.8h5.8" stroke="#000" stroke-width="1.8" fill="none"/>
<path d="M282.4 258.6V281.0M279.5 258.6h5.8" stroke="#000" stroke-width="1.8" fill="none"/>
<path d="M282.4 299.6V310.5M279.5 299.6h5.8" stroke="#000" stroke-width="1.8" fill="none"/>
<path d="M306.8 248.8V276.0M303.9 248.8h5.8" stroke="#000" stroke-width="1.8" fill="none"/>
<path d="M306.8 267.8V283.0M303.9 267.8h5.8" stroke="#000" stroke-width="1.8" fill="none"/>
<path d="M306.8 309.8V323.3M303.9 309.8h5.8" stroke="#000" stroke-width="1.8" fill="none"/>
<path d="M306.8 325.0V351.0M304.2 325.0h5.2M304.2 351.0h5.2" stroke="#000" stroke-width="1.4" fill="none"/>
<path d="M337.0 251.0V279.0M334.1 251.0h5.8" stroke="#000" stroke-width="1.8" fill="none"/>
<path d="M337.0 325.8V352.0M334.4 325.8h5.2M334.4 352.0h5.2" stroke="#000" stroke-width="1.4" fill="none"/>
<polyline points="47.7,344.7 71.2,310.0 81.3,318.7 97.3,322.8 106.2,337.6 122.7,327.7 130.4,330.2 148.0,317.0 156.3,338.5 175.2,338.5 182.3,331.5 202.8,336.2 230.1,335.0 258.4,335.4 282.4,332.7 306.8,332.2 337.0,333.2" fill="none" stroke="#000" stroke-width="4.6" stroke-linejoin="round"/>
<polyline points="47.7,351.5 71.2,323.0 81.3,324.8 97.3,334.4 106.2,339.7 122.7,334.4 130.4,335.0 148.0,335.0 156.3,338.5 175.2,339.6 182.3,326.9 202.8,333.8 230.1,344.2 258.4,333.2 282.4,324.6 306.8,332.2 337.0,331.4" fill="none" stroke="#000" stroke-width="4.6" stroke-linejoin="round"/>
<polyline points="47.7,351.5 71.2,318.0 81.3,312.4 97.3,330.0 106.2,342.0 122.7,333.0 130.4,336.0 148.0,333.0 156.3,344.2 175.2,339.6 182.3,335.0 202.8,337.0 230.1,338.0 258.4,343.5 282.4,334.0 306.8,336.7 337.0,340.2" fill="none" stroke="#000" stroke-width="4.6" stroke-linejoin="round"/>
<polyline points="47.7,344.7 71.2,310.0 81.3,318.7 97.3,322.8 106.2,337.6 122.7,327.7 130.4,330.2 148.0,317.0 156.3,338.5 175.2,338.5 182.3,331.5 202.8,336.2 230.1,335.0 258.4,335.4 282.4,332.7 306.8,332.2 337.0,333.2" fill="none" stroke="#fff" stroke-width="1.3" stroke-linejoin="round"/>
<polyline points="47.7,351.5 71.2,323.0 81.3,324.8 97.3,334.4 106.2,339.7 122.7,334.4 130.4,335.0 148.0,335.0 156.3,338.5 175.2,339.6 182.3,326.9 202.8,333.8 230.1,344.2 258.4,333.2 282.4,324.6 306.8,332.2 337.0,331.4" fill="none" stroke="#fff" stroke-width="1.3" stroke-linejoin="round"/>
<polyline points="47.7,351.5 71.2,318.0 81.3,312.4 97.3,330.0 106.2,342.0 122.7,333.0 130.4,336.0 148.0,333.0 156.3,344.2 175.2,339.6 182.3,335.0 202.8,337.0 230.1,338.0 258.4,343.5 282.4,334.0 306.8,336.7 337.0,340.2" fill="none" stroke="#fff" stroke-width="1.3" stroke-linejoin="round"/>
<polyline points="47.7,348.0 71.2,180.3 81.3,184.0 97.3,203.6 106.2,254.5 122.7,224.5 130.4,232.0 148.0,214.5 156.3,229.0 175.2,210.5 182.3,186.5 202.8,217.5 230.1,241.5 258.4,253.0 282.4,244.0 306.8,276.0 337.0,279.0" fill="none" stroke="#000" stroke-width="2.2" stroke-linejoin="round"/>
<polyline points="47.7,352.0 71.2,198.0 81.3,175.3 97.3,215.2 106.2,241.0 122.7,229.8 130.4,243.2 148.0,239.7 156.3,235.0 175.2,240.2 182.3,223.0 202.8,243.2 230.1,268.7 258.4,269.3 282.4,281.0 306.8,283.0 337.0,302.4" fill="none" stroke="#000" stroke-width="2.2" stroke-linejoin="round"/>
<polyline points="47.7,358.5 71.2,224.0 81.3,195.5 97.3,228.0 106.2,269.0 122.7,272.0 130.4,278.0 148.0,271.6 156.3,259.7 175.2,273.4 182.3,278.0 202.8,288.0 230.1,296.0 258.4,306.0 282.4,310.5 306.8,323.3 337.0,330.5" fill="none" stroke="#000" stroke-width="2.2" stroke-linejoin="round"/>
<polygon points="71.2,313.4 75.8,321.7 66.6,321.7" fill="#fff" stroke="#000" stroke-width="1.6"/>
<circle cx="71.2" cy="323.0" r="4.2" fill="#fff" stroke="#000" stroke-width="1.6"/>
<polygon points="71.2,305.4 75.8,310.0 71.2,314.6 66.6,310.0" fill="#fff" stroke="#000" stroke-width="1.6"/>
<polygon points="81.3,307.8 85.9,316.1 76.7,316.1" fill="#fff" stroke="#000" stroke-width="1.6"/>
<circle cx="81.3" cy="324.8" r="4.2" fill="#fff" stroke="#000" stroke-width="1.6"/>
<polygon points="81.3,314.1 85.9,318.7 81.3,323.3 76.7,318.7" fill="#fff" stroke="#000" stroke-width="1.6"/>
<polygon points="97.3,325.4 101.9,333.7 92.7,333.7" fill="#fff" stroke="#000" stroke-width="1.6"/>
<circle cx="97.3" cy="334.4" r="4.2" fill="#fff" stroke="#000" stroke-width="1.6"/>
<polygon points="97.3,318.2 101.9,322.8 97.3,327.4 92.7,322.8" fill="#fff" stroke="#000" stroke-width="1.6"/>
<polygon points="106.2,337.4 110.8,345.7 101.6,345.7" fill="#fff" stroke="#000" stroke-width="1.6"/>
<circle cx="106.2" cy="339.7" r="4.2" fill="#fff" stroke="#000" stroke-width="1.6"/>
<polygon points="106.2,333.0 110.8,337.6 106.2,342.2 101.6,337.6" fill="#fff" stroke="#000" stroke-width="1.6"/>
<polygon points="122.7,328.4 127.3,336.7 118.1,336.7" fill="#fff" stroke="#000" stroke-width="1.6"/>
<circle cx="122.7" cy="334.4" r="4.2" fill="#fff" stroke="#000" stroke-width="1.6"/>
<polygon points="122.7,323.1 127.3,327.7 122.7,332.3 118.1,327.7" fill="#fff" stroke="#000" stroke-width="1.6"/>
<polygon points="130.4,331.4 135.0,339.7 125.8,339.7" fill="#fff" stroke="#000" stroke-width="1.6"/>
<circle cx="130.4" cy="335.0" r="4.2" fill="#fff" stroke="#000" stroke-width="1.6"/>
<polygon points="130.4,325.6 135.0,330.2 130.4,334.8 125.8,330.2" fill="#fff" stroke="#000" stroke-width="1.6"/>
<polygon points="148.0,328.4 152.6,336.7 143.4,336.7" fill="#fff" stroke="#000" stroke-width="1.6"/>
<circle cx="148.0" cy="335.0" r="4.2" fill="#fff" stroke="#000" stroke-width="1.6"/>
<polygon points="148.0,312.4 152.6,317.0 148.0,321.6 143.4,317.0" fill="#fff" stroke="#000" stroke-width="1.6"/>
<polygon points="156.3,339.6 160.9,347.9 151.7,347.9" fill="#fff" stroke="#000" stroke-width="1.6"/>
<circle cx="156.3" cy="338.5" r="4.2" fill="#fff" stroke="#000" stroke-width="1.6"/>
<polygon points="156.3,333.9 160.9,338.5 156.3,343.1 151.7,338.5" fill="#fff" stroke="#000" stroke-width="1.6"/>
<polygon points="175.2,335.0 179.8,343.3 170.6,343.3" fill="#fff" stroke="#000" stroke-width="1.6"/>
<circle cx="175.2" cy="339.6" r="4.2" fill="#fff" stroke="#000" stroke-width="1.6"/>
<polygon points="175.2,333.9 179.8,338.5 175.2,343.1 170.6,338.5" fill="#fff" stroke="#000" stroke-width="1.6"/>
<polygon points="182.3,330.4 186.9,338.7 177.7,338.7" fill="#fff" stroke="#000" stroke-width="1.6"/>
<circle cx="182.3" cy="326.9" r="4.2" fill="#fff" stroke="#000" stroke-width="1.6"/>
<polygon points="182.3,326.9 186.9,331.5 182.3,336.1 177.7,331.5" fill="#fff" stroke="#000" stroke-width="1.6"/>
<polygon points="202.8,332.4 207.4,340.7 198.2,340.7" fill="#fff" stroke="#000" stroke-width="1.6"/>
<circle cx="202.8" cy="333.8" r="4.2" fill="#fff" stroke="#000" stroke-width="1.6"/>
<polygon points="202.8,331.6 207.4,336.2 202.8,340.8 198.2,336.2" fill="#fff" stroke="#000" stroke-width="1.6"/>
<polygon points="230.1,333.4 234.7,341.7 225.5,341.7" fill="#fff" stroke="#000" stroke-width="1.6"/>
<circle cx="230.1" cy="344.2" r="4.2" fill="#fff" stroke="#000" stroke-width="1.6"/>
<polygon points="230.1,330.4 234.7,335.0 230.1,339.6 225.5,335.0" fill="#fff" stroke="#000" stroke-width="1.6"/>
<polygon points="258.4,338.9 263.0,347.2 253.8,347.2" fill="#fff" stroke="#000" stroke-width="1.6"/>
<circle cx="258.4" cy="333.2" r="4.2" fill="#fff" stroke="#000" stroke-width="1.6"/>
<polygon points="258.4,330.8 263.0,335.4 258.4,340.0 253.8,335.4" fill="#fff" stroke="#000" stroke-width="1.6"/>
<polygon points="282.4,329.4 287.0,337.7 277.8,337.7" fill="#fff" stroke="#000" stroke-width="1.6"/>
<circle cx="282.4" cy="324.6" r="4.2" fill="#fff" stroke="#000" stroke-width="1.6"/>
<polygon points="282.4,328.1 287.0,332.7 282.4,337.3 277.8,332.7" fill="#fff" stroke="#000" stroke-width="1.6"/>
<polygon points="306.8,332.1 311.4,340.4 302.2,340.4" fill="#fff" stroke="#000" stroke-width="1.6"/>
<circle cx="306.8" cy="332.2" r="4.2" fill="#fff" stroke="#000" stroke-width="1.6"/>
<polygon points="306.8,327.6 311.4,332.2 306.8,336.8 302.2,332.2" fill="#fff" stroke="#000" stroke-width="1.6"/>
<polygon points="47.7,354.0 52.2,362.1 43.2,362.1" fill="#000" stroke="#000" stroke-width="1.6"/>
<circle cx="47.7" cy="352.0" r="4.8" fill="#000" stroke="#000" stroke-width="1.6"/>
<polygon points="47.7,343.3 52.4,348.0 47.7,352.7 43.0,348.0" fill="#000" stroke="#000" stroke-width="1.6"/>
<polygon points="71.2,219.5 75.7,227.6 66.7,227.6" fill="#000" stroke="#000" stroke-width="1.6"/>
<circle cx="71.2" cy="198.0" r="4.8" fill="#000" stroke="#000" stroke-width="1.6"/>
<polygon points="71.2,175.6 75.9,180.3 71.2,185.0 66.5,180.3" fill="#000" stroke="#000" stroke-width="1.6"/>
<polygon points="81.3,191.0 85.8,199.1 76.8,199.1" fill="#000" stroke="#000" stroke-width="1.6"/>
<circle cx="81.3" cy="175.3" r="4.8" fill="#000" stroke="#000" stroke-width="1.6"/>
<polygon points="81.3,179.3 86.0,184.0 81.3,188.7 76.6,184.0" fill="#000" stroke="#000" stroke-width="1.6"/>
<polygon points="97.3,223.5 101.8,231.6 92.8,231.6" fill="#000" stroke="#000" stroke-width="1.6"/>
<circle cx="97.3" cy="215.2" r="4.8" fill="#000" stroke="#000" stroke-width="1.6"/>
<polygon points="97.3,198.9 102.0,203.6 97.3,208.3 92.6,203.6" fill="#000" stroke="#000" stroke-width="1.6"/>
<polygon points="106.2,264.5 110.7,272.6 101.7,272.6" fill="#000" stroke="#000" stroke-width="1.6"/>
<circle cx="106.2" cy="241.0" r="4.8" fill="#000" stroke="#000" stroke-width="1.6"/>
<polygon points="106.2,249.8 110.9,254.5 106.2,259.2 101.5,254.5" fill="#000" stroke="#000" stroke-width="1.6"/>
<polygon points="122.7,267.5 127.2,275.6 118.2,275.6" fill="#000" stroke="#000" stroke-width="1.6"/>
<circle cx="122.7" cy="229.8" r="4.8" fill="#000" stroke="#000" stroke-width="1.6"/>
<polygon points="122.7,219.8 127.4,224.5 122.7,229.2 118.0,224.5" fill="#000" stroke="#000" stroke-width="1.6"/>
<polygon points="130.4,273.5 134.9,281.6 125.9,281.6" fill="#000" stroke="#000" stroke-width="1.6"/>
<circle cx="130.4" cy="243.2" r="4.8" fill="#000" stroke="#000" stroke-width="1.6"/>
<polygon points="130.4,227.3 135.1,232.0 130.4,236.7 125.7,232.0" fill="#000" stroke="#000" stroke-width="1.6"/>
<polygon points="148.0,267.1 152.5,275.2 143.5,275.2" fill="#000" stroke="#000" stroke-width="1.6"/>
<circle cx="148.0" cy="239.7" r="4.8" fill="#000" stroke="#000" stroke-width="1.6"/>
<polygon points="148.0,209.8 152.7,214.5 148.0,219.2 143.3,214.5" fill="#000" stroke="#000" stroke-width="1.6"/>
<polygon points="156.3,255.2 160.8,263.3 151.8,263.3" fill="#000" stroke="#000" stroke-width="1.6"/>
<circle cx="156.3" cy="235.0" r="4.8" fill="#000" stroke="#000" stroke-width="1.6"/>
<polygon points="156.3,224.3 161.0,229.0 156.3,233.7 151.6,229.0" fill="#000" stroke="#000" stroke-width="1.6"/>
<polygon points="175.2,268.9 179.7,277.0 170.7,277.0" fill="#000" stroke="#000" stroke-width="1.6"/>
<circle cx="175.2" cy="240.2" r="4.8" fill="#000" stroke="#000" stroke-width="1.6"/>
<polygon points="175.2,205.8 179.9,210.5 175.2,215.2 170.5,210.5" fill="#000" stroke="#000" stroke-width="1.6"/>
<polygon points="182.3,273.5 186.8,281.6 177.8,281.6" fill="#000" stroke="#000" stroke-width="1.6"/>
<circle cx="182.3" cy="223.0" r="4.8" fill="#000" stroke="#000" stroke-width="1.6"/>
<polygon points="182.3,181.8 187.0,186.5 182.3,191.2 177.6,186.5" fill="#000" stroke="#000" stroke-width="1.6"/>
<polygon points="202.8,283.5 207.3,291.6 198.3,291.6" fill="#000" stroke="#000" stroke-width="1.6"/>
<circle cx="202.8" cy="243.2" r="4.8" fill="#000" stroke="#000" stroke-width="1.6"/>
<polygon points="202.8,212.8 207.5,217.5 202.8,222.2 198.1,217.5" fill="#000" stroke="#000" stroke-width="1.6"/>
<polygon points="230.1,291.5 234.6,299.6 225.6,299.6" fill="#000" stroke="#000" stroke-width="1.6"/>
<circle cx="230.1" cy="268.7" r="4.8" fill="#000" stroke="#000" stroke-width="1.6"/>
<polygon points="230.1,236.8 234.8,241.5 230.1,246.2 225.4,241.5" fill="#000" stroke="#000" stroke-width="1.6"/>
<polygon points="258.4,301.5 262.9,309.6 253.9,309.6" fill="#000" stroke="#000" stroke-width="1.6"/>
<circle cx="258.4" cy="269.3" r="4.8" fill="#000" stroke="#000" stroke-width="1.6"/>
<polygon points="258.4,248.3 263.1,253.0 258.4,257.7 253.7,253.0" fill="#000" stroke="#000" stroke-width="1.6"/>
<polygon points="282.4,306.0 286.9,314.1 277.9,314.1" fill="#000" stroke="#000" stroke-width="1.6"/>
<circle cx="282.4" cy="281.0" r="4.8" fill="#000" stroke="#000" stroke-width="1.6"/>
<polygon points="282.4,239.3 287.1,244.0 282.4,248.7 277.7,244.0" fill="#000" stroke="#000" stroke-width="1.6"/>
<polygon points="306.8,318.8 311.3,326.9 302.3,326.9" fill="#000" stroke="#000" stroke-width="1.6"/>
<circle cx="306.8" cy="283.0" r="4.8" fill="#000" stroke="#000" stroke-width="1.6"/>
<polygon points="306.8,271.3 311.5,276.0 306.8,280.7 302.1,276.0" fill="#000" stroke="#000" stroke-width="1.6"/>
<circle cx="337.0" cy="302.4" r="4.8" fill="#000" stroke="#000" stroke-width="1.6"/>
<polygon points="337.0,274.3 341.7,279.0 337.0,283.7 332.3,279.0" fill="#000" stroke="#000" stroke-width="1.6"/>
<polygon points="47.7,346.9 52.3,355.2 43.1,355.2" fill="#fff" stroke="#000" stroke-width="1.6"/>
<circle cx="47.7" cy="351.5" r="4.2" fill="#fff" stroke="#000" stroke-width="1.6"/>
<polygon points="47.7,340.1 52.3,344.7 47.7,349.3 43.1,344.7" fill="#fff" stroke="#000" stroke-width="1.6"/>
<polygon points="337.0,335.6 341.6,343.9 332.4,343.9" fill="#fff" stroke="#000" stroke-width="1.6"/>
<circle cx="337.0" cy="331.4" r="4.2" fill="#fff" stroke="#000" stroke-width="1.6"/>
<polygon points="337.0,328.6 341.6,333.2 337.0,337.8 332.4,333.2" fill="#fff" stroke="#000" stroke-width="1.6"/>
<rect x="298.5" y="126.6" width="217.8" height="113.0" fill="#fff" stroke="#000" stroke-width="1.3"/>
<rect x="323.4" y="131.0" width="146.1" height="85.4" fill="none" stroke="#000" stroke-width="1.1"/>
<line x1="320.9" y1="216.4" x2="323.4" y2="216.4" stroke="#000" stroke-width="0.9"/>
<text x="320.8" y="218.9" font-size="7.2" text-anchor="end" font-weight="normal" >0</text>
<line x1="320.9" y1="173.7" x2="323.4" y2="173.7" stroke="#000" stroke-width="0.9"/>
<text x="320.8" y="176.2" font-size="7.2" text-anchor="end" font-weight="normal" >50</text>
<line x1="320.9" y1="131.0" x2="323.4" y2="131.0" stroke="#000" stroke-width="0.9"/>
<text x="320.8" y="133.5" font-size="7.2" text-anchor="end" font-weight="normal" >100</text>
<line x1="325.8" y1="216.4" x2="325.8" y2="218.4" stroke="#000" stroke-width="0.9"/>
<text x="325.8" y="225.4" font-size="7.2" text-anchor="middle" font-weight="normal" >0</text>
<line x1="398.8" y1="216.4" x2="398.8" y2="218.4" stroke="#000" stroke-width="0.9"/>
<text x="398.8" y="225.4" font-size="7.2" text-anchor="middle" font-weight="normal" >150</text>
<line x1="469.5" y1="216.4" x2="469.5" y2="218.4" stroke="#000" stroke-width="0.9"/>
<text x="469.5" y="225.4" font-size="7.2" text-anchor="middle" font-weight="normal" >300</text>
<text x="393.3" y="235.6" font-size="10" text-anchor="middle" font-weight="normal" >time (h)</text>
<text transform="translate(307.6,174.2) rotate(-90)" font-size="10.2" text-anchor="middle">% suppression</text>
<polyline points="333.4,187.8 338.2,211.1 345.4,198.4 349.7,202.6 355.6,178.3 359.8,180.4 367.2,170.9 371.4,193.1 382,163.5 390,164.25 402.5,166.75 415,161.75 427.5,151.75 440,144.25 451.25,134.25" fill="none" stroke="#3c3c3c" stroke-width="5.6" stroke-linejoin="round" stroke-linecap="round"/>
<polyline points="334.4,205.8 336.5,216.4 341.8,216.4 345.4,208 347.5,216.4 355,216.4 357.3,211.1 359.8,212.1 367.9,197.3 371.4,212.1 381,196.3 390,198 403.75,191.75 417,200 428,181 438,206 452,181" fill="none" stroke="#000" stroke-width="1.9" stroke-linejoin="miter"/>
<text x="399.8" y="146.5" font-size="16.0" font-family="Liberation Serif">α</text>
<text x="409.6" y="150.9" font-size="11.4">E</text>
<text x="417.2" y="143.4" font-size="12.5">+</text>
<rect x="462" y="187" width="52" height="26" fill="#fff"/>
<rect x="467.58" y="196.97" width="3.23" height="1.3" fill="#000"/>
<text x="449.6" y="204.4" font-size="15.4" font-family="Liberation Serif">α</text>
<text x="458.4" y="209.2" font-size="11.0">E</text>
<text x="472.6" y="204.4" font-size="14.2">CD25</text>
<text x="509.4" y="201.5" font-size="12.9">+</text>
<rect x="415.5" y="283.4" width="101.7" height="78.2" fill="none" stroke="#000" stroke-width="1.2"/>
<polygon points="427.2,291.3 431.7,295.8 427.2,300.3 422.7,295.8" fill="#000" stroke="#000" stroke-width="1.6"/>
<circle cx="427.2" cy="322.6" r="4.6" fill="#000" stroke="#000" stroke-width="1.6"/>
<polygon points="427.2,344.4 431.6,352.3 422.8,352.3" fill="#000" stroke="#000" stroke-width="1.6"/>
<rect x="461.70" y="294.30" width="3.00" height="1.3" fill="#000"/>
<rect x="501.60" y="294.10" width="3.30" height="1.3" fill="#000"/>
<text x="445.0" y="301.2" font-size="14.3" font-family="Liberation Serif">α</text>
<text x="453.2" y="305.7" font-size="10.2">E</text>
<text x="466.4" y="301.2" font-size="13.2">CD25</text>
<rect x="461.70" y="320.90" width="3.00" height="1.3" fill="#000"/>
<text x="445.0" y="327.8" font-size="14.3" font-family="Liberation Serif">α</text>
<text x="453.2" y="332.3" font-size="10.2">E</text>
<text x="466.4" y="327.8" font-size="13.2">CD25</text>
<text x="500.5" y="325.1" font-size="12.0">+</text>
<text x="445.0" y="353.0" font-size="15.4" font-family="Liberation Serif">α</text>
<text x="454.4" y="357.2" font-size="11.0">E</text>
<text x="461.8" y="350.0" font-size="12.0">+</text>
<text x="4.0" y="434.8" font-size="24.5" text-anchor="start" font-weight="bold" >C</text>
<path d="M67.0 564.6L67.0 564.2L68.0 563.6L69.0 563.6L70.0 561.0L71.0 559.6L72.0 557.8L73.0 554.7L74.0 552.2L75.1 549.1L76.0 544.7L77.0 537.9L77.8 534.9L79.1 524.9L79.8 523.3L80.5 519.5L81.6 515.3L82.6 520.3L83.9 531.9L85.0 524.4L86.1 518.2L86.8 516.6L87.5 515.7L88.8 520.1L90.0 526.9L90.8 531.2L91.5 535.3L92.2 534.3L93.0 534.9L94.0 533.6L95.0 533.4L95.8 534.8L96.5 537.4L97.5 542.3L98.4 548.1L99.2 547.5L100.0 546.9L100.8 548.3L101.5 547.8L102.2 548.6L103.0 549.5L103.8 551.2L104.5 553.6L105.3 556.5L106.2 553.9L107.0 553.7L107.7 551.6L108.5 551.6L109.2 549.2L110.0 552.4L110.8 553.9L111.8 556.0L112.7 560.7L113.5 562.9L114.3 562.1L115.2 563.7L116.0 562.5L116.7 561.8L117.4 563.3L118.1 563.8L118.9 562.6L119.6 562.2L120.3 563.0L121.0 564.7L121.8 564.3L122.6 562.7L123.4 563.1L124.1 562.9L124.9 562.9L125.7 564.9L126.5 563.4L127.3 564.5L128.2 564.3L129.0 564.6L129.0 564.6Z" fill="#000" stroke="#000" stroke-width="0.6" stroke-linejoin="round"/>
<path d="M32.0 564.6H35.4M33.4 560.9H35.4M33.4 558.8H35.4M33.4 557.3H35.4M33.4 556.1H35.4M33.4 555.1H35.4M33.4 554.3H35.4M33.4 553.6H35.4M33.4 553.0H35.4M32.0 552.4H35.4M33.4 548.7H35.4M33.4 546.6H35.4M33.4 545.1H35.4M33.4 543.9H35.4M33.4 542.9H35.4M33.4 542.1H35.4M33.4 541.4H35.4M33.4 540.8H35.4M32.0 540.2H35.4M33.4 536.5H35.4M33.4 534.4H35.4M33.4 532.9H35.4M33.4 531.7H35.4M33.4 530.7H35.4M33.4 529.9H35.4M33.4 529.2H35.4M33.4 528.6H35.4M32.0 528.0H35.4M33.4 524.3H35.4M33.4 522.2H35.4M33.4 520.7H35.4M33.4 519.5H35.4M33.4 518.5H35.4M33.4 517.7H35.4M33.4 517.0H35.4M33.4 516.4H35.4M32.0 515.8H35.4M33.4 512.1H35.4M33.4 510.0H35.4M33.4 508.5H35.4M33.4 507.3H35.4M33.4 506.3H35.4M33.4 505.5H35.4M33.4 504.8H35.4M33.4 504.2H35.4M32.0 503.6H35.4M33.4 499.9H35.4M35.4 564.6V567.8M42.7 564.6V566.2M47.0 564.6V566.2M50.0 564.6V566.2M52.3 564.6V566.2M54.3 564.6V566.2M55.9 564.6V566.2M57.3 564.6V566.2M58.5 564.6V566.2M59.6 564.6V567.8M66.9 564.6V566.2M71.2 564.6V566.2M74.2 564.6V566.2M76.6 564.6V566.2M78.5 564.6V566.2M80.1 564.6V566.2M81.5 564.6V566.2M82.7 564.6V566.2M83.8 564.6V567.8M91.1 564.6V566.2M95.4 564.6V566.2M98.4 564.6V566.2M100.8 564.6V566.2M102.7 564.6V566.2M104.3 564.6V566.2M105.7 564.6V566.2M107.0 564.6V566.2M108.1 564.6V567.8M115.4 564.6V566.2M119.6 564.6V566.2M122.7 564.6V566.2M125.0 564.6V566.2M126.9 564.6V566.2M128.5 564.6V566.2M130.0 564.6V566.2M131.2 564.6V566.2M132.3 564.6V567.8" stroke="#000" stroke-width="0.9" fill="none"/>
<rect x="35.4" y="498.0" width="96.9" height="66.6" fill="none" stroke="#000" stroke-width="1.3"/>
<text x="37.6" y="513.4" font-size="14.2" text-anchor="start" font-weight="normal" >medium</text>
<path d="M183.5 485.6L183.5 484.8L184.3 480.4L185.5 478.1L186.2 480.4L187.0 480.8L187.8 481.7L188.5 481.7L189.2 482.2L190.0 483.8L190.8 483.7L191.6 482.9L192.4 484.1L193.2 483.0L194.0 483.4L194.8 484.1L195.6 483.6L196.4 482.5L197.2 484.0L198.0 482.5L198.8 482.2L199.6 482.7L200.4 481.6L201.2 481.1L202.1 481.5L203.0 482.3L204.0 481.9L205.0 480.0L206.0 479.6L207.0 478.1L208.0 479.3L209.0 481.3L210.0 479.5L211.0 478.6L212.0 477.7L213.0 474.9L214.0 473.3L215.0 473.0L215.8 474.7L216.5 475.5L217.5 476.4L218.5 478.4L219.5 472.8L220.3 459.5L221.2 446.8L222.2 436.7L223.2 432.7L224.2 433.4L225.2 440.3L226.2 454.2L227.2 466.8L228.3 474.5L229.2 481.9L230.1 481.8L231.0 483.6L231.7 483.3L232.4 482.9L233.1 482.8L233.9 484.0L234.6 482.9L235.3 483.4L236.0 484.1L236.8 484.7L237.5 484.4L238.2 483.9L239.0 485.2L239.8 484.0L240.5 483.7L241.2 484.3L242.0 484.7L242.8 484.1L243.5 484.4L244.2 484.8L245.0 485.3L245.8 484.6L246.5 485.3L246.5 485.6Z" fill="#000" stroke="#000" stroke-width="0.6" stroke-linejoin="round"/>
<path d="M148.1 485.6H151.5M149.5 481.9H151.5M149.5 479.8H151.5M149.5 478.3H151.5M149.5 477.1H151.5M149.5 476.1H151.5M149.5 475.3H151.5M149.5 474.6H151.5M149.5 474.0H151.5M148.1 473.4H151.5M149.5 469.7H151.5M149.5 467.6H151.5M149.5 466.1H151.5M149.5 464.9H151.5M149.5 463.9H151.5M149.5 463.1H151.5M149.5 462.4H151.5M149.5 461.8H151.5M148.1 461.2H151.5M149.5 457.5H151.5M149.5 455.4H151.5M149.5 453.9H151.5M149.5 452.7H151.5M149.5 451.7H151.5M149.5 450.9H151.5M149.5 450.2H151.5M149.5 449.6H151.5M148.1 449.0H151.5M149.5 445.3H151.5M149.5 443.2H151.5M149.5 441.7H151.5M149.5 440.5H151.5M149.5 439.5H151.5M149.5 438.7H151.5M149.5 438.0H151.5M149.5 437.4H151.5M148.1 436.8H151.5M149.5 433.1H151.5M149.5 431.0H151.5M149.5 429.5H151.5M149.5 428.3H151.5M149.5 427.3H151.5M149.5 426.5H151.5M149.5 425.8H151.5M149.5 425.2H151.5M148.1 424.6H151.5M149.5 420.9H151.5M151.5 485.6V488.8M158.8 485.6V487.2M163.1 485.6V487.2M166.1 485.6V487.2M168.5 485.6V487.2M170.4 485.6V487.2M172.0 485.6V487.2M173.4 485.6V487.2M174.6 485.6V487.2M175.8 485.6V488.8M183.0 485.6V487.2M187.3 485.6V487.2M190.3 485.6V487.2M192.7 485.6V487.2M194.6 485.6V487.2M196.2 485.6V487.2M197.6 485.6V487.2M198.9 485.6V487.2M200.0 485.6V488.8M207.3 485.6V487.2M211.6 485.6V487.2M214.6 485.6V487.2M217.0 485.6V487.2M218.9 485.6V487.2M220.5 485.6V487.2M221.9 485.6V487.2M223.1 485.6V487.2M224.2 485.6V488.8M231.5 485.6V487.2M235.8 485.6V487.2M238.8 485.6V487.2M241.2 485.6V487.2M243.1 485.6V487.2M244.7 485.6V487.2M246.1 485.6V487.2M247.4 485.6V487.2M248.5 485.6V488.8" stroke="#000" stroke-width="0.9" fill="none"/>
<rect x="151.5" y="419.4" width="97.0" height="66.2" fill="none" stroke="#000" stroke-width="1.3"/>
<rect x="174.70" y="430.90" width="3.00" height="1.3" fill="#000"/>
<text x="158.0" y="437.8" font-size="14.3" font-family="Liberation Serif">α</text>
<text x="166.2" y="442.3" font-size="10.2">E</text>
<text x="179.4" y="437.8" font-size="13.2">CD25</text>
<text x="213.5" y="435.1" font-size="12.0">+</text>
<path d="M183.8 564.8L183.8 564.3L185.0 560.7L186.3 558.4L187.3 555.8L188.6 557.8L189.3 559.7L190.0 560.9L190.8 560.8L191.5 561.0L192.2 562.8L193.0 562.6L193.8 563.1L194.6 561.5L195.4 562.6L196.2 562.4L197.0 562.9L197.8 562.0L198.6 563.1L199.4 561.3L200.2 562.0L201.0 562.2L201.8 562.4L202.6 561.9L203.4 561.7L204.2 561.7L205.0 561.7L206.0 560.0L207.0 559.8L208.0 559.6L209.0 558.9L210.0 557.2L211.0 557.0L211.8 556.7L212.5 555.6L213.8 553.8L215.0 556.3L215.8 556.1L216.5 555.7L217.2 554.0L218.0 554.3L218.8 552.9L219.5 550.7L220.3 543.4L221.0 527.8L221.8 515.4L222.6 508.6L223.5 505.4L224.5 507.6L225.3 512.3L226.0 526.5L226.8 539.2L227.7 548.2L228.8 555.5L230.0 559.9L230.8 561.2L231.6 561.2L232.4 561.9L233.2 562.8L234.0 562.1L234.8 561.8L235.5 562.4L236.2 563.2L237.0 562.5L237.8 562.6L238.5 564.1L239.2 563.8L240.0 563.5L240.7 564.4L241.5 563.4L242.2 564.1L242.9 563.4L243.7 563.9L244.4 564.6L245.1 564.9L245.9 564.9L246.6 564.3L246.6 564.8Z" fill="#000" stroke="#000" stroke-width="0.6" stroke-linejoin="round"/>
<path d="M148.6 564.8H152.0M150.0 561.1H152.0M150.0 559.0H152.0M150.0 557.5H152.0M150.0 556.3H152.0M150.0 555.3H152.0M150.0 554.5H152.0M150.0 553.8H152.0M150.0 553.2H152.0M148.6 552.6H152.0M150.0 548.9H152.0M150.0 546.8H152.0M150.0 545.3H152.0M150.0 544.1H152.0M150.0 543.1H152.0M150.0 542.3H152.0M150.0 541.6H152.0M150.0 541.0H152.0M148.6 540.4H152.0M150.0 536.7H152.0M150.0 534.6H152.0M150.0 533.1H152.0M150.0 531.9H152.0M150.0 530.9H152.0M150.0 530.1H152.0M150.0 529.4H152.0M150.0 528.8H152.0M148.6 528.2H152.0M150.0 524.5H152.0M150.0 522.4H152.0M150.0 520.9H152.0M150.0 519.7H152.0M150.0 518.7H152.0M150.0 517.9H152.0M150.0 517.2H152.0M150.0 516.6H152.0M148.6 516.0H152.0M150.0 512.3H152.0M150.0 510.2H152.0M150.0 508.7H152.0M150.0 507.5H152.0M150.0 506.5H152.0M150.0 505.7H152.0M150.0 505.0H152.0M150.0 504.4H152.0M148.6 503.8H152.0M150.0 500.1H152.0M150.0 498.0H152.0M152.0 564.8V568.0M159.3 564.8V566.4M163.6 564.8V566.4M166.6 564.8V566.4M169.0 564.8V566.4M170.9 564.8V566.4M172.5 564.8V566.4M173.9 564.8V566.4M175.1 564.8V566.4M176.2 564.8V568.0M183.5 564.8V566.4M187.8 564.8V566.4M190.8 564.8V566.4M193.2 564.8V566.4M195.1 564.8V566.4M196.7 564.8V566.4M198.1 564.8V566.4M199.4 564.8V566.4M200.5 564.8V568.0M207.8 564.8V566.4M212.1 564.8V566.4M215.1 564.8V566.4M217.5 564.8V566.4M219.4 564.8V566.4M221.0 564.8V566.4M222.4 564.8V566.4M223.6 564.8V566.4M224.8 564.8V568.0M232.0 564.8V566.4M236.3 564.8V566.4M239.3 564.8V566.4M241.7 564.8V566.4M243.6 564.8V566.4M245.2 564.8V566.4M246.6 564.8V566.4M247.9 564.8V566.4M249.0 564.8V568.0" stroke="#000" stroke-width="0.9" fill="none"/>
<rect x="152.0" y="497.8" width="97.0" height="67.0" fill="none" stroke="#000" stroke-width="1.3"/>
<text x="178.8" y="513.2" font-size="15.4" font-family="Liberation Serif">α</text>
<text x="188.2" y="517.4" font-size="11.0">E</text>
<text x="195.6" y="510.2" font-size="12.0">+</text>
<line x1="35.4" y1="580.5" x2="237.5" y2="580.5" stroke="#000" stroke-width="1.5"/>
<polygon points="236.5,576.4 236.5,584.6 247,580.5" fill="#000"/>
<text x="125.6" y="591.6" font-size="11" text-anchor="start" font-weight="normal" >CFSE</text>
<line x1="315.8" y1="564.4" x2="319.4" y2="564.4" stroke="#000" stroke-width="1.1"/>
<text x="313.6" y="567.3" font-size="8.2" text-anchor="end" font-weight="normal" >0</text>
<line x1="315.8" y1="542.2" x2="319.4" y2="542.2" stroke="#000" stroke-width="1.1"/>
<text x="313.6" y="545.1" font-size="8.2" text-anchor="end" font-weight="normal" >200</text>
<line x1="315.8" y1="520.1" x2="319.4" y2="520.1" stroke="#000" stroke-width="1.1"/>
<text x="313.6" y="523.0" font-size="8.2" text-anchor="end" font-weight="normal" >400</text>
<line x1="315.8" y1="497.9" x2="319.4" y2="497.9" stroke="#000" stroke-width="1.1"/>
<text x="313.6" y="500.8" font-size="8.2" text-anchor="end" font-weight="normal" >600</text>
<line x1="315.8" y1="475.8" x2="319.4" y2="475.8" stroke="#000" stroke-width="1.1"/>
<text x="313.6" y="478.7" font-size="8.2" text-anchor="end" font-weight="normal" >800</text>
<line x1="315.8" y1="456.3" x2="319.4" y2="456.3" stroke="#000" stroke-width="1.1"/>
<text x="313.6" y="459.2" font-size="8.2" text-anchor="end" font-weight="normal" >1000</text>
<rect x="334.0" y="548.8" width="36.3" height="15.6" fill="#e0e0e0" stroke="#000" stroke-width="1.2"/>
<rect x="388.2" y="504.3" width="37.6" height="60.1" fill="#fff" stroke="#000" stroke-width="1.2"/>
<path d="M406.9 504.3V501.2M398.2 501.2h17.4" stroke="#000" stroke-width="1.2" fill="none"/>
<rect x="444.1" y="496.6" width="37.1" height="67.8" fill="#000" stroke="#000" stroke-width="1.2"/>
<path d="M455 496.1h17" stroke="#000" stroke-width="1.2"/>
<rect x="319.4" y="453.3" width="174.3" height="111.1" fill="none" stroke="#000" stroke-width="1.2"/>
<text transform="translate(285.6,505.8) rotate(-90)" font-size="13" text-anchor="middle">CFSE geo mean</text>
<text x="348.8" y="589.2" font-size="12" text-anchor="middle" font-weight="normal" >medium</text>
<rect x="394.84" y="582.55" width="2.63" height="1.3" fill="#000"/>
<text x="380.2" y="588.6" font-size="12.5" font-family="Liberation Serif">α</text>
<text x="387.4" y="592.5" font-size="8.9">E</text>
<text x="399.0" y="588.6" font-size="11.6">CD25</text>
<text x="428.9" y="586.2" font-size="10.5">+</text>
<text x="457.0" y="587.6" font-size="12.9" font-family="Liberation Serif">α</text>
<text x="464.9" y="591.1" font-size="9.2">E</text>
<text x="471.1" y="585.1" font-size="10.1">+</text>
</svg>
</body></html>
